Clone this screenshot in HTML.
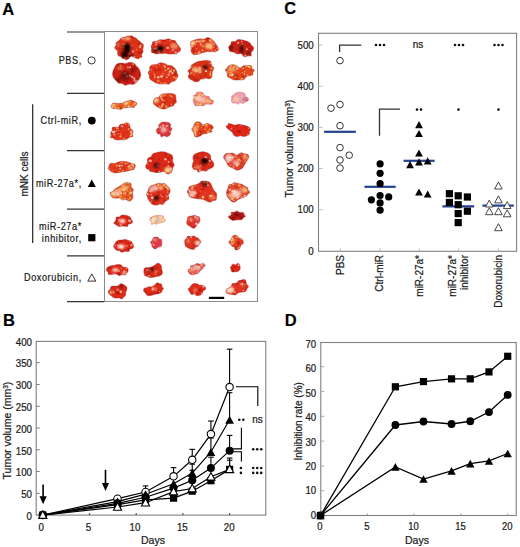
<!DOCTYPE html>
<html><head><meta charset="utf-8"><style>
html,body{margin:0;padding:0;background:#fff;}
body{width:520px;height:547px;overflow:hidden;}
svg{display:block;font-family:"Liberation Sans", sans-serif;}
text{stroke:#1a1a1a;stroke-width:0.22px;}
text.nb{stroke:none;}
</style></head><body>
<svg width="520" height="547" viewBox="0 0 520 547">
<text x="2.30" y="15.20" font-size="16.5" text-anchor="start" font-weight="bold" fill="#000">A</text>
<text x="284.20" y="14.30" font-size="16.5" text-anchor="start" font-weight="bold" fill="#000">C</text>
<text x="3.00" y="326.20" font-size="16.5" text-anchor="start" font-weight="bold" fill="#000">B</text>
<text x="284.80" y="326.20" font-size="16.5" text-anchor="start" font-weight="bold" fill="#000">D</text>
<line x1="67.00" y1="32.00" x2="104.50" y2="32.00" stroke="#333" stroke-width="1.2"/>
<line x1="67.00" y1="93.30" x2="104.50" y2="93.30" stroke="#333" stroke-width="1.2"/>
<line x1="67.00" y1="150.60" x2="104.50" y2="150.60" stroke="#333" stroke-width="1.2"/>
<line x1="67.00" y1="209.20" x2="104.50" y2="209.20" stroke="#333" stroke-width="1.2"/>
<line x1="67.00" y1="255.80" x2="104.50" y2="255.80" stroke="#333" stroke-width="1.2"/>
<line x1="67.00" y1="301.70" x2="104.50" y2="301.70" stroke="#333" stroke-width="1.2"/>
<line x1="32.70" y1="104.20" x2="32.70" y2="242.90" stroke="#222" stroke-width="1.2"/>
<text x="27.60" y="174.00" font-size="10" text-anchor="middle" font-weight="normal" fill="#1a1a1a" transform="rotate(-90 27.6 174)">mNK cells</text>
<text transform="translate(81.80 63.50) scale(0.86 1)" font-size="10.6" letter-spacing="0.7" text-anchor="end" fill="#1a1a1a">PBS,</text>
<circle cx="91.60" cy="60.40" r="3.6" fill="#fff" stroke="#333" stroke-width="1"/>
<text transform="translate(81.80 124.10) scale(0.86 1)" font-size="10.6" letter-spacing="0.7" text-anchor="end" fill="#1a1a1a">Ctrl-miR,</text>
<circle cx="91.80" cy="120.60" r="3.9" fill="#000" stroke="none" stroke-width="1"/>
<text transform="translate(81.80 186.80) scale(0.86 1)" font-size="10.6" letter-spacing="0.7" text-anchor="end" fill="#1a1a1a">miR-27a*,</text>
<path d="M91.80 179.50L95.80 186.90L87.80 186.90Z" fill="#000" stroke="none" stroke-width="1" stroke-linejoin="miter"/>
<text transform="translate(81.80 230.00) scale(0.86 1)" font-size="10.6" letter-spacing="0.7" text-anchor="end" fill="#1a1a1a">miR-27a*</text>
<text transform="translate(81.80 242.30) scale(0.86 1)" font-size="10.6" letter-spacing="0.7" text-anchor="end" fill="#1a1a1a">inhibitor,</text>
<rect x="88.20" y="234.10" width="7.2" height="7.2" fill="#000" stroke="none" stroke-width="1"/>
<text transform="translate(81.80 280.90) scale(0.86 1)" font-size="10.6" letter-spacing="0.7" text-anchor="end" fill="#1a1a1a">Doxorubicin,</text>
<path d="M91.80 273.90L95.80 281.10L87.80 281.10Z" fill="#fff" stroke="#333" stroke-width="1" stroke-linejoin="miter"/>
<g id="photo"><defs><filter id="bl2" x="-50%" y="-50%" width="200%" height="200%"><feGaussianBlur stdDeviation="0.9"/></filter><filter id="bl3" x="-50%" y="-50%" width="200%" height="200%"><feGaussianBlur stdDeviation="0.6"/></filter><filter id="tum" x="100" y="30" width="160" height="275" filterUnits="userSpaceOnUse"><feGaussianBlur stdDeviation="0.6"/></filter></defs><g filter="url(#tum)"><clipPath id="cA1"><path d="M114.7 48.0C114.5 47.1 115.7 46.4 116.0 45.6C116.2 44.7 115.8 43.6 116.1 42.8C116.5 42.1 117.5 41.7 118.1 41.2C118.7 40.6 119.2 40.0 119.9 39.4C120.5 38.8 121.0 37.8 121.9 37.4C122.8 37.0 124.2 37.4 125.1 37.2C125.9 37.0 126.3 36.5 126.9 36.3C127.6 36.1 128.2 36.1 129.0 36.0C129.8 35.9 130.8 35.5 131.6 35.8C132.4 36.0 133.2 37.2 134.0 37.6C134.7 38.0 135.6 37.8 136.3 38.2C137.0 38.6 137.3 39.6 137.9 40.1C138.5 40.7 139.2 41.0 139.8 41.5C140.3 42.0 140.8 42.5 141.4 43.1C142.0 43.6 143.0 44.0 143.3 44.6C143.6 45.3 143.4 46.2 143.3 47.0C143.2 47.8 142.8 48.6 142.7 49.5C142.7 50.3 143.2 51.3 143.0 52.0C142.8 52.8 141.8 53.4 141.6 54.2C141.4 55.1 142.1 56.6 141.8 57.2C141.5 57.8 140.2 57.4 139.7 57.6C139.2 57.9 139.0 58.7 138.5 58.8C138.1 59.0 137.7 58.9 137.2 58.8C136.6 58.6 135.8 58.1 135.1 57.8C134.5 57.5 134.0 57.2 133.5 56.9C132.9 56.7 132.4 56.3 131.9 56.3C131.4 56.2 131.0 56.2 130.5 56.5C130.0 56.9 129.7 57.7 129.0 58.3C128.4 58.8 127.3 59.7 126.6 59.9C126.0 60.0 125.6 59.4 124.9 59.1C124.3 58.9 123.3 58.8 122.6 58.4C122.0 58.1 121.9 57.3 121.2 56.8C120.5 56.4 119.0 56.3 118.4 55.8C117.8 55.2 117.8 54.3 117.6 53.5C117.4 52.6 117.9 51.5 117.4 50.6C116.9 49.7 115.0 48.8 114.7 48.0Z"/></clipPath><path d="M114.7 48.0C114.5 47.1 115.7 46.4 116.0 45.6C116.2 44.7 115.8 43.6 116.1 42.8C116.5 42.1 117.5 41.7 118.1 41.2C118.7 40.6 119.2 40.0 119.9 39.4C120.5 38.8 121.0 37.8 121.9 37.4C122.8 37.0 124.2 37.4 125.1 37.2C125.9 37.0 126.3 36.5 126.9 36.3C127.6 36.1 128.2 36.1 129.0 36.0C129.8 35.9 130.8 35.5 131.6 35.8C132.4 36.0 133.2 37.2 134.0 37.6C134.7 38.0 135.6 37.8 136.3 38.2C137.0 38.6 137.3 39.6 137.9 40.1C138.5 40.7 139.2 41.0 139.8 41.5C140.3 42.0 140.8 42.5 141.4 43.1C142.0 43.6 143.0 44.0 143.3 44.6C143.6 45.3 143.4 46.2 143.3 47.0C143.2 47.8 142.8 48.6 142.7 49.5C142.7 50.3 143.2 51.3 143.0 52.0C142.8 52.8 141.8 53.4 141.6 54.2C141.4 55.1 142.1 56.6 141.8 57.2C141.5 57.8 140.2 57.4 139.7 57.6C139.2 57.9 139.0 58.7 138.5 58.8C138.1 59.0 137.7 58.9 137.2 58.8C136.6 58.6 135.8 58.1 135.1 57.8C134.5 57.5 134.0 57.2 133.5 56.9C132.9 56.7 132.4 56.3 131.9 56.3C131.4 56.2 131.0 56.2 130.5 56.5C130.0 56.9 129.7 57.7 129.0 58.3C128.4 58.8 127.3 59.7 126.6 59.9C126.0 60.0 125.6 59.4 124.9 59.1C124.3 58.9 123.3 58.8 122.6 58.4C122.0 58.1 121.9 57.3 121.2 56.8C120.5 56.4 119.0 56.3 118.4 55.8C117.8 55.2 117.8 54.3 117.6 53.5C117.4 52.6 117.9 51.5 117.4 50.6C116.9 49.7 115.0 48.8 114.7 48.0Z" fill="#dc3018"/><g clip-path="url(#cA1)"><circle cx="138.7" cy="43.6" r="1.22" fill="#980a0a" opacity="0.40"/><circle cx="137.8" cy="37.0" r="1.45" fill="#980a0a" opacity="0.37"/><circle cx="118.6" cy="46.8" r="0.89" fill="#980a0a" opacity="0.38"/><circle cx="123.2" cy="56.8" r="1.22" fill="#980a0a" opacity="0.23"/><circle cx="140.0" cy="38.9" r="1.00" fill="#980a0a" opacity="0.17"/><circle cx="124.7" cy="36.8" r="1.44" fill="#980a0a" opacity="0.29"/><circle cx="120.6" cy="51.2" r="1.02" fill="#980a0a" opacity="0.27"/><circle cx="139.5" cy="52.7" r="1.51" fill="#980a0a" opacity="0.42"/><circle cx="132.2" cy="37.4" r="1.57" fill="#980a0a" opacity="0.38"/><circle cx="124.1" cy="44.5" r="1.07" fill="#980a0a" opacity="0.36"/><circle cx="130.6" cy="47.6" r="0.90" fill="#980a0a" opacity="0.28"/><circle cx="127.3" cy="44.2" r="1.45" fill="#980a0a" opacity="0.27"/><circle cx="127.4" cy="41.2" r="1.29" fill="#980a0a" opacity="0.19"/><circle cx="121.7" cy="54.4" r="1.04" fill="#980a0a" opacity="0.15"/><circle cx="131.1" cy="46.1" r="1.39" fill="#980a0a" opacity="0.39"/><circle cx="131.7" cy="48.0" r="1.05" fill="#980a0a" opacity="0.38"/><circle cx="139.6" cy="40.9" r="0.96" fill="#980a0a" opacity="0.21"/><circle cx="119.1" cy="44.6" r="0.87" fill="#980a0a" opacity="0.38"/><circle cx="119.8" cy="48.3" r="1.04" fill="#980a0a" opacity="0.32"/><circle cx="135.7" cy="36.8" r="1.23" fill="#980a0a" opacity="0.33"/><circle cx="141.9" cy="37.7" r="1.09" fill="#980a0a" opacity="0.22"/><circle cx="119.0" cy="40.2" r="0.72" fill="#980a0a" opacity="0.16"/><circle cx="120.3" cy="44.6" r="0.85" fill="#980a0a" opacity="0.33"/><circle cx="126.9" cy="56.1" r="1.43" fill="#980a0a" opacity="0.35"/><circle cx="122.4" cy="48.7" r="0.87" fill="#980a0a" opacity="0.42"/><circle cx="141.7" cy="52.0" r="1.24" fill="#980a0a" opacity="0.33"/><circle cx="141.9" cy="36.9" r="1.35" fill="#980a0a" opacity="0.34"/><circle cx="122.2" cy="51.6" r="0.78" fill="#980a0a" opacity="0.31"/><circle cx="131.8" cy="58.8" r="1.05" fill="#980a0a" opacity="0.38"/><circle cx="116.6" cy="45.7" r="1.30" fill="#980a0a" opacity="0.35"/><circle cx="115.2" cy="52.0" r="1.30" fill="#980a0a" opacity="0.41"/><circle cx="116.3" cy="39.0" r="0.56" fill="#ffe8b0" opacity="0.49"/><circle cx="136.3" cy="49.5" r="0.67" fill="#ffd8d0" opacity="0.59"/><circle cx="133.0" cy="51.6" r="1.24" fill="#ffc8c0" opacity="0.56"/><circle cx="138.3" cy="38.9" r="1.12" fill="#ffffff" opacity="0.53"/><circle cx="124.8" cy="57.7" r="1.24" fill="#ffc8c0" opacity="0.44"/><circle cx="122.7" cy="36.7" r="0.71" fill="#ffc8c0" opacity="0.70"/><circle cx="125.1" cy="44.4" r="0.72" fill="#ffe8b0" opacity="0.74"/><circle cx="131.3" cy="45.6" r="0.91" fill="#ffffff" opacity="0.43"/><circle cx="124.4" cy="47.5" r="1.30" fill="#ffc8c0" opacity="0.65"/><circle cx="128.2" cy="38.6" r="1.18" fill="#ffc8c0" opacity="0.42"/><circle cx="122.3" cy="38.3" r="1.30" fill="#ffffff" opacity="0.51"/><circle cx="127.0" cy="45.7" r="0.58" fill="#ffc8c0" opacity="0.55"/><circle cx="123.5" cy="44.1" r="0.82" fill="#ffc8c0" opacity="0.78"/><circle cx="139.9" cy="47.2" r="1.15" fill="#ffe8b0" opacity="0.61"/><circle cx="134.3" cy="56.9" r="0.99" fill="#ffe8e0" opacity="0.76"/><circle cx="130.0" cy="47.9" r="0.81" fill="#ffffff" opacity="0.73"/><circle cx="130.0" cy="49.5" r="0.97" fill="#ffc8c0" opacity="0.58"/><circle cx="129.6" cy="53.9" r="0.89" fill="#ffc8c0" opacity="0.54"/><circle cx="140.7" cy="45.6" r="0.97" fill="#ffc8c0" opacity="0.78"/><ellipse cx="127" cy="38.5" rx="4" ry="2" fill="#ffe49a" opacity="0.6" filter="url(#bl2)"/><ellipse cx="118" cy="45" rx="2" ry="2" fill="#ffe49a" opacity="0.4" filter="url(#bl2)"/><ellipse cx="127" cy="48.5" rx="3.8" ry="5" fill="#1e0404" opacity="0.9974999999999999" filter="url(#bl2)"/><ellipse cx="124.5" cy="54.5" rx="3.5" ry="3.5" fill="#1e0404" opacity="0.9450000000000001" filter="url(#bl2)"/><ellipse cx="131" cy="56" rx="2.5" ry="2.5" fill="#1e0404" opacity="0.63" filter="url(#bl2)"/></g><path d="M114.7 48.0C114.5 47.1 115.7 46.4 116.0 45.6C116.2 44.7 115.8 43.6 116.1 42.8C116.5 42.1 117.5 41.7 118.1 41.2C118.7 40.6 119.2 40.0 119.9 39.4C120.5 38.8 121.0 37.8 121.9 37.4C122.8 37.0 124.2 37.4 125.1 37.2C125.9 37.0 126.3 36.5 126.9 36.3C127.6 36.1 128.2 36.1 129.0 36.0C129.8 35.9 130.8 35.5 131.6 35.8C132.4 36.0 133.2 37.2 134.0 37.6C134.7 38.0 135.6 37.8 136.3 38.2C137.0 38.6 137.3 39.6 137.9 40.1C138.5 40.7 139.2 41.0 139.8 41.5C140.3 42.0 140.8 42.5 141.4 43.1C142.0 43.6 143.0 44.0 143.3 44.6C143.6 45.3 143.4 46.2 143.3 47.0C143.2 47.8 142.8 48.6 142.7 49.5C142.7 50.3 143.2 51.3 143.0 52.0C142.8 52.8 141.8 53.4 141.6 54.2C141.4 55.1 142.1 56.6 141.8 57.2C141.5 57.8 140.2 57.4 139.7 57.6C139.2 57.9 139.0 58.7 138.5 58.8C138.1 59.0 137.7 58.9 137.2 58.8C136.6 58.6 135.8 58.1 135.1 57.8C134.5 57.5 134.0 57.2 133.5 56.9C132.9 56.7 132.4 56.3 131.9 56.3C131.4 56.2 131.0 56.2 130.5 56.5C130.0 56.9 129.7 57.7 129.0 58.3C128.4 58.8 127.3 59.7 126.6 59.9C126.0 60.0 125.6 59.4 124.9 59.1C124.3 58.9 123.3 58.8 122.6 58.4C122.0 58.1 121.9 57.3 121.2 56.8C120.5 56.4 119.0 56.3 118.4 55.8C117.8 55.2 117.8 54.3 117.6 53.5C117.4 52.6 117.9 51.5 117.4 50.6C116.9 49.7 115.0 48.8 114.7 48.0Z" fill="none" stroke="#8e0c10" stroke-width="1.1" stroke-opacity="0.32"/><clipPath id="cA2"><path d="M151.1 46.4C151.2 45.6 152.1 45.0 152.4 44.2C152.7 43.4 152.2 42.2 153.0 41.7C153.8 41.2 155.8 41.5 156.9 41.2C158.0 40.8 158.4 40.0 159.6 39.8C160.8 39.6 162.6 40.0 164.1 39.9C165.6 39.7 167.4 38.7 168.6 38.7C169.8 38.8 170.4 39.7 171.5 40.1C172.6 40.4 174.2 40.2 175.1 40.8C176.0 41.4 176.2 42.8 176.9 43.8C177.6 44.7 178.5 45.6 179.1 46.4C179.7 47.3 180.4 48.0 180.5 48.8C180.7 49.5 180.4 50.3 180.0 50.9C179.5 51.5 178.4 51.8 177.8 52.3C177.2 52.8 177.2 53.7 176.3 54.0C175.3 54.2 173.6 53.9 172.3 53.9C171.0 53.9 169.7 54.0 168.5 53.9C167.4 53.7 166.5 53.3 165.5 53.2C164.5 53.1 163.4 53.4 162.4 53.5C161.4 53.5 160.5 53.5 159.5 53.6C158.5 53.7 157.4 54.0 156.4 53.9C155.4 53.8 154.5 53.4 153.7 53.1C152.9 52.7 151.8 52.5 151.5 51.9C151.1 51.2 151.7 50.0 151.6 49.1C151.6 48.2 151.0 47.2 151.1 46.4Z"/></clipPath><path d="M151.1 46.4C151.2 45.6 152.1 45.0 152.4 44.2C152.7 43.4 152.2 42.2 153.0 41.7C153.8 41.2 155.8 41.5 156.9 41.2C158.0 40.8 158.4 40.0 159.6 39.8C160.8 39.6 162.6 40.0 164.1 39.9C165.6 39.7 167.4 38.7 168.6 38.7C169.8 38.8 170.4 39.7 171.5 40.1C172.6 40.4 174.2 40.2 175.1 40.8C176.0 41.4 176.2 42.8 176.9 43.8C177.6 44.7 178.5 45.6 179.1 46.4C179.7 47.3 180.4 48.0 180.5 48.8C180.7 49.5 180.4 50.3 180.0 50.9C179.5 51.5 178.4 51.8 177.8 52.3C177.2 52.8 177.2 53.7 176.3 54.0C175.3 54.2 173.6 53.9 172.3 53.9C171.0 53.9 169.7 54.0 168.5 53.9C167.4 53.7 166.5 53.3 165.5 53.2C164.5 53.1 163.4 53.4 162.4 53.5C161.4 53.5 160.5 53.5 159.5 53.6C158.5 53.7 157.4 54.0 156.4 53.9C155.4 53.8 154.5 53.4 153.7 53.1C152.9 52.7 151.8 52.5 151.5 51.9C151.1 51.2 151.7 50.0 151.6 49.1C151.6 48.2 151.0 47.2 151.1 46.4Z" fill="#e0301c"/><g clip-path="url(#cA2)"><circle cx="167.8" cy="50.9" r="1.49" fill="#980a0a" opacity="0.19"/><circle cx="167.0" cy="53.9" r="1.53" fill="#980a0a" opacity="0.29"/><circle cx="179.7" cy="43.9" r="1.55" fill="#980a0a" opacity="0.27"/><circle cx="161.6" cy="40.3" r="1.04" fill="#980a0a" opacity="0.23"/><circle cx="165.2" cy="46.7" r="1.00" fill="#980a0a" opacity="0.33"/><circle cx="170.1" cy="47.7" r="1.14" fill="#980a0a" opacity="0.16"/><circle cx="154.4" cy="51.9" r="1.45" fill="#980a0a" opacity="0.27"/><circle cx="167.7" cy="49.9" r="1.54" fill="#980a0a" opacity="0.15"/><circle cx="161.3" cy="50.8" r="1.60" fill="#980a0a" opacity="0.35"/><circle cx="164.7" cy="40.2" r="1.29" fill="#980a0a" opacity="0.29"/><circle cx="177.1" cy="51.7" r="0.93" fill="#980a0a" opacity="0.21"/><circle cx="179.0" cy="43.5" r="1.17" fill="#980a0a" opacity="0.22"/><circle cx="174.0" cy="41.5" r="1.21" fill="#980a0a" opacity="0.34"/><circle cx="171.4" cy="49.4" r="1.30" fill="#980a0a" opacity="0.19"/><circle cx="163.1" cy="40.5" r="1.22" fill="#980a0a" opacity="0.20"/><circle cx="161.5" cy="51.6" r="1.12" fill="#980a0a" opacity="0.42"/><circle cx="171.7" cy="39.0" r="1.56" fill="#980a0a" opacity="0.18"/><circle cx="179.9" cy="40.7" r="0.74" fill="#980a0a" opacity="0.30"/><circle cx="152.7" cy="43.7" r="1.18" fill="#980a0a" opacity="0.42"/><circle cx="167.8" cy="45.5" r="1.42" fill="#980a0a" opacity="0.39"/><circle cx="155.1" cy="38.9" r="1.17" fill="#980a0a" opacity="0.42"/><circle cx="162.8" cy="50.7" r="1.14" fill="#980a0a" opacity="0.22"/><circle cx="159.5" cy="50.3" r="1.26" fill="#ffe8b0" opacity="0.77"/><circle cx="175.7" cy="52.7" r="1.26" fill="#ffffff" opacity="0.59"/><circle cx="174.6" cy="38.8" r="0.99" fill="#ffffff" opacity="0.43"/><circle cx="162.9" cy="51.4" r="0.51" fill="#ffd8d0" opacity="0.52"/><circle cx="167.6" cy="47.8" r="1.22" fill="#ffe8e0" opacity="0.56"/><circle cx="156.0" cy="44.4" r="1.03" fill="#ffffff" opacity="0.45"/><circle cx="176.7" cy="46.3" r="0.52" fill="#ffc8c0" opacity="0.49"/><circle cx="159.2" cy="53.5" r="0.98" fill="#ffffff" opacity="0.54"/><circle cx="162.8" cy="49.5" r="1.12" fill="#ffe8b0" opacity="0.40"/><circle cx="172.8" cy="50.0" r="1.01" fill="#ffe8e0" opacity="0.56"/><circle cx="154.2" cy="48.8" r="0.87" fill="#ffe8b0" opacity="0.56"/><circle cx="162.5" cy="46.4" r="0.64" fill="#ffe8b0" opacity="0.49"/><circle cx="168.1" cy="47.9" r="0.82" fill="#ffd8d0" opacity="0.49"/><circle cx="170.2" cy="40.6" r="0.80" fill="#ffe8b0" opacity="0.48"/><circle cx="156.2" cy="42.1" r="0.96" fill="#ffe8e0" opacity="0.58"/><circle cx="156.2" cy="48.4" r="0.91" fill="#ffffff" opacity="0.71"/><circle cx="154.5" cy="48.8" r="0.69" fill="#ffc8c0" opacity="0.64"/><ellipse cx="174" cy="46" rx="4" ry="3" fill="#ffe49a" opacity="0.5" filter="url(#bl2)"/><ellipse cx="158" cy="41" rx="3" ry="1.5" fill="#ffe49a" opacity="0.6" filter="url(#bl2)"/><ellipse cx="160.5" cy="48.5" rx="3.4" ry="3" fill="#1e0404" opacity="0.9974999999999999" filter="url(#bl2)"/><ellipse cx="155" cy="50.5" rx="2.5" ry="2.5" fill="#1e0404" opacity="0.525" filter="url(#bl2)"/></g><path d="M151.1 46.4C151.2 45.6 152.1 45.0 152.4 44.2C152.7 43.4 152.2 42.2 153.0 41.7C153.8 41.2 155.8 41.5 156.9 41.2C158.0 40.8 158.4 40.0 159.6 39.8C160.8 39.6 162.6 40.0 164.1 39.9C165.6 39.7 167.4 38.7 168.6 38.7C169.8 38.8 170.4 39.7 171.5 40.1C172.6 40.4 174.2 40.2 175.1 40.8C176.0 41.4 176.2 42.8 176.9 43.8C177.6 44.7 178.5 45.6 179.1 46.4C179.7 47.3 180.4 48.0 180.5 48.8C180.7 49.5 180.4 50.3 180.0 50.9C179.5 51.5 178.4 51.8 177.8 52.3C177.2 52.8 177.2 53.7 176.3 54.0C175.3 54.2 173.6 53.9 172.3 53.9C171.0 53.9 169.7 54.0 168.5 53.9C167.4 53.7 166.5 53.3 165.5 53.2C164.5 53.1 163.4 53.4 162.4 53.5C161.4 53.5 160.5 53.5 159.5 53.6C158.5 53.7 157.4 54.0 156.4 53.9C155.4 53.8 154.5 53.4 153.7 53.1C152.9 52.7 151.8 52.5 151.5 51.9C151.1 51.2 151.7 50.0 151.6 49.1C151.6 48.2 151.0 47.2 151.1 46.4Z" fill="none" stroke="#8e0c10" stroke-width="1.1" stroke-opacity="0.32"/><clipPath id="cA3"><path d="M190.9 41.8C191.6 40.9 193.5 40.5 195.0 39.9C196.5 39.4 198.6 38.9 200.0 38.7C201.5 38.6 202.5 39.5 203.8 39.3C205.1 39.1 206.6 37.6 207.8 37.6C209.1 37.6 210.4 38.5 211.4 39.2C212.4 39.9 213.2 40.7 214.1 41.7C214.9 42.6 215.6 43.8 216.3 44.8C217.0 45.9 218.0 47.0 218.3 47.9C218.6 48.8 218.6 49.5 218.1 50.1C217.6 50.7 216.5 51.5 215.2 51.7C214.0 52.0 212.0 51.6 210.5 51.6C209.0 51.6 207.5 51.5 206.1 51.7C204.8 51.8 203.7 52.3 202.4 52.7C201.1 53.1 199.5 53.8 198.4 54.1C197.4 54.4 196.9 54.3 196.2 54.4C195.4 54.5 194.7 55.0 193.9 54.7C193.2 54.4 192.1 53.5 191.6 52.6C191.2 51.8 191.2 50.8 191.0 49.6C190.9 48.4 190.9 46.9 190.9 45.6C190.9 44.3 190.2 42.8 190.9 41.8Z"/></clipPath><path d="M190.9 41.8C191.6 40.9 193.5 40.5 195.0 39.9C196.5 39.4 198.6 38.9 200.0 38.7C201.5 38.6 202.5 39.5 203.8 39.3C205.1 39.1 206.6 37.6 207.8 37.6C209.1 37.6 210.4 38.5 211.4 39.2C212.4 39.9 213.2 40.7 214.1 41.7C214.9 42.6 215.6 43.8 216.3 44.8C217.0 45.9 218.0 47.0 218.3 47.9C218.6 48.8 218.6 49.5 218.1 50.1C217.6 50.7 216.5 51.5 215.2 51.7C214.0 52.0 212.0 51.6 210.5 51.6C209.0 51.6 207.5 51.5 206.1 51.7C204.8 51.8 203.7 52.3 202.4 52.7C201.1 53.1 199.5 53.8 198.4 54.1C197.4 54.4 196.9 54.3 196.2 54.4C195.4 54.5 194.7 55.0 193.9 54.7C193.2 54.4 192.1 53.5 191.6 52.6C191.2 51.8 191.2 50.8 191.0 49.6C190.9 48.4 190.9 46.9 190.9 45.6C190.9 44.3 190.2 42.8 190.9 41.8Z" fill="#e2361a"/><g clip-path="url(#cA3)"><circle cx="194.5" cy="51.8" r="0.78" fill="#980a0a" opacity="0.41"/><circle cx="195.1" cy="45.4" r="1.22" fill="#980a0a" opacity="0.29"/><circle cx="208.1" cy="41.4" r="1.57" fill="#980a0a" opacity="0.20"/><circle cx="199.4" cy="39.7" r="1.21" fill="#980a0a" opacity="0.40"/><circle cx="218.1" cy="52.0" r="1.08" fill="#980a0a" opacity="0.33"/><circle cx="203.9" cy="41.1" r="1.50" fill="#980a0a" opacity="0.29"/><circle cx="214.3" cy="43.5" r="1.12" fill="#980a0a" opacity="0.24"/><circle cx="214.3" cy="44.9" r="1.47" fill="#980a0a" opacity="0.34"/><circle cx="192.7" cy="43.7" r="1.02" fill="#980a0a" opacity="0.37"/><circle cx="194.4" cy="38.5" r="1.23" fill="#980a0a" opacity="0.40"/><circle cx="204.2" cy="52.2" r="0.95" fill="#980a0a" opacity="0.26"/><circle cx="207.7" cy="38.9" r="1.53" fill="#980a0a" opacity="0.38"/><circle cx="198.5" cy="42.5" r="1.11" fill="#980a0a" opacity="0.32"/><circle cx="215.7" cy="47.6" r="1.17" fill="#980a0a" opacity="0.24"/><circle cx="192.4" cy="48.3" r="1.59" fill="#980a0a" opacity="0.42"/><circle cx="191.9" cy="42.0" r="1.19" fill="#980a0a" opacity="0.22"/><circle cx="196.4" cy="47.4" r="0.73" fill="#980a0a" opacity="0.38"/><circle cx="191.4" cy="53.1" r="1.42" fill="#980a0a" opacity="0.21"/><circle cx="204.5" cy="44.1" r="1.19" fill="#980a0a" opacity="0.28"/><circle cx="193.9" cy="51.6" r="1.33" fill="#980a0a" opacity="0.30"/><circle cx="215.8" cy="54.3" r="1.29" fill="#980a0a" opacity="0.35"/><circle cx="192.4" cy="51.0" r="0.87" fill="#980a0a" opacity="0.26"/><circle cx="201.1" cy="51.7" r="0.96" fill="#980a0a" opacity="0.35"/><circle cx="214.2" cy="44.1" r="1.21" fill="#ffe8a0" opacity="0.54"/><circle cx="202.9" cy="46.3" r="1.26" fill="#ffd870" opacity="0.46"/><circle cx="202.5" cy="50.3" r="1.14" fill="#ffffff" opacity="0.52"/><circle cx="200.8" cy="44.6" r="1.00" fill="#ffe0c0" opacity="0.73"/><circle cx="196.4" cy="41.3" r="0.84" fill="#ffffff" opacity="0.55"/><circle cx="212.1" cy="53.3" r="1.05" fill="#ffe8a0" opacity="0.49"/><circle cx="211.1" cy="40.5" r="1.20" fill="#ffc860" opacity="0.46"/><circle cx="212.4" cy="50.8" r="0.67" fill="#ffe0c0" opacity="0.71"/><circle cx="194.7" cy="42.8" r="0.54" fill="#ffd870" opacity="0.74"/><circle cx="199.3" cy="41.7" r="0.61" fill="#fff4d8" opacity="0.60"/><circle cx="191.8" cy="46.7" r="0.88" fill="#fff4d8" opacity="0.74"/><circle cx="191.4" cy="52.9" r="1.06" fill="#ffd870" opacity="0.73"/><circle cx="218.4" cy="39.9" r="0.98" fill="#ffc860" opacity="0.51"/><circle cx="211.6" cy="46.6" r="0.62" fill="#ffc860" opacity="0.66"/><circle cx="215.2" cy="50.4" r="0.81" fill="#fff4d8" opacity="0.44"/><circle cx="214.2" cy="47.1" r="0.59" fill="#ffe8a0" opacity="0.68"/><circle cx="212.4" cy="42.3" r="0.82" fill="#fff4d8" opacity="0.70"/><circle cx="196.4" cy="48.6" r="0.56" fill="#fff4d8" opacity="0.62"/><circle cx="217.5" cy="48.3" r="0.98" fill="#ffc860" opacity="0.64"/><circle cx="196.4" cy="41.2" r="0.60" fill="#ffe0c0" opacity="0.73"/><circle cx="210.9" cy="48.5" r="1.11" fill="#ffe8a0" opacity="0.59"/><circle cx="198.7" cy="41.0" r="0.64" fill="#ffe0c0" opacity="0.69"/><circle cx="191.1" cy="48.4" r="1.10" fill="#ffe8a0" opacity="0.61"/><circle cx="210.1" cy="40.5" r="1.38" fill="#ffd878" opacity="0.62"/><circle cx="198.8" cy="53.5" r="1.36" fill="#ffd878" opacity="0.65"/><circle cx="195.4" cy="53.6" r="1.07" fill="#ffd878" opacity="0.46"/><circle cx="203.8" cy="40.8" r="1.39" fill="#ffd878" opacity="0.59"/><circle cx="199.6" cy="52.5" r="1.46" fill="#ffd878" opacity="0.49"/><circle cx="197.2" cy="41.7" r="1.01" fill="#ffd878" opacity="0.51"/><ellipse cx="192" cy="43" rx="3.5" ry="3" fill="#ffe49a" opacity="0.9" filter="url(#bl2)"/><ellipse cx="209" cy="46" rx="4" ry="3" fill="#ffe49a" opacity="0.8" filter="url(#bl2)"/><ellipse cx="201" cy="41" rx="3" ry="2" fill="#ffe49a" opacity="0.5" filter="url(#bl2)"/></g><path d="M190.9 41.8C191.6 40.9 193.5 40.5 195.0 39.9C196.5 39.4 198.6 38.9 200.0 38.7C201.5 38.6 202.5 39.5 203.8 39.3C205.1 39.1 206.6 37.6 207.8 37.6C209.1 37.6 210.4 38.5 211.4 39.2C212.4 39.9 213.2 40.7 214.1 41.7C214.9 42.6 215.6 43.8 216.3 44.8C217.0 45.9 218.0 47.0 218.3 47.9C218.6 48.8 218.6 49.5 218.1 50.1C217.6 50.7 216.5 51.5 215.2 51.7C214.0 52.0 212.0 51.6 210.5 51.6C209.0 51.6 207.5 51.5 206.1 51.7C204.8 51.8 203.7 52.3 202.4 52.7C201.1 53.1 199.5 53.8 198.4 54.1C197.4 54.4 196.9 54.3 196.2 54.4C195.4 54.5 194.7 55.0 193.9 54.7C193.2 54.4 192.1 53.5 191.6 52.6C191.2 51.8 191.2 50.8 191.0 49.6C190.9 48.4 190.9 46.9 190.9 45.6C190.9 44.3 190.2 42.8 190.9 41.8Z" fill="none" stroke="#8e0c10" stroke-width="1.1" stroke-opacity="0.32"/><clipPath id="cA4"><path d="M228.9 46.4C229.2 45.7 230.5 45.2 230.9 44.4C231.3 43.6 230.6 42.2 231.4 41.7C232.1 41.2 234.2 41.7 235.4 41.4C236.6 41.0 237.3 39.8 238.4 39.6C239.6 39.4 241.1 39.9 242.4 40.1C243.7 40.3 245.1 40.6 246.2 41.0C247.4 41.4 248.5 41.9 249.3 42.6C250.1 43.3 250.4 44.1 251.1 44.9C251.8 45.7 253.2 46.5 253.5 47.4C253.9 48.3 253.5 49.3 253.1 50.2C252.7 51.0 251.5 51.6 251.1 52.5C250.8 53.4 251.6 55.2 251.1 55.8C250.5 56.3 248.7 55.7 247.6 55.9C246.6 56.1 245.5 56.8 244.7 56.7C243.9 56.6 243.5 55.9 242.8 55.3C242.2 54.8 241.8 53.7 240.8 53.5C239.8 53.2 237.7 54.0 236.6 53.8C235.5 53.6 234.9 52.7 234.1 52.3C233.3 52.0 232.3 52.0 231.6 51.8C230.9 51.5 230.1 51.5 229.7 51.0C229.2 50.5 229.2 49.5 229.0 48.7C228.9 47.9 228.6 47.1 228.9 46.4Z"/></clipPath><path d="M228.9 46.4C229.2 45.7 230.5 45.2 230.9 44.4C231.3 43.6 230.6 42.2 231.4 41.7C232.1 41.2 234.2 41.7 235.4 41.4C236.6 41.0 237.3 39.8 238.4 39.6C239.6 39.4 241.1 39.9 242.4 40.1C243.7 40.3 245.1 40.6 246.2 41.0C247.4 41.4 248.5 41.9 249.3 42.6C250.1 43.3 250.4 44.1 251.1 44.9C251.8 45.7 253.2 46.5 253.5 47.4C253.9 48.3 253.5 49.3 253.1 50.2C252.7 51.0 251.5 51.6 251.1 52.5C250.8 53.4 251.6 55.2 251.1 55.8C250.5 56.3 248.7 55.7 247.6 55.9C246.6 56.1 245.5 56.8 244.7 56.7C243.9 56.6 243.5 55.9 242.8 55.3C242.2 54.8 241.8 53.7 240.8 53.5C239.8 53.2 237.7 54.0 236.6 53.8C235.5 53.6 234.9 52.7 234.1 52.3C233.3 52.0 232.3 52.0 231.6 51.8C230.9 51.5 230.1 51.5 229.7 51.0C229.2 50.5 229.2 49.5 229.0 48.7C228.9 47.9 228.6 47.1 228.9 46.4Z" fill="#cc2416"/><g clip-path="url(#cA4)"><circle cx="251.8" cy="43.1" r="1.24" fill="#980a0a" opacity="0.34"/><circle cx="233.6" cy="44.2" r="1.15" fill="#980a0a" opacity="0.32"/><circle cx="248.9" cy="44.9" r="1.03" fill="#980a0a" opacity="0.20"/><circle cx="243.3" cy="43.2" r="0.74" fill="#980a0a" opacity="0.29"/><circle cx="240.4" cy="45.9" r="0.94" fill="#980a0a" opacity="0.39"/><circle cx="243.2" cy="56.2" r="0.77" fill="#980a0a" opacity="0.29"/><circle cx="246.6" cy="56.3" r="1.02" fill="#980a0a" opacity="0.25"/><circle cx="245.9" cy="43.3" r="0.71" fill="#980a0a" opacity="0.18"/><circle cx="237.9" cy="54.7" r="1.58" fill="#980a0a" opacity="0.41"/><circle cx="250.5" cy="49.2" r="1.50" fill="#980a0a" opacity="0.29"/><circle cx="251.1" cy="53.8" r="0.89" fill="#980a0a" opacity="0.21"/><circle cx="249.5" cy="48.6" r="1.18" fill="#980a0a" opacity="0.34"/><circle cx="232.1" cy="44.3" r="0.71" fill="#980a0a" opacity="0.39"/><circle cx="233.1" cy="55.7" r="1.49" fill="#980a0a" opacity="0.23"/><circle cx="236.9" cy="49.1" r="0.91" fill="#980a0a" opacity="0.35"/><circle cx="247.3" cy="45.1" r="1.47" fill="#980a0a" opacity="0.35"/><circle cx="246.6" cy="41.9" r="1.04" fill="#980a0a" opacity="0.35"/><circle cx="250.6" cy="44.1" r="1.25" fill="#980a0a" opacity="0.28"/><circle cx="232.1" cy="43.6" r="0.73" fill="#980a0a" opacity="0.32"/><circle cx="230.8" cy="53.0" r="0.82" fill="#980a0a" opacity="0.29"/><circle cx="245.5" cy="55.7" r="1.10" fill="#ffe8e0" opacity="0.65"/><circle cx="241.7" cy="41.4" r="0.73" fill="#ffffff" opacity="0.68"/><circle cx="235.9" cy="52.4" r="0.52" fill="#ffffff" opacity="0.54"/><circle cx="242.3" cy="43.9" r="0.79" fill="#ffe8e0" opacity="0.52"/><circle cx="229.7" cy="55.9" r="0.98" fill="#ffc8c0" opacity="0.49"/><circle cx="240.6" cy="54.0" r="0.64" fill="#ffe8e0" opacity="0.65"/><circle cx="233.9" cy="55.7" r="0.81" fill="#ffc8c0" opacity="0.49"/><circle cx="246.1" cy="56.2" r="0.53" fill="#ffe8b0" opacity="0.72"/><circle cx="246.9" cy="49.2" r="0.99" fill="#ffd8d0" opacity="0.66"/><circle cx="231.6" cy="41.8" r="0.82" fill="#ffffff" opacity="0.80"/><circle cx="240.3" cy="45.5" r="0.66" fill="#ffe8e0" opacity="0.58"/><circle cx="238.2" cy="42.8" r="0.95" fill="#ffe8e0" opacity="0.78"/><ellipse cx="241.5" cy="49" rx="1.8" ry="4.5" fill="#1e0404" opacity="0.8400000000000001" filter="url(#bl2)"/><ellipse cx="231" cy="48" rx="2" ry="3" fill="#1e0404" opacity="0.525" filter="url(#bl2)"/><ellipse cx="248" cy="53" rx="2.5" ry="2" fill="#1e0404" opacity="0.42000000000000004" filter="url(#bl2)"/></g><path d="M228.9 46.4C229.2 45.7 230.5 45.2 230.9 44.4C231.3 43.6 230.6 42.2 231.4 41.7C232.1 41.2 234.2 41.7 235.4 41.4C236.6 41.0 237.3 39.8 238.4 39.6C239.6 39.4 241.1 39.9 242.4 40.1C243.7 40.3 245.1 40.6 246.2 41.0C247.4 41.4 248.5 41.9 249.3 42.6C250.1 43.3 250.4 44.1 251.1 44.9C251.8 45.7 253.2 46.5 253.5 47.4C253.9 48.3 253.5 49.3 253.1 50.2C252.7 51.0 251.5 51.6 251.1 52.5C250.8 53.4 251.6 55.2 251.1 55.8C250.5 56.3 248.7 55.7 247.6 55.9C246.6 56.1 245.5 56.8 244.7 56.7C243.9 56.6 243.5 55.9 242.8 55.3C242.2 54.8 241.8 53.7 240.8 53.5C239.8 53.2 237.7 54.0 236.6 53.8C235.5 53.6 234.9 52.7 234.1 52.3C233.3 52.0 232.3 52.0 231.6 51.8C230.9 51.5 230.1 51.5 229.7 51.0C229.2 50.5 229.2 49.5 229.0 48.7C228.9 47.9 228.6 47.1 228.9 46.4Z" fill="none" stroke="#8e0c10" stroke-width="1.1" stroke-opacity="0.32"/><clipPath id="cB1"><path d="M113.1 71.0C113.4 69.9 113.9 69.2 114.3 68.3C114.7 67.4 115.1 66.5 115.6 65.7C116.2 64.9 116.8 64.3 117.6 63.8C118.5 63.4 119.6 63.1 120.9 63.1C122.1 63.0 123.7 63.8 125.0 63.7C126.2 63.6 127.4 62.8 128.6 62.6C129.8 62.4 131.0 62.3 132.0 62.5C133.1 62.8 134.0 63.4 134.8 64.0C135.5 64.7 135.8 65.6 136.4 66.3C136.9 66.9 137.7 67.4 138.3 68.1C138.9 68.9 139.5 69.9 139.9 70.9C140.3 71.9 140.5 72.9 140.6 74.0C140.6 75.1 140.6 76.4 140.2 77.4C139.9 78.4 139.0 79.2 138.3 80.0C137.7 80.9 137.0 81.7 136.2 82.4C135.4 83.1 134.5 84.0 133.4 84.3C132.2 84.6 130.6 83.9 129.3 84.1C128.0 84.2 126.6 85.3 125.5 85.2C124.3 85.1 123.5 83.7 122.3 83.4C121.2 83.1 119.6 83.6 118.7 83.2C117.7 82.8 117.2 81.6 116.5 80.9C115.8 80.1 114.9 79.6 114.3 78.6C113.6 77.6 112.8 76.2 112.6 74.9C112.4 73.7 112.8 72.1 113.1 71.0Z"/></clipPath><path d="M113.1 71.0C113.4 69.9 113.9 69.2 114.3 68.3C114.7 67.4 115.1 66.5 115.6 65.7C116.2 64.9 116.8 64.3 117.6 63.8C118.5 63.4 119.6 63.1 120.9 63.1C122.1 63.0 123.7 63.8 125.0 63.7C126.2 63.6 127.4 62.8 128.6 62.6C129.8 62.4 131.0 62.3 132.0 62.5C133.1 62.8 134.0 63.4 134.8 64.0C135.5 64.7 135.8 65.6 136.4 66.3C136.9 66.9 137.7 67.4 138.3 68.1C138.9 68.9 139.5 69.9 139.9 70.9C140.3 71.9 140.5 72.9 140.6 74.0C140.6 75.1 140.6 76.4 140.2 77.4C139.9 78.4 139.0 79.2 138.3 80.0C137.7 80.9 137.0 81.7 136.2 82.4C135.4 83.1 134.5 84.0 133.4 84.3C132.2 84.6 130.6 83.9 129.3 84.1C128.0 84.2 126.6 85.3 125.5 85.2C124.3 85.1 123.5 83.7 122.3 83.4C121.2 83.1 119.6 83.6 118.7 83.2C117.7 82.8 117.2 81.6 116.5 80.9C115.8 80.1 114.9 79.6 114.3 78.6C113.6 77.6 112.8 76.2 112.6 74.9C112.4 73.7 112.8 72.1 113.1 71.0Z" fill="#cc2214"/><g clip-path="url(#cB1)"><circle cx="130.6" cy="75.7" r="1.49" fill="#980a0a" opacity="0.28"/><circle cx="130.7" cy="79.2" r="1.58" fill="#980a0a" opacity="0.20"/><circle cx="116.0" cy="66.4" r="1.42" fill="#980a0a" opacity="0.23"/><circle cx="130.9" cy="80.1" r="0.92" fill="#980a0a" opacity="0.31"/><circle cx="130.9" cy="72.4" r="1.36" fill="#980a0a" opacity="0.36"/><circle cx="119.9" cy="77.8" r="1.58" fill="#980a0a" opacity="0.21"/><circle cx="134.2" cy="78.7" r="1.56" fill="#980a0a" opacity="0.21"/><circle cx="140.0" cy="75.2" r="1.33" fill="#980a0a" opacity="0.41"/><circle cx="134.5" cy="66.9" r="1.39" fill="#980a0a" opacity="0.20"/><circle cx="128.6" cy="66.8" r="0.88" fill="#980a0a" opacity="0.31"/><circle cx="123.9" cy="65.5" r="0.73" fill="#980a0a" opacity="0.26"/><circle cx="118.3" cy="64.7" r="1.43" fill="#980a0a" opacity="0.30"/><circle cx="130.2" cy="77.5" r="1.25" fill="#980a0a" opacity="0.18"/><circle cx="113.9" cy="68.0" r="0.81" fill="#980a0a" opacity="0.22"/><circle cx="131.9" cy="65.3" r="0.87" fill="#980a0a" opacity="0.23"/><circle cx="120.0" cy="66.7" r="1.55" fill="#980a0a" opacity="0.25"/><circle cx="120.8" cy="67.9" r="1.35" fill="#980a0a" opacity="0.19"/><circle cx="133.0" cy="75.0" r="1.42" fill="#980a0a" opacity="0.27"/><circle cx="130.4" cy="71.1" r="1.46" fill="#980a0a" opacity="0.37"/><circle cx="123.2" cy="76.1" r="1.27" fill="#980a0a" opacity="0.33"/><circle cx="119.7" cy="71.1" r="1.18" fill="#980a0a" opacity="0.40"/><circle cx="113.7" cy="72.1" r="1.27" fill="#980a0a" opacity="0.19"/><circle cx="127.6" cy="78.4" r="0.75" fill="#980a0a" opacity="0.37"/><circle cx="130.8" cy="77.7" r="0.76" fill="#980a0a" opacity="0.27"/><circle cx="127.4" cy="82.1" r="1.48" fill="#980a0a" opacity="0.34"/><circle cx="126.0" cy="62.6" r="1.33" fill="#980a0a" opacity="0.35"/><circle cx="117.2" cy="70.0" r="0.91" fill="#980a0a" opacity="0.17"/><circle cx="136.4" cy="78.9" r="1.47" fill="#980a0a" opacity="0.30"/><circle cx="136.7" cy="68.4" r="0.76" fill="#980a0a" opacity="0.39"/><circle cx="124.0" cy="74.7" r="1.02" fill="#980a0a" opacity="0.39"/><circle cx="140.2" cy="77.4" r="0.65" fill="#ffffff" opacity="0.77"/><circle cx="134.4" cy="78.7" r="1.19" fill="#ffe8b0" opacity="0.68"/><circle cx="124.7" cy="73.2" r="1.12" fill="#ffd8d0" opacity="0.49"/><circle cx="127.2" cy="76.4" r="1.20" fill="#ffd8d0" opacity="0.49"/><circle cx="120.6" cy="65.6" r="0.93" fill="#ffe8e0" opacity="0.40"/><circle cx="129.3" cy="68.6" r="0.67" fill="#ffc8c0" opacity="0.48"/><circle cx="130.3" cy="67.2" r="0.91" fill="#ffffff" opacity="0.67"/><circle cx="135.2" cy="63.2" r="0.76" fill="#ffe8b0" opacity="0.57"/><circle cx="127.9" cy="67.3" r="1.02" fill="#ffd8d0" opacity="0.57"/><circle cx="113.7" cy="83.1" r="1.24" fill="#ffd8d0" opacity="0.53"/><circle cx="117.8" cy="84.7" r="0.92" fill="#ffc8c0" opacity="0.51"/><circle cx="130.3" cy="70.8" r="0.67" fill="#ffd8d0" opacity="0.48"/><circle cx="133.1" cy="64.0" r="1.25" fill="#ffe8b0" opacity="0.42"/><circle cx="115.6" cy="83.9" r="1.19" fill="#ffe8e0" opacity="0.44"/><circle cx="127.0" cy="62.7" r="0.91" fill="#ffffff" opacity="0.78"/><circle cx="130.0" cy="75.8" r="0.99" fill="#ffffff" opacity="0.69"/><circle cx="137.4" cy="83.3" r="1.28" fill="#ffd8d0" opacity="0.47"/><circle cx="132.2" cy="76.9" r="1.26" fill="#ffffff" opacity="0.52"/><circle cx="135.6" cy="82.4" r="0.77" fill="#ffe8e0" opacity="0.57"/><circle cx="136.5" cy="80.9" r="1.27" fill="#ffe8e0" opacity="0.50"/><circle cx="134.5" cy="80.8" r="1.01" fill="#ffffff" opacity="0.51"/><ellipse cx="120" cy="68" rx="3" ry="2" fill="#ffe49a" opacity="0.4" filter="url(#bl2)"/><ellipse cx="125" cy="76" rx="5" ry="5" fill="#1e0404" opacity="0.47250000000000003" filter="url(#bl2)"/><ellipse cx="118" cy="80" rx="3" ry="2" fill="#1e0404" opacity="0.42000000000000004" filter="url(#bl2)"/><ellipse cx="133" cy="70" rx="3" ry="3" fill="#1e0404" opacity="0.315" filter="url(#bl2)"/></g><path d="M113.1 71.0C113.4 69.9 113.9 69.2 114.3 68.3C114.7 67.4 115.1 66.5 115.6 65.7C116.2 64.9 116.8 64.3 117.6 63.8C118.5 63.4 119.6 63.1 120.9 63.1C122.1 63.0 123.7 63.8 125.0 63.7C126.2 63.6 127.4 62.8 128.6 62.6C129.8 62.4 131.0 62.3 132.0 62.5C133.1 62.8 134.0 63.4 134.8 64.0C135.5 64.7 135.8 65.6 136.4 66.3C136.9 66.9 137.7 67.4 138.3 68.1C138.9 68.9 139.5 69.9 139.9 70.9C140.3 71.9 140.5 72.9 140.6 74.0C140.6 75.1 140.6 76.4 140.2 77.4C139.9 78.4 139.0 79.2 138.3 80.0C137.7 80.9 137.0 81.7 136.2 82.4C135.4 83.1 134.5 84.0 133.4 84.3C132.2 84.6 130.6 83.9 129.3 84.1C128.0 84.2 126.6 85.3 125.5 85.2C124.3 85.1 123.5 83.7 122.3 83.4C121.2 83.1 119.6 83.6 118.7 83.2C117.7 82.8 117.2 81.6 116.5 80.9C115.8 80.1 114.9 79.6 114.3 78.6C113.6 77.6 112.8 76.2 112.6 74.9C112.4 73.7 112.8 72.1 113.1 71.0Z" fill="none" stroke="#8e0c10" stroke-width="1.1" stroke-opacity="0.32"/><clipPath id="cB2"><path d="M148.2 72.5C148.3 71.7 149.6 71.0 149.8 70.1C150.1 69.2 149.4 67.9 149.8 67.0C150.2 66.1 151.3 65.3 152.4 64.8C153.5 64.4 155.3 64.7 156.6 64.4C157.8 64.1 158.7 63.1 160.0 62.9C161.2 62.7 162.7 63.0 164.0 63.4C165.3 63.7 166.3 64.6 167.5 65.0C168.8 65.4 170.3 65.4 171.4 65.8C172.5 66.3 173.4 67.1 174.2 67.8C175.0 68.5 175.6 69.4 176.1 70.3C176.6 71.1 176.7 72.0 177.0 72.9C177.3 73.8 178.0 74.7 178.0 75.7C177.9 76.6 177.3 77.6 176.7 78.5C176.2 79.4 175.6 80.4 174.7 81.0C173.8 81.5 172.2 81.5 171.2 82.1C170.2 82.6 169.8 83.9 168.7 84.2C167.6 84.5 166.0 83.7 164.7 83.6C163.4 83.6 162.3 84.1 161.0 84.1C159.7 84.0 158.1 83.7 156.9 83.3C155.6 82.8 154.5 82.1 153.5 81.5C152.6 81.0 151.8 80.6 151.1 80.0C150.5 79.4 149.8 78.8 149.5 78.0C149.1 77.2 149.4 76.1 149.2 75.2C149.0 74.3 148.1 73.4 148.2 72.5Z"/></clipPath><path d="M148.2 72.5C148.3 71.7 149.6 71.0 149.8 70.1C150.1 69.2 149.4 67.9 149.8 67.0C150.2 66.1 151.3 65.3 152.4 64.8C153.5 64.4 155.3 64.7 156.6 64.4C157.8 64.1 158.7 63.1 160.0 62.9C161.2 62.7 162.7 63.0 164.0 63.4C165.3 63.7 166.3 64.6 167.5 65.0C168.8 65.4 170.3 65.4 171.4 65.8C172.5 66.3 173.4 67.1 174.2 67.8C175.0 68.5 175.6 69.4 176.1 70.3C176.6 71.1 176.7 72.0 177.0 72.9C177.3 73.8 178.0 74.7 178.0 75.7C177.9 76.6 177.3 77.6 176.7 78.5C176.2 79.4 175.6 80.4 174.7 81.0C173.8 81.5 172.2 81.5 171.2 82.1C170.2 82.6 169.8 83.9 168.7 84.2C167.6 84.5 166.0 83.7 164.7 83.6C163.4 83.6 162.3 84.1 161.0 84.1C159.7 84.0 158.1 83.7 156.9 83.3C155.6 82.8 154.5 82.1 153.5 81.5C152.6 81.0 151.8 80.6 151.1 80.0C150.5 79.4 149.8 78.8 149.5 78.0C149.1 77.2 149.4 76.1 149.2 75.2C149.0 74.3 148.1 73.4 148.2 72.5Z" fill="#e0361a"/><g clip-path="url(#cB2)"><circle cx="174.9" cy="71.1" r="1.02" fill="#980a0a" opacity="0.34"/><circle cx="148.6" cy="71.3" r="1.01" fill="#980a0a" opacity="0.30"/><circle cx="175.8" cy="71.5" r="1.25" fill="#980a0a" opacity="0.30"/><circle cx="151.1" cy="79.5" r="0.74" fill="#980a0a" opacity="0.33"/><circle cx="155.6" cy="70.6" r="1.28" fill="#980a0a" opacity="0.41"/><circle cx="150.6" cy="73.0" r="0.82" fill="#980a0a" opacity="0.29"/><circle cx="148.2" cy="73.3" r="1.40" fill="#980a0a" opacity="0.39"/><circle cx="164.6" cy="77.3" r="0.89" fill="#980a0a" opacity="0.26"/><circle cx="159.5" cy="69.8" r="1.59" fill="#980a0a" opacity="0.37"/><circle cx="157.9" cy="80.1" r="1.09" fill="#980a0a" opacity="0.24"/><circle cx="170.8" cy="69.2" r="1.45" fill="#980a0a" opacity="0.17"/><circle cx="164.2" cy="82.1" r="1.10" fill="#980a0a" opacity="0.34"/><circle cx="160.6" cy="79.2" r="1.29" fill="#980a0a" opacity="0.18"/><circle cx="170.4" cy="66.5" r="1.12" fill="#980a0a" opacity="0.16"/><circle cx="173.1" cy="65.1" r="1.35" fill="#980a0a" opacity="0.30"/><circle cx="150.5" cy="77.5" r="0.91" fill="#980a0a" opacity="0.27"/><circle cx="153.8" cy="68.5" r="1.06" fill="#980a0a" opacity="0.22"/><circle cx="152.7" cy="76.6" r="1.19" fill="#980a0a" opacity="0.35"/><circle cx="155.6" cy="65.5" r="0.96" fill="#980a0a" opacity="0.27"/><circle cx="148.7" cy="72.4" r="1.06" fill="#980a0a" opacity="0.20"/><circle cx="148.6" cy="79.0" r="0.96" fill="#980a0a" opacity="0.22"/><circle cx="168.5" cy="78.6" r="0.99" fill="#980a0a" opacity="0.37"/><circle cx="177.4" cy="64.3" r="1.01" fill="#980a0a" opacity="0.41"/><circle cx="174.2" cy="68.9" r="1.48" fill="#980a0a" opacity="0.33"/><circle cx="174.9" cy="74.2" r="1.53" fill="#980a0a" opacity="0.39"/><circle cx="164.9" cy="83.7" r="1.24" fill="#980a0a" opacity="0.39"/><circle cx="177.2" cy="66.7" r="1.52" fill="#980a0a" opacity="0.16"/><circle cx="177.3" cy="78.0" r="0.71" fill="#980a0a" opacity="0.20"/><circle cx="154.3" cy="69.2" r="0.73" fill="#980a0a" opacity="0.25"/><circle cx="157.7" cy="70.0" r="0.72" fill="#980a0a" opacity="0.31"/><circle cx="172.5" cy="73.1" r="1.21" fill="#ffffff" opacity="0.60"/><circle cx="154.7" cy="77.1" r="1.05" fill="#ffe8a0" opacity="0.55"/><circle cx="168.6" cy="74.7" r="1.11" fill="#ffe0c0" opacity="0.68"/><circle cx="151.3" cy="81.9" r="0.58" fill="#ffffff" opacity="0.66"/><circle cx="153.3" cy="64.7" r="1.10" fill="#ffe8a0" opacity="0.75"/><circle cx="159.1" cy="64.5" r="0.70" fill="#ffe0c0" opacity="0.51"/><circle cx="167.9" cy="68.9" r="0.89" fill="#ffe8a0" opacity="0.70"/><circle cx="163.0" cy="75.5" r="0.50" fill="#fff4d8" opacity="0.60"/><circle cx="167.2" cy="77.4" r="0.65" fill="#ffc860" opacity="0.78"/><circle cx="168.8" cy="68.2" r="0.81" fill="#ffffff" opacity="0.73"/><circle cx="164.4" cy="66.0" r="1.20" fill="#ffd870" opacity="0.57"/><circle cx="151.5" cy="69.8" r="0.76" fill="#ffffff" opacity="0.47"/><circle cx="147.9" cy="80.5" r="1.21" fill="#fff4d8" opacity="0.46"/><circle cx="173.8" cy="69.9" r="0.83" fill="#ffe0c0" opacity="0.49"/><circle cx="173.7" cy="81.7" r="1.00" fill="#fff4d8" opacity="0.73"/><circle cx="170.5" cy="71.2" r="1.28" fill="#ffe8a0" opacity="0.73"/><circle cx="163.1" cy="73.5" r="0.82" fill="#ffe8a0" opacity="0.53"/><circle cx="154.4" cy="74.3" r="0.77" fill="#ffe8a0" opacity="0.64"/><circle cx="165.5" cy="70.4" r="1.14" fill="#ffd870" opacity="0.49"/><circle cx="165.1" cy="67.1" r="0.88" fill="#ffe0c0" opacity="0.71"/><circle cx="158.3" cy="77.3" r="1.18" fill="#fff4d8" opacity="0.73"/><circle cx="176.7" cy="65.1" r="0.50" fill="#ffe0c0" opacity="0.79"/><circle cx="176.6" cy="81.2" r="0.64" fill="#ffc860" opacity="0.68"/><circle cx="169.4" cy="72.0" r="0.79" fill="#ffe8a0" opacity="0.78"/><circle cx="154.3" cy="63.7" r="1.02" fill="#ffc860" opacity="0.75"/><circle cx="161.5" cy="76.6" r="1.27" fill="#fff4d8" opacity="0.78"/><circle cx="148.8" cy="76.7" r="1.12" fill="#ffd870" opacity="0.47"/><circle cx="168.3" cy="63.9" r="1.28" fill="#ffc860" opacity="0.69"/><circle cx="156.3" cy="66.5" r="0.79" fill="#ffc860" opacity="0.61"/><circle cx="173.9" cy="77.3" r="0.93" fill="#fff4d8" opacity="0.48"/><circle cx="167.6" cy="65.1" r="0.51" fill="#ffd870" opacity="0.69"/><circle cx="154.5" cy="75.4" r="0.51" fill="#ffc860" opacity="0.47"/><circle cx="166.4" cy="77.1" r="0.71" fill="#ffffff" opacity="0.56"/><circle cx="148.7" cy="72.6" r="1.43" fill="#ffd878" opacity="0.40"/><circle cx="158.2" cy="81.1" r="1.48" fill="#ffd878" opacity="0.44"/><circle cx="171.5" cy="69.2" r="0.94" fill="#ffd878" opacity="0.43"/><circle cx="161.1" cy="83.4" r="0.93" fill="#ffd878" opacity="0.70"/><circle cx="176.4" cy="78.4" r="1.29" fill="#ffd878" opacity="0.64"/><circle cx="174.2" cy="70.8" r="1.13" fill="#ffd878" opacity="0.63"/><circle cx="164.7" cy="83.5" r="1.43" fill="#ffd878" opacity="0.60"/></g><path d="M148.2 72.5C148.3 71.7 149.6 71.0 149.8 70.1C150.1 69.2 149.4 67.9 149.8 67.0C150.2 66.1 151.3 65.3 152.4 64.8C153.5 64.4 155.3 64.7 156.6 64.4C157.8 64.1 158.7 63.1 160.0 62.9C161.2 62.7 162.7 63.0 164.0 63.4C165.3 63.7 166.3 64.6 167.5 65.0C168.8 65.4 170.3 65.4 171.4 65.8C172.5 66.3 173.4 67.1 174.2 67.8C175.0 68.5 175.6 69.4 176.1 70.3C176.6 71.1 176.7 72.0 177.0 72.9C177.3 73.8 178.0 74.7 178.0 75.7C177.9 76.6 177.3 77.6 176.7 78.5C176.2 79.4 175.6 80.4 174.7 81.0C173.8 81.5 172.2 81.5 171.2 82.1C170.2 82.6 169.8 83.9 168.7 84.2C167.6 84.5 166.0 83.7 164.7 83.6C163.4 83.6 162.3 84.1 161.0 84.1C159.7 84.0 158.1 83.7 156.9 83.3C155.6 82.8 154.5 82.1 153.5 81.5C152.6 81.0 151.8 80.6 151.1 80.0C150.5 79.4 149.8 78.8 149.5 78.0C149.1 77.2 149.4 76.1 149.2 75.2C149.0 74.3 148.1 73.4 148.2 72.5Z" fill="none" stroke="#8e0c10" stroke-width="1.1" stroke-opacity="0.32"/><clipPath id="cB3"><path d="M188.0 71.0C188.2 70.2 190.2 69.5 190.7 68.6C191.2 67.7 190.5 66.5 191.0 65.7C191.5 64.9 192.8 64.3 193.8 63.7C194.8 63.0 195.8 62.4 196.9 61.9C198.1 61.5 199.5 61.2 200.7 61.0C202.0 60.7 203.3 60.6 204.5 60.5C205.7 60.4 206.9 60.4 208.0 60.6C209.0 60.8 210.3 60.9 210.9 61.7C211.5 62.5 211.0 64.3 211.4 65.3C211.9 66.4 213.7 66.8 213.9 67.9C214.0 68.9 212.6 70.5 212.3 71.7C212.0 73.0 212.3 74.6 212.1 75.5C212.0 76.5 211.8 76.9 211.3 77.5C210.8 78.0 210.3 78.7 209.4 78.8C208.4 78.9 206.6 77.9 205.5 77.9C204.5 78.0 203.9 79.0 203.1 79.1C202.3 79.3 201.5 78.6 200.8 79.0C200.0 79.4 199.4 80.9 198.4 81.4C197.4 81.8 195.8 81.8 194.8 81.6C193.8 81.4 193.2 80.7 192.3 80.2C191.4 79.7 190.3 79.4 189.6 78.8C188.9 78.2 188.3 77.4 188.3 76.5C188.3 75.6 189.5 74.5 189.5 73.5C189.4 72.6 187.8 71.8 188.0 71.0Z"/></clipPath><path d="M188.0 71.0C188.2 70.2 190.2 69.5 190.7 68.6C191.2 67.7 190.5 66.5 191.0 65.7C191.5 64.9 192.8 64.3 193.8 63.7C194.8 63.0 195.8 62.4 196.9 61.9C198.1 61.5 199.5 61.2 200.7 61.0C202.0 60.7 203.3 60.6 204.5 60.5C205.7 60.4 206.9 60.4 208.0 60.6C209.0 60.8 210.3 60.9 210.9 61.7C211.5 62.5 211.0 64.3 211.4 65.3C211.9 66.4 213.7 66.8 213.9 67.9C214.0 68.9 212.6 70.5 212.3 71.7C212.0 73.0 212.3 74.6 212.1 75.5C212.0 76.5 211.8 76.9 211.3 77.5C210.8 78.0 210.3 78.7 209.4 78.8C208.4 78.9 206.6 77.9 205.5 77.9C204.5 78.0 203.9 79.0 203.1 79.1C202.3 79.3 201.5 78.6 200.8 79.0C200.0 79.4 199.4 80.9 198.4 81.4C197.4 81.8 195.8 81.8 194.8 81.6C193.8 81.4 193.2 80.7 192.3 80.2C191.4 79.7 190.3 79.4 189.6 78.8C188.9 78.2 188.3 77.4 188.3 76.5C188.3 75.6 189.5 74.5 189.5 73.5C189.4 72.6 187.8 71.8 188.0 71.0Z" fill="#dc3418"/><g clip-path="url(#cB3)"><circle cx="205.4" cy="75.1" r="1.29" fill="#980a0a" opacity="0.28"/><circle cx="192.0" cy="76.7" r="1.43" fill="#980a0a" opacity="0.25"/><circle cx="210.4" cy="80.5" r="0.90" fill="#980a0a" opacity="0.20"/><circle cx="201.6" cy="76.7" r="1.11" fill="#980a0a" opacity="0.40"/><circle cx="195.6" cy="80.5" r="1.33" fill="#980a0a" opacity="0.38"/><circle cx="210.4" cy="77.6" r="1.30" fill="#980a0a" opacity="0.24"/><circle cx="194.6" cy="79.4" r="1.05" fill="#980a0a" opacity="0.20"/><circle cx="190.0" cy="76.2" r="0.99" fill="#980a0a" opacity="0.30"/><circle cx="203.5" cy="67.7" r="1.39" fill="#980a0a" opacity="0.39"/><circle cx="201.4" cy="70.8" r="0.79" fill="#980a0a" opacity="0.21"/><circle cx="193.8" cy="72.1" r="1.13" fill="#980a0a" opacity="0.16"/><circle cx="189.4" cy="69.5" r="1.38" fill="#980a0a" opacity="0.37"/><circle cx="212.2" cy="64.8" r="1.47" fill="#980a0a" opacity="0.33"/><circle cx="204.3" cy="71.2" r="1.54" fill="#980a0a" opacity="0.32"/><circle cx="209.4" cy="68.9" r="0.73" fill="#980a0a" opacity="0.24"/><circle cx="191.8" cy="80.0" r="1.31" fill="#980a0a" opacity="0.19"/><circle cx="201.9" cy="78.5" r="1.56" fill="#980a0a" opacity="0.27"/><circle cx="194.0" cy="78.1" r="1.37" fill="#980a0a" opacity="0.31"/><circle cx="210.8" cy="65.7" r="1.32" fill="#980a0a" opacity="0.39"/><circle cx="190.8" cy="73.5" r="1.21" fill="#980a0a" opacity="0.30"/><circle cx="189.1" cy="72.9" r="1.01" fill="#980a0a" opacity="0.23"/><circle cx="209.1" cy="71.6" r="0.94" fill="#980a0a" opacity="0.19"/><circle cx="207.3" cy="79.4" r="0.76" fill="#980a0a" opacity="0.41"/><circle cx="202.2" cy="68.9" r="1.07" fill="#980a0a" opacity="0.27"/><circle cx="197.3" cy="79.3" r="1.56" fill="#980a0a" opacity="0.26"/><circle cx="205.9" cy="72.5" r="1.01" fill="#980a0a" opacity="0.27"/><circle cx="193.3" cy="80.4" r="0.52" fill="#ffc860" opacity="0.64"/><circle cx="212.6" cy="66.1" r="0.92" fill="#ffe8a0" opacity="0.52"/><circle cx="211.2" cy="66.0" r="0.65" fill="#ffd870" opacity="0.55"/><circle cx="205.9" cy="71.1" r="1.26" fill="#fff4d8" opacity="0.74"/><circle cx="194.3" cy="67.2" r="0.58" fill="#ffe0c0" opacity="0.65"/><circle cx="210.4" cy="73.3" r="0.96" fill="#ffc860" opacity="0.57"/><circle cx="190.1" cy="65.1" r="1.27" fill="#ffd870" opacity="0.60"/><circle cx="210.6" cy="63.2" r="1.08" fill="#ffe8a0" opacity="0.63"/><circle cx="204.2" cy="68.8" r="0.90" fill="#ffe0c0" opacity="0.46"/><circle cx="207.3" cy="78.7" r="0.57" fill="#fff4d8" opacity="0.62"/><circle cx="200.2" cy="72.2" r="1.01" fill="#ffe0c0" opacity="0.73"/><circle cx="213.2" cy="71.3" r="1.15" fill="#fff4d8" opacity="0.55"/><circle cx="210.5" cy="68.5" r="0.80" fill="#ffd870" opacity="0.41"/><circle cx="208.4" cy="60.6" r="0.85" fill="#ffe0c0" opacity="0.61"/><circle cx="196.3" cy="71.2" r="1.06" fill="#ffe8a0" opacity="0.44"/><circle cx="212.2" cy="61.4" r="1.23" fill="#ffd870" opacity="0.80"/><circle cx="194.2" cy="74.7" r="0.75" fill="#ffc860" opacity="0.49"/><circle cx="191.7" cy="66.7" r="0.83" fill="#fff4d8" opacity="0.63"/><circle cx="195.5" cy="68.0" r="0.64" fill="#ffe0c0" opacity="0.48"/><circle cx="201.0" cy="68.0" r="0.65" fill="#ffc860" opacity="0.76"/><circle cx="203.4" cy="68.5" r="0.53" fill="#ffe8a0" opacity="0.43"/><circle cx="190.9" cy="65.3" r="1.08" fill="#ffc860" opacity="0.42"/><circle cx="199.6" cy="67.7" r="1.29" fill="#ffe0c0" opacity="0.42"/><circle cx="210.5" cy="75.0" r="1.42" fill="#ffd878" opacity="0.47"/><circle cx="203.0" cy="78.7" r="1.32" fill="#ffd878" opacity="0.45"/><circle cx="212.0" cy="68.4" r="0.91" fill="#ffd878" opacity="0.65"/><circle cx="193.2" cy="69.4" r="1.16" fill="#ffd878" opacity="0.41"/><circle cx="210.4" cy="71.7" r="1.07" fill="#ffd878" opacity="0.45"/><circle cx="191.3" cy="73.2" r="1.23" fill="#ffd878" opacity="0.51"/><ellipse cx="197" cy="70" rx="5" ry="2.5" fill="#ffe49a" opacity="0.7" filter="url(#bl2)"/><ellipse cx="205.4" cy="67.2" rx="2.5" ry="2.5" fill="#1e0404" opacity="0.735" filter="url(#bl2)"/></g><path d="M188.0 71.0C188.2 70.2 190.2 69.5 190.7 68.6C191.2 67.7 190.5 66.5 191.0 65.7C191.5 64.9 192.8 64.3 193.8 63.7C194.8 63.0 195.8 62.4 196.9 61.9C198.1 61.5 199.5 61.2 200.7 61.0C202.0 60.7 203.3 60.6 204.5 60.5C205.7 60.4 206.9 60.4 208.0 60.6C209.0 60.8 210.3 60.9 210.9 61.7C211.5 62.5 211.0 64.3 211.4 65.3C211.9 66.4 213.7 66.8 213.9 67.9C214.0 68.9 212.6 70.5 212.3 71.7C212.0 73.0 212.3 74.6 212.1 75.5C212.0 76.5 211.8 76.9 211.3 77.5C210.8 78.0 210.3 78.7 209.4 78.8C208.4 78.9 206.6 77.9 205.5 77.9C204.5 78.0 203.9 79.0 203.1 79.1C202.3 79.3 201.5 78.6 200.8 79.0C200.0 79.4 199.4 80.9 198.4 81.4C197.4 81.8 195.8 81.8 194.8 81.6C193.8 81.4 193.2 80.7 192.3 80.2C191.4 79.7 190.3 79.4 189.6 78.8C188.9 78.2 188.3 77.4 188.3 76.5C188.3 75.6 189.5 74.5 189.5 73.5C189.4 72.6 187.8 71.8 188.0 71.0Z" fill="none" stroke="#8e0c10" stroke-width="1.1" stroke-opacity="0.32"/><clipPath id="cB4"><path d="M225.3 70.2C225.3 69.3 226.5 68.9 227.0 68.3C227.5 67.6 227.7 66.8 228.3 66.3C228.8 65.8 229.4 65.3 230.3 65.0C231.2 64.8 232.7 64.6 233.7 64.7C234.7 64.8 235.4 65.0 236.4 65.6C237.5 66.1 238.8 68.0 240.0 68.0C241.2 68.1 242.6 66.2 243.7 65.8C244.7 65.5 245.1 65.8 246.1 65.7C247.1 65.6 248.8 65.3 249.8 65.4C250.7 65.5 251.4 65.7 251.8 66.3C252.1 66.8 251.3 67.9 251.8 68.6C252.2 69.2 254.2 69.5 254.4 70.2C254.6 70.8 253.1 71.7 252.8 72.5C252.5 73.3 253.4 74.4 252.7 74.9C252.0 75.4 249.6 75.3 248.5 75.7C247.4 76.0 246.7 76.4 246.0 77.0C245.3 77.6 244.9 78.8 244.1 79.3C243.4 79.8 242.5 79.9 241.5 80.0C240.4 80.1 239.0 79.9 237.7 79.9C236.5 79.9 235.2 80.1 234.1 79.9C232.9 79.6 231.9 78.8 230.8 78.3C229.7 77.7 228.0 77.3 227.5 76.5C226.9 75.7 227.7 74.3 227.3 73.2C227.0 72.2 225.4 71.0 225.3 70.2Z"/></clipPath><path d="M225.3 70.2C225.3 69.3 226.5 68.9 227.0 68.3C227.5 67.6 227.7 66.8 228.3 66.3C228.8 65.8 229.4 65.3 230.3 65.0C231.2 64.8 232.7 64.6 233.7 64.7C234.7 64.8 235.4 65.0 236.4 65.6C237.5 66.1 238.8 68.0 240.0 68.0C241.2 68.1 242.6 66.2 243.7 65.8C244.7 65.5 245.1 65.8 246.1 65.7C247.1 65.6 248.8 65.3 249.8 65.4C250.7 65.5 251.4 65.7 251.8 66.3C252.1 66.8 251.3 67.9 251.8 68.6C252.2 69.2 254.2 69.5 254.4 70.2C254.6 70.8 253.1 71.7 252.8 72.5C252.5 73.3 253.4 74.4 252.7 74.9C252.0 75.4 249.6 75.3 248.5 75.7C247.4 76.0 246.7 76.4 246.0 77.0C245.3 77.6 244.9 78.8 244.1 79.3C243.4 79.8 242.5 79.9 241.5 80.0C240.4 80.1 239.0 79.9 237.7 79.9C236.5 79.9 235.2 80.1 234.1 79.9C232.9 79.6 231.9 78.8 230.8 78.3C229.7 77.7 228.0 77.3 227.5 76.5C226.9 75.7 227.7 74.3 227.3 73.2C227.0 72.2 225.4 71.0 225.3 70.2Z" fill="#e44a1c"/><g clip-path="url(#cB4)"><circle cx="240.8" cy="65.9" r="1.02" fill="#980a0a" opacity="0.18"/><circle cx="234.9" cy="75.6" r="1.43" fill="#980a0a" opacity="0.36"/><circle cx="242.2" cy="74.4" r="0.87" fill="#980a0a" opacity="0.28"/><circle cx="242.6" cy="66.4" r="0.98" fill="#980a0a" opacity="0.39"/><circle cx="253.0" cy="78.2" r="1.41" fill="#980a0a" opacity="0.35"/><circle cx="251.1" cy="70.8" r="0.88" fill="#980a0a" opacity="0.22"/><circle cx="232.5" cy="68.0" r="0.86" fill="#980a0a" opacity="0.23"/><circle cx="227.2" cy="70.3" r="1.09" fill="#980a0a" opacity="0.20"/><circle cx="237.7" cy="76.3" r="1.33" fill="#980a0a" opacity="0.29"/><circle cx="236.7" cy="78.4" r="1.20" fill="#980a0a" opacity="0.42"/><circle cx="241.5" cy="71.1" r="1.17" fill="#980a0a" opacity="0.28"/><circle cx="237.0" cy="75.3" r="1.34" fill="#980a0a" opacity="0.32"/><circle cx="241.5" cy="65.8" r="1.11" fill="#980a0a" opacity="0.27"/><circle cx="244.2" cy="66.0" r="0.88" fill="#980a0a" opacity="0.27"/><circle cx="233.7" cy="68.7" r="1.23" fill="#980a0a" opacity="0.33"/><circle cx="244.1" cy="68.9" r="1.03" fill="#980a0a" opacity="0.24"/><circle cx="243.2" cy="69.2" r="0.99" fill="#980a0a" opacity="0.27"/><circle cx="228.3" cy="66.8" r="0.79" fill="#980a0a" opacity="0.42"/><circle cx="250.4" cy="65.2" r="0.83" fill="#980a0a" opacity="0.37"/><circle cx="242.8" cy="76.6" r="1.44" fill="#980a0a" opacity="0.39"/><circle cx="236.5" cy="79.4" r="0.80" fill="#980a0a" opacity="0.17"/><circle cx="229.7" cy="66.9" r="0.54" fill="#ffe0c0" opacity="0.71"/><circle cx="248.4" cy="65.0" r="1.01" fill="#ffffff" opacity="0.47"/><circle cx="252.3" cy="66.3" r="0.52" fill="#ffd870" opacity="0.57"/><circle cx="226.7" cy="73.7" r="0.70" fill="#ffd870" opacity="0.46"/><circle cx="244.6" cy="71.6" r="0.59" fill="#ffd870" opacity="0.71"/><circle cx="233.6" cy="67.5" r="0.78" fill="#fff4d8" opacity="0.66"/><circle cx="242.1" cy="78.5" r="0.54" fill="#ffe0c0" opacity="0.69"/><circle cx="249.8" cy="78.8" r="1.17" fill="#ffe8a0" opacity="0.79"/><circle cx="226.1" cy="77.0" r="0.51" fill="#ffe0c0" opacity="0.49"/><circle cx="242.1" cy="78.6" r="0.63" fill="#ffe8a0" opacity="0.58"/><circle cx="235.9" cy="76.9" r="0.68" fill="#ffe0c0" opacity="0.64"/><circle cx="228.9" cy="72.4" r="0.57" fill="#ffe0c0" opacity="0.66"/><circle cx="229.9" cy="73.3" r="0.52" fill="#fff4d8" opacity="0.46"/><circle cx="242.5" cy="72.7" r="0.69" fill="#ffffff" opacity="0.43"/><circle cx="249.6" cy="67.0" r="1.27" fill="#ffd870" opacity="0.65"/><circle cx="246.9" cy="65.6" r="1.26" fill="#ffd870" opacity="0.77"/><circle cx="232.3" cy="74.7" r="1.27" fill="#ffffff" opacity="0.79"/><circle cx="244.5" cy="73.9" r="0.75" fill="#ffffff" opacity="0.62"/><circle cx="243.3" cy="68.3" r="1.10" fill="#ffe0c0" opacity="0.57"/><circle cx="247.1" cy="78.9" r="1.06" fill="#ffe0c0" opacity="0.71"/><circle cx="237.5" cy="68.4" r="1.10" fill="#ffffff" opacity="0.69"/><circle cx="250.0" cy="76.2" r="0.55" fill="#ffc860" opacity="0.61"/><circle cx="252.5" cy="75.9" r="0.78" fill="#ffc860" opacity="0.52"/><circle cx="226.4" cy="72.0" r="1.20" fill="#fff4d8" opacity="0.77"/><circle cx="250.1" cy="77.4" r="0.72" fill="#ffffff" opacity="0.77"/><circle cx="229.1" cy="70.1" r="0.82" fill="#ffe8a0" opacity="0.59"/><circle cx="232.8" cy="69.3" r="0.52" fill="#ffe8a0" opacity="0.48"/><circle cx="252.6" cy="65.7" r="0.88" fill="#ffc860" opacity="0.74"/><circle cx="231.0" cy="66.0" r="0.62" fill="#ffe8a0" opacity="0.48"/><circle cx="230.9" cy="72.5" r="0.88" fill="#ffc860" opacity="0.74"/><circle cx="248.7" cy="66.1" r="1.46" fill="#ffd878" opacity="0.65"/><circle cx="241.4" cy="79.6" r="1.07" fill="#ffd878" opacity="0.66"/><circle cx="234.7" cy="65.7" r="1.07" fill="#ffd878" opacity="0.60"/><circle cx="236.5" cy="65.7" r="1.16" fill="#ffd878" opacity="0.63"/><circle cx="249.5" cy="67.3" r="0.84" fill="#ffd878" opacity="0.46"/><circle cx="236.9" cy="66.4" r="0.97" fill="#ffd878" opacity="0.62"/><circle cx="245.7" cy="66.1" r="0.88" fill="#ffd878" opacity="0.50"/><circle cx="247.6" cy="75.2" r="1.02" fill="#ffd878" opacity="0.54"/><circle cx="230.5" cy="65.2" r="1.26" fill="#ffd878" opacity="0.64"/><circle cx="230.4" cy="75.3" r="1.42" fill="#ffd878" opacity="0.54"/><ellipse cx="232" cy="69" rx="4" ry="3" fill="#ffe49a" opacity="0.5" filter="url(#bl2)"/></g><path d="M225.3 70.2C225.3 69.3 226.5 68.9 227.0 68.3C227.5 67.6 227.7 66.8 228.3 66.3C228.8 65.8 229.4 65.3 230.3 65.0C231.2 64.8 232.7 64.6 233.7 64.7C234.7 64.8 235.4 65.0 236.4 65.6C237.5 66.1 238.8 68.0 240.0 68.0C241.2 68.1 242.6 66.2 243.7 65.8C244.7 65.5 245.1 65.8 246.1 65.7C247.1 65.6 248.8 65.3 249.8 65.4C250.7 65.5 251.4 65.7 251.8 66.3C252.1 66.8 251.3 67.9 251.8 68.6C252.2 69.2 254.2 69.5 254.4 70.2C254.6 70.8 253.1 71.7 252.8 72.5C252.5 73.3 253.4 74.4 252.7 74.9C252.0 75.4 249.6 75.3 248.5 75.7C247.4 76.0 246.7 76.4 246.0 77.0C245.3 77.6 244.9 78.8 244.1 79.3C243.4 79.8 242.5 79.9 241.5 80.0C240.4 80.1 239.0 79.9 237.7 79.9C236.5 79.9 235.2 80.1 234.1 79.9C232.9 79.6 231.9 78.8 230.8 78.3C229.7 77.7 228.0 77.3 227.5 76.5C226.9 75.7 227.7 74.3 227.3 73.2C227.0 72.2 225.4 71.0 225.3 70.2Z" fill="none" stroke="#8e0c10" stroke-width="1.1" stroke-opacity="0.32"/><clipPath id="cC1"><path d="M111.0 105.6C111.1 105.2 112.0 104.8 112.3 104.3C112.7 103.9 112.2 103.1 113.0 103.0C113.8 102.8 116.0 103.3 117.1 103.4C118.2 103.4 118.8 103.5 119.7 103.4C120.6 103.4 121.7 103.4 122.7 103.1C123.7 102.8 124.6 101.9 125.5 101.5C126.4 101.2 127.0 101.3 128.0 101.0C128.9 100.8 130.4 100.0 131.2 100.0C132.0 100.0 132.3 100.8 133.0 101.1C133.7 101.4 134.6 101.5 135.2 101.9C135.8 102.2 136.6 102.7 136.8 103.2C136.9 103.7 136.7 104.3 136.4 104.8C136.0 105.3 135.2 105.6 134.8 106.0C134.4 106.4 134.7 107.0 134.0 107.2C133.2 107.4 131.5 107.3 130.3 107.3C129.1 107.4 127.9 107.4 126.9 107.5C125.8 107.6 124.9 107.6 123.9 107.9C122.9 108.3 121.8 109.2 120.8 109.4C119.8 109.5 118.9 109.0 117.9 108.9C116.9 108.8 115.8 108.8 114.9 108.7C114.1 108.5 113.5 108.4 112.9 108.3C112.3 108.1 111.7 107.9 111.5 107.6C111.3 107.4 111.6 106.9 111.6 106.6C111.5 106.2 110.9 106.0 111.0 105.6Z"/></clipPath><path d="M111.0 105.6C111.1 105.2 112.0 104.8 112.3 104.3C112.7 103.9 112.2 103.1 113.0 103.0C113.8 102.8 116.0 103.3 117.1 103.4C118.2 103.4 118.8 103.5 119.7 103.4C120.6 103.4 121.7 103.4 122.7 103.1C123.7 102.8 124.6 101.9 125.5 101.5C126.4 101.2 127.0 101.3 128.0 101.0C128.9 100.8 130.4 100.0 131.2 100.0C132.0 100.0 132.3 100.8 133.0 101.1C133.7 101.4 134.6 101.5 135.2 101.9C135.8 102.2 136.6 102.7 136.8 103.2C136.9 103.7 136.7 104.3 136.4 104.8C136.0 105.3 135.2 105.6 134.8 106.0C134.4 106.4 134.7 107.0 134.0 107.2C133.2 107.4 131.5 107.3 130.3 107.3C129.1 107.4 127.9 107.4 126.9 107.5C125.8 107.6 124.9 107.6 123.9 107.9C122.9 108.3 121.8 109.2 120.8 109.4C119.8 109.5 118.9 109.0 117.9 108.9C116.9 108.8 115.8 108.8 114.9 108.7C114.1 108.5 113.5 108.4 112.9 108.3C112.3 108.1 111.7 107.9 111.5 107.6C111.3 107.4 111.6 106.9 111.6 106.6C111.5 106.2 110.9 106.0 111.0 105.6Z" fill="#e85a20"/><g clip-path="url(#cC1)"><circle cx="125.6" cy="107.4" r="1.49" fill="#980a0a" opacity="0.19"/><circle cx="125.0" cy="109.1" r="1.53" fill="#980a0a" opacity="0.29"/><circle cx="136.2" cy="103.3" r="1.55" fill="#980a0a" opacity="0.27"/><circle cx="120.2" cy="101.2" r="1.04" fill="#980a0a" opacity="0.23"/><circle cx="123.4" cy="104.9" r="1.00" fill="#980a0a" opacity="0.33"/><circle cx="127.7" cy="105.5" r="1.14" fill="#980a0a" opacity="0.16"/><circle cx="113.9" cy="107.9" r="1.45" fill="#980a0a" opacity="0.27"/><circle cx="125.6" cy="106.8" r="1.54" fill="#980a0a" opacity="0.15"/><circle cx="120.0" cy="107.3" r="1.60" fill="#980a0a" opacity="0.35"/><circle cx="122.9" cy="101.1" r="1.29" fill="#980a0a" opacity="0.29"/><circle cx="133.9" cy="107.8" r="0.93" fill="#980a0a" opacity="0.21"/><circle cx="135.5" cy="103.0" r="0.92" fill="#ffd870" opacity="0.59"/><circle cx="113.5" cy="104.2" r="0.52" fill="#ffffff" opacity="0.68"/><circle cx="128.9" cy="106.2" r="0.63" fill="#ffe0c0" opacity="0.43"/><circle cx="135.8" cy="106.7" r="0.60" fill="#ffe8a0" opacity="0.74"/><circle cx="122.9" cy="109.1" r="1.07" fill="#ffe8a0" opacity="0.69"/><circle cx="123.8" cy="108.1" r="0.70" fill="#ffe8a0" opacity="0.51"/><circle cx="128.6" cy="106.9" r="1.21" fill="#ffe0c0" opacity="0.79"/><circle cx="125.7" cy="104.2" r="1.14" fill="#ffd870" opacity="0.46"/><circle cx="111.3" cy="104.9" r="1.29" fill="#ffe0c0" opacity="0.70"/><circle cx="125.1" cy="106.3" r="1.13" fill="#ffc860" opacity="0.70"/><circle cx="135.3" cy="105.2" r="0.56" fill="#ffd870" opacity="0.77"/><circle cx="135.5" cy="102.6" r="0.53" fill="#ffe8a0" opacity="0.40"/><circle cx="126.6" cy="103.0" r="0.94" fill="#ffe0c0" opacity="0.73"/><circle cx="111.2" cy="108.8" r="1.09" fill="#fff4d8" opacity="0.50"/><circle cx="129.7" cy="106.9" r="1.04" fill="#ffe0c0" opacity="0.71"/><circle cx="111.3" cy="108.3" r="0.57" fill="#ffe8a0" opacity="0.54"/><circle cx="128.9" cy="106.4" r="1.15" fill="#ffd870" opacity="0.46"/><circle cx="123.5" cy="108.7" r="1.10" fill="#fff4d8" opacity="0.73"/><circle cx="132.4" cy="105.4" r="0.73" fill="#ffe8a0" opacity="0.66"/><circle cx="113.2" cy="100.3" r="0.57" fill="#ffd870" opacity="0.56"/><circle cx="118.1" cy="103.6" r="1.12" fill="#ffd878" opacity="0.45"/><circle cx="118.5" cy="108.5" r="1.08" fill="#ffd878" opacity="0.55"/><circle cx="122.9" cy="103.6" r="0.96" fill="#ffd878" opacity="0.58"/><circle cx="118.6" cy="108.4" r="1.33" fill="#ffd878" opacity="0.47"/><circle cx="114.6" cy="107.7" r="0.96" fill="#ffd878" opacity="0.49"/><circle cx="125.1" cy="102.1" r="0.81" fill="#ffd878" opacity="0.61"/><circle cx="112.1" cy="107.5" r="0.90" fill="#ffd878" opacity="0.70"/><circle cx="116.0" cy="108.2" r="1.04" fill="#ffd878" opacity="0.69"/><circle cx="134.6" cy="103.5" r="0.97" fill="#ffd878" opacity="0.70"/><circle cx="134.4" cy="104.8" r="1.01" fill="#ffd878" opacity="0.51"/><circle cx="129.4" cy="101.1" r="1.23" fill="#ffd878" opacity="0.54"/><circle cx="112.6" cy="107.4" r="1.11" fill="#ffd878" opacity="0.50"/><ellipse cx="113" cy="105" rx="3" ry="2" fill="#ffe49a" opacity="0.7" filter="url(#bl2)"/><ellipse cx="126" cy="103" rx="3" ry="2" fill="#ffe49a" opacity="0.7" filter="url(#bl2)"/></g><path d="M111.0 105.6C111.1 105.2 112.0 104.8 112.3 104.3C112.7 103.9 112.2 103.1 113.0 103.0C113.8 102.8 116.0 103.3 117.1 103.4C118.2 103.4 118.8 103.5 119.7 103.4C120.6 103.4 121.7 103.4 122.7 103.1C123.7 102.8 124.6 101.9 125.5 101.5C126.4 101.2 127.0 101.3 128.0 101.0C128.9 100.8 130.4 100.0 131.2 100.0C132.0 100.0 132.3 100.8 133.0 101.1C133.7 101.4 134.6 101.5 135.2 101.9C135.8 102.2 136.6 102.7 136.8 103.2C136.9 103.7 136.7 104.3 136.4 104.8C136.0 105.3 135.2 105.6 134.8 106.0C134.4 106.4 134.7 107.0 134.0 107.2C133.2 107.4 131.5 107.3 130.3 107.3C129.1 107.4 127.9 107.4 126.9 107.5C125.8 107.6 124.9 107.6 123.9 107.9C122.9 108.3 121.8 109.2 120.8 109.4C119.8 109.5 118.9 109.0 117.9 108.9C116.9 108.8 115.8 108.8 114.9 108.7C114.1 108.5 113.5 108.4 112.9 108.3C112.3 108.1 111.7 107.9 111.5 107.6C111.3 107.4 111.6 106.9 111.6 106.6C111.5 106.2 110.9 106.0 111.0 105.6Z" fill="none" stroke="#8e0c10" stroke-width="1.1" stroke-opacity="0.32"/><clipPath id="cC2"><path d="M153.3 101.8C153.3 101.0 153.5 100.5 153.9 99.8C154.2 99.2 154.7 98.3 155.5 97.9C156.4 97.5 158.0 97.7 158.7 97.2C159.5 96.8 159.4 95.9 160.0 95.4C160.6 94.8 161.6 94.2 162.5 93.9C163.4 93.7 164.5 93.8 165.5 93.7C166.5 93.6 167.7 93.5 168.7 93.5C169.7 93.4 170.5 93.3 171.6 93.5C172.6 93.7 174.1 94.0 174.9 94.6C175.6 95.2 175.7 96.4 175.8 97.3C176.0 98.1 175.8 98.8 175.9 99.5C176.0 100.3 176.6 101.1 176.4 101.8C176.2 102.5 175.3 103.0 174.7 103.7C174.2 104.3 174.1 105.1 173.3 105.7C172.5 106.2 171.1 106.4 170.1 106.8C169.0 107.1 168.0 107.5 167.0 107.9C165.9 108.2 164.9 109.0 163.8 109.1C162.8 109.2 161.7 108.7 160.8 108.4C159.9 108.1 159.2 107.7 158.5 107.4C157.8 107.0 157.3 106.7 156.6 106.2C155.9 105.7 154.6 105.1 154.0 104.3C153.5 103.6 153.3 102.5 153.3 101.8Z"/></clipPath><path d="M153.3 101.8C153.3 101.0 153.5 100.5 153.9 99.8C154.2 99.2 154.7 98.3 155.5 97.9C156.4 97.5 158.0 97.7 158.7 97.2C159.5 96.8 159.4 95.9 160.0 95.4C160.6 94.8 161.6 94.2 162.5 93.9C163.4 93.7 164.5 93.8 165.5 93.7C166.5 93.6 167.7 93.5 168.7 93.5C169.7 93.4 170.5 93.3 171.6 93.5C172.6 93.7 174.1 94.0 174.9 94.6C175.6 95.2 175.7 96.4 175.8 97.3C176.0 98.1 175.8 98.8 175.9 99.5C176.0 100.3 176.6 101.1 176.4 101.8C176.2 102.5 175.3 103.0 174.7 103.7C174.2 104.3 174.1 105.1 173.3 105.7C172.5 106.2 171.1 106.4 170.1 106.8C169.0 107.1 168.0 107.5 167.0 107.9C165.9 108.2 164.9 109.0 163.8 109.1C162.8 109.2 161.7 108.7 160.8 108.4C159.9 108.1 159.2 107.7 158.5 107.4C157.8 107.0 157.3 106.7 156.6 106.2C155.9 105.7 154.6 105.1 154.0 104.3C153.5 103.6 153.3 102.5 153.3 101.8Z" fill="#e0361a"/><g clip-path="url(#cC2)"><circle cx="155.3" cy="107.4" r="0.84" fill="#980a0a" opacity="0.27"/><circle cx="166.6" cy="101.0" r="1.26" fill="#980a0a" opacity="0.21"/><circle cx="175.8" cy="95.9" r="0.98" fill="#980a0a" opacity="0.18"/><circle cx="166.3" cy="106.9" r="1.59" fill="#980a0a" opacity="0.38"/><circle cx="163.2" cy="102.9" r="1.12" fill="#980a0a" opacity="0.20"/><circle cx="174.1" cy="101.0" r="1.46" fill="#980a0a" opacity="0.24"/><circle cx="164.1" cy="98.4" r="1.46" fill="#980a0a" opacity="0.26"/><circle cx="173.2" cy="103.6" r="0.76" fill="#980a0a" opacity="0.24"/><circle cx="161.5" cy="105.2" r="0.82" fill="#980a0a" opacity="0.16"/><circle cx="166.9" cy="107.1" r="1.13" fill="#980a0a" opacity="0.38"/><circle cx="159.8" cy="99.5" r="1.25" fill="#980a0a" opacity="0.17"/><circle cx="174.7" cy="105.8" r="0.95" fill="#980a0a" opacity="0.22"/><circle cx="163.9" cy="102.5" r="1.51" fill="#980a0a" opacity="0.30"/><circle cx="165.4" cy="98.2" r="0.75" fill="#980a0a" opacity="0.32"/><circle cx="176.4" cy="107.9" r="0.74" fill="#980a0a" opacity="0.22"/><circle cx="166.0" cy="97.2" r="0.88" fill="#980a0a" opacity="0.30"/><circle cx="153.9" cy="105.9" r="0.72" fill="#980a0a" opacity="0.39"/><circle cx="172.0" cy="96.5" r="0.89" fill="#fff4d8" opacity="0.44"/><circle cx="162.1" cy="105.9" r="1.09" fill="#ffe0c0" opacity="0.68"/><circle cx="166.2" cy="106.6" r="1.28" fill="#ffc860" opacity="0.57"/><circle cx="157.0" cy="95.1" r="1.04" fill="#ffe0c0" opacity="0.56"/><circle cx="161.9" cy="105.3" r="0.73" fill="#ffc860" opacity="0.57"/><circle cx="160.4" cy="95.7" r="0.79" fill="#ffe8a0" opacity="0.54"/><circle cx="163.4" cy="100.6" r="1.26" fill="#ffd870" opacity="0.46"/><circle cx="163.1" cy="104.1" r="1.14" fill="#ffffff" opacity="0.52"/><circle cx="161.6" cy="99.1" r="1.00" fill="#ffe0c0" opacity="0.73"/><circle cx="157.9" cy="96.3" r="0.84" fill="#ffffff" opacity="0.55"/><circle cx="171.2" cy="106.7" r="1.05" fill="#ffe8a0" opacity="0.49"/><circle cx="170.3" cy="95.5" r="1.20" fill="#ffc860" opacity="0.46"/><circle cx="171.4" cy="104.5" r="0.67" fill="#ffe0c0" opacity="0.71"/><circle cx="156.5" cy="97.5" r="0.54" fill="#ffd870" opacity="0.74"/><circle cx="160.4" cy="96.6" r="0.61" fill="#fff4d8" opacity="0.60"/><circle cx="155.2" cy="99.9" r="1.38" fill="#ffd878" opacity="0.42"/><circle cx="160.8" cy="108.4" r="1.42" fill="#ffd878" opacity="0.61"/><circle cx="161.0" cy="96.5" r="1.50" fill="#ffd878" opacity="0.44"/><circle cx="159.5" cy="106.4" r="0.99" fill="#ffd878" opacity="0.63"/><circle cx="166.9" cy="107.6" r="1.21" fill="#ffd878" opacity="0.60"/><ellipse cx="156" cy="100" rx="3" ry="3" fill="#ffe49a" opacity="0.8" filter="url(#bl2)"/><ellipse cx="163" cy="94.5" rx="3" ry="1.5" fill="#ffe49a" opacity="0.6" filter="url(#bl2)"/></g><path d="M153.3 101.8C153.3 101.0 153.5 100.5 153.9 99.8C154.2 99.2 154.7 98.3 155.5 97.9C156.4 97.5 158.0 97.7 158.7 97.2C159.5 96.8 159.4 95.9 160.0 95.4C160.6 94.8 161.6 94.2 162.5 93.9C163.4 93.7 164.5 93.8 165.5 93.7C166.5 93.6 167.7 93.5 168.7 93.5C169.7 93.4 170.5 93.3 171.6 93.5C172.6 93.7 174.1 94.0 174.9 94.6C175.6 95.2 175.7 96.4 175.8 97.3C176.0 98.1 175.8 98.8 175.9 99.5C176.0 100.3 176.6 101.1 176.4 101.8C176.2 102.5 175.3 103.0 174.7 103.7C174.2 104.3 174.1 105.1 173.3 105.7C172.5 106.2 171.1 106.4 170.1 106.8C169.0 107.1 168.0 107.5 167.0 107.9C165.9 108.2 164.9 109.0 163.8 109.1C162.8 109.2 161.7 108.7 160.8 108.4C159.9 108.1 159.2 107.7 158.5 107.4C157.8 107.0 157.3 106.7 156.6 106.2C155.9 105.7 154.6 105.1 154.0 104.3C153.5 103.6 153.3 102.5 153.3 101.8Z" fill="none" stroke="#8e0c10" stroke-width="1.1" stroke-opacity="0.32"/><clipPath id="cC3"><path d="M193.0 100.2C193.0 99.3 194.0 98.8 194.1 98.0C194.2 97.2 193.4 96.1 193.7 95.5C194.0 94.9 195.4 95.0 195.9 94.5C196.4 93.9 196.2 92.7 196.7 92.3C197.2 91.9 198.3 92.1 199.1 92.0C199.9 92.0 200.7 91.9 201.5 92.2C202.2 92.4 202.9 92.7 203.5 93.4C204.1 94.0 204.3 95.4 205.2 95.9C206.0 96.4 207.9 95.9 208.6 96.3C209.4 96.6 209.3 97.4 209.6 98.0C210.0 98.5 209.9 98.9 210.6 99.5C211.3 100.0 213.5 100.5 213.8 101.0C214.2 101.5 213.0 101.9 212.8 102.5C212.6 103.0 213.1 103.8 212.6 104.1C212.1 104.4 210.7 104.3 209.7 104.3C208.6 104.3 207.4 103.9 206.3 104.1C205.2 104.4 204.2 105.8 203.2 105.9C202.2 106.1 201.1 105.3 200.1 105.3C199.2 105.2 198.4 105.7 197.7 105.8C196.9 105.9 196.1 106.3 195.5 105.9C194.9 105.4 194.5 104.1 194.1 103.2C193.6 102.2 193.0 101.1 193.0 100.2Z"/></clipPath><path d="M193.0 100.2C193.0 99.3 194.0 98.8 194.1 98.0C194.2 97.2 193.4 96.1 193.7 95.5C194.0 94.9 195.4 95.0 195.9 94.5C196.4 93.9 196.2 92.7 196.7 92.3C197.2 91.9 198.3 92.1 199.1 92.0C199.9 92.0 200.7 91.9 201.5 92.2C202.2 92.4 202.9 92.7 203.5 93.4C204.1 94.0 204.3 95.4 205.2 95.9C206.0 96.4 207.9 95.9 208.6 96.3C209.4 96.6 209.3 97.4 209.6 98.0C210.0 98.5 209.9 98.9 210.6 99.5C211.3 100.0 213.5 100.5 213.8 101.0C214.2 101.5 213.0 101.9 212.8 102.5C212.6 103.0 213.1 103.8 212.6 104.1C212.1 104.4 210.7 104.3 209.7 104.3C208.6 104.3 207.4 103.9 206.3 104.1C205.2 104.4 204.2 105.8 203.2 105.9C202.2 106.1 201.1 105.3 200.1 105.3C199.2 105.2 198.4 105.7 197.7 105.8C196.9 105.9 196.1 106.3 195.5 105.9C194.9 105.4 194.5 104.1 194.1 103.2C193.6 102.2 193.0 101.1 193.0 100.2Z" fill="#ec7a6a"/><g clip-path="url(#cC3)"><circle cx="212.1" cy="94.9" r="1.24" fill="#980a0a" opacity="0.34"/><circle cx="196.9" cy="95.8" r="1.15" fill="#980a0a" opacity="0.32"/><circle cx="209.7" cy="96.4" r="1.03" fill="#980a0a" opacity="0.20"/><circle cx="205.0" cy="95.0" r="0.74" fill="#980a0a" opacity="0.29"/><circle cx="202.6" cy="97.2" r="0.94" fill="#980a0a" opacity="0.39"/><circle cx="204.9" cy="105.8" r="0.77" fill="#980a0a" opacity="0.29"/><circle cx="207.8" cy="105.9" r="1.02" fill="#980a0a" opacity="0.25"/><circle cx="207.2" cy="95.1" r="0.71" fill="#980a0a" opacity="0.18"/><circle cx="200.5" cy="104.6" r="1.58" fill="#980a0a" opacity="0.41"/><circle cx="211.0" cy="100.0" r="1.50" fill="#980a0a" opacity="0.29"/><circle cx="211.5" cy="103.9" r="0.89" fill="#980a0a" opacity="0.21"/><circle cx="210.1" cy="99.4" r="1.18" fill="#980a0a" opacity="0.34"/><circle cx="195.6" cy="95.9" r="0.71" fill="#980a0a" opacity="0.39"/><circle cx="196.5" cy="105.4" r="1.49" fill="#980a0a" opacity="0.23"/><circle cx="199.7" cy="99.9" r="0.69" fill="#ffc860" opacity="0.76"/><circle cx="193.3" cy="96.3" r="1.16" fill="#ffd870" opacity="0.69"/><circle cx="195.5" cy="97.4" r="1.11" fill="#fff4d8" opacity="0.50"/><circle cx="205.6" cy="98.7" r="0.61" fill="#ffd870" opacity="0.41"/><circle cx="210.3" cy="100.7" r="1.06" fill="#ffd870" opacity="0.45"/><circle cx="203.8" cy="101.5" r="1.27" fill="#ffc860" opacity="0.60"/><circle cx="211.7" cy="94.9" r="0.90" fill="#ffe8a0" opacity="0.44"/><circle cx="198.8" cy="95.9" r="0.88" fill="#ffe0c0" opacity="0.70"/><circle cx="193.5" cy="96.7" r="1.24" fill="#ffe0c0" opacity="0.50"/><circle cx="200.4" cy="105.1" r="0.74" fill="#ffe8a0" opacity="0.52"/><circle cx="193.2" cy="100.8" r="0.68" fill="#ffe0c0" opacity="0.76"/><circle cx="213.3" cy="93.9" r="1.21" fill="#ffffff" opacity="0.64"/><circle cx="202.7" cy="95.1" r="1.01" fill="#ffe0c0" opacity="0.49"/><circle cx="207.4" cy="105.9" r="0.53" fill="#ffc860" opacity="0.64"/><circle cx="202.6" cy="102.9" r="0.61" fill="#ffc860" opacity="0.67"/><circle cx="210.1" cy="101.1" r="0.59" fill="#ffe8a0" opacity="0.45"/><circle cx="203.4" cy="94.6" r="0.99" fill="#ffd878" opacity="0.61"/><circle cx="200.3" cy="104.8" r="0.94" fill="#ffd878" opacity="0.69"/><circle cx="197.4" cy="93.1" r="1.06" fill="#ffd878" opacity="0.45"/><circle cx="200.5" cy="104.4" r="1.47" fill="#ffd878" opacity="0.59"/><circle cx="199.8" cy="93.7" r="1.29" fill="#ffd878" opacity="0.66"/><circle cx="200.4" cy="104.8" r="1.22" fill="#ffd878" opacity="0.57"/><circle cx="197.1" cy="104.5" r="1.30" fill="#ffd878" opacity="0.67"/><ellipse cx="197" cy="98" rx="2" ry="2.5" fill="#ffe49a" opacity="0.9" filter="url(#bl2)"/><ellipse cx="208" cy="101" rx="3" ry="2" fill="#ffe49a" opacity="0.6" filter="url(#bl2)"/><ellipse cx="201" cy="99" rx="4" ry="3" fill="#fff2ee" opacity="0.6" filter="url(#bl2)"/></g><path d="M193.0 100.2C193.0 99.3 194.0 98.8 194.1 98.0C194.2 97.2 193.4 96.1 193.7 95.5C194.0 94.9 195.4 95.0 195.9 94.5C196.4 93.9 196.2 92.7 196.7 92.3C197.2 91.9 198.3 92.1 199.1 92.0C199.9 92.0 200.7 91.9 201.5 92.2C202.2 92.4 202.9 92.7 203.5 93.4C204.1 94.0 204.3 95.4 205.2 95.9C206.0 96.4 207.9 95.9 208.6 96.3C209.4 96.6 209.3 97.4 209.6 98.0C210.0 98.5 209.9 98.9 210.6 99.5C211.3 100.0 213.5 100.5 213.8 101.0C214.2 101.5 213.0 101.9 212.8 102.5C212.6 103.0 213.1 103.8 212.6 104.1C212.1 104.4 210.7 104.3 209.7 104.3C208.6 104.3 207.4 103.9 206.3 104.1C205.2 104.4 204.2 105.8 203.2 105.9C202.2 106.1 201.1 105.3 200.1 105.3C199.2 105.2 198.4 105.7 197.7 105.8C196.9 105.9 196.1 106.3 195.5 105.9C194.9 105.4 194.5 104.1 194.1 103.2C193.6 102.2 193.0 101.1 193.0 100.2Z" fill="none" stroke="#d83a3a" stroke-width="1.0" stroke-opacity="0.35"/><clipPath id="cC4"><path d="M231.8 98.7C231.8 97.9 231.4 97.1 231.7 96.5C232.0 95.8 233.0 95.3 233.7 94.7C234.4 94.2 235.2 93.4 236.1 93.0C237.0 92.6 238.2 92.4 239.2 92.3C240.2 92.2 241.3 92.2 242.2 92.4C243.2 92.6 244.4 93.0 244.9 93.7C245.5 94.3 244.9 95.6 245.5 96.3C246.0 97.0 247.6 97.2 248.1 97.8C248.6 98.5 248.7 99.4 248.5 100.0C248.2 100.6 247.2 101.3 246.5 101.7C245.9 102.0 245.1 101.9 244.5 102.2C243.9 102.5 243.8 103.3 243.1 103.4C242.4 103.5 241.2 102.7 240.2 102.8C239.3 103.0 238.3 104.3 237.6 104.3C236.9 104.2 236.9 103.0 236.2 102.8C235.4 102.6 234.0 103.5 233.2 103.2C232.4 103.0 231.6 102.0 231.4 101.3C231.2 100.5 231.7 99.5 231.8 98.7Z"/></clipPath><path d="M231.8 98.7C231.8 97.9 231.4 97.1 231.7 96.5C232.0 95.8 233.0 95.3 233.7 94.7C234.4 94.2 235.2 93.4 236.1 93.0C237.0 92.6 238.2 92.4 239.2 92.3C240.2 92.2 241.3 92.2 242.2 92.4C243.2 92.6 244.4 93.0 244.9 93.7C245.5 94.3 244.9 95.6 245.5 96.3C246.0 97.0 247.6 97.2 248.1 97.8C248.6 98.5 248.7 99.4 248.5 100.0C248.2 100.6 247.2 101.3 246.5 101.7C245.9 102.0 245.1 101.9 244.5 102.2C243.9 102.5 243.8 103.3 243.1 103.4C242.4 103.5 241.2 102.7 240.2 102.8C239.3 103.0 238.3 104.3 237.6 104.3C236.9 104.2 236.9 103.0 236.2 102.8C235.4 102.6 234.0 103.5 233.2 103.2C232.4 103.0 231.6 102.0 231.4 101.3C231.2 100.5 231.7 99.5 231.8 98.7Z" fill="#f0a0b4"/><g clip-path="url(#cC4)"><circle cx="235.7" cy="92.8" r="1.07" fill="#980a0a" opacity="0.33"/><circle cx="246.7" cy="101.9" r="0.94" fill="#980a0a" opacity="0.16"/><circle cx="232.5" cy="97.9" r="0.77" fill="#980a0a" opacity="0.21"/><circle cx="244.3" cy="102.9" r="0.99" fill="#980a0a" opacity="0.32"/><circle cx="232.5" cy="96.1" r="1.13" fill="#980a0a" opacity="0.17"/><circle cx="247.0" cy="92.7" r="1.22" fill="#980a0a" opacity="0.34"/><circle cx="243.2" cy="103.2" r="1.43" fill="#980a0a" opacity="0.24"/><circle cx="233.4" cy="92.8" r="0.91" fill="#980a0a" opacity="0.22"/><circle cx="247.6" cy="100.5" r="1.21" fill="#980a0a" opacity="0.39"/><circle cx="241.1" cy="103.6" r="1.12" fill="#ffc8c0" opacity="0.58"/><circle cx="243.3" cy="103.0" r="1.29" fill="#ffc8c0" opacity="0.66"/><circle cx="242.4" cy="96.7" r="0.97" fill="#ffe8b0" opacity="0.42"/><circle cx="247.3" cy="95.7" r="1.29" fill="#ffd8d0" opacity="0.44"/><circle cx="245.3" cy="96.1" r="0.73" fill="#ffffff" opacity="0.51"/><ellipse cx="236" cy="99" rx="3" ry="2.5" fill="#ffe49a" opacity="0.6" filter="url(#bl2)"/><ellipse cx="245" cy="99" rx="2" ry="2" fill="#1e0404" opacity="0.315" filter="url(#bl2)"/></g><path d="M231.8 98.7C231.8 97.9 231.4 97.1 231.7 96.5C232.0 95.8 233.0 95.3 233.7 94.7C234.4 94.2 235.2 93.4 236.1 93.0C237.0 92.6 238.2 92.4 239.2 92.3C240.2 92.2 241.3 92.2 242.2 92.4C243.2 92.6 244.4 93.0 244.9 93.7C245.5 94.3 244.9 95.6 245.5 96.3C246.0 97.0 247.6 97.2 248.1 97.8C248.6 98.5 248.7 99.4 248.5 100.0C248.2 100.6 247.2 101.3 246.5 101.7C245.9 102.0 245.1 101.9 244.5 102.2C243.9 102.5 243.8 103.3 243.1 103.4C242.4 103.5 241.2 102.7 240.2 102.8C239.3 103.0 238.3 104.3 237.6 104.3C236.9 104.2 236.9 103.0 236.2 102.8C235.4 102.6 234.0 103.5 233.2 103.2C232.4 103.0 231.6 102.0 231.4 101.3C231.2 100.5 231.7 99.5 231.8 98.7Z" fill="none" stroke="#d83a3a" stroke-width="1.0" stroke-opacity="0.35"/><clipPath id="cD1"><path d="M110.9 132.5C111.2 131.7 112.2 131.1 112.4 130.3C112.5 129.5 111.8 128.3 112.1 127.7C112.4 127.2 113.1 127.0 114.1 127.0C115.2 126.9 117.2 127.9 118.1 127.5C119.1 127.2 119.2 125.4 119.9 124.8C120.6 124.3 121.8 124.2 122.5 124.1C123.2 123.9 123.4 124.1 123.9 123.9C124.3 123.7 124.8 123.0 125.4 122.8C126.0 122.7 126.9 122.8 127.6 123.0C128.2 123.3 128.9 123.6 129.2 124.2C129.6 124.7 129.7 125.5 129.9 126.3C130.1 127.0 130.2 127.9 130.6 128.5C131.0 129.2 131.9 129.6 132.3 130.2C132.7 130.7 133.1 131.2 133.1 131.8C133.1 132.4 132.3 133.2 132.2 134.0C132.1 134.7 133.2 135.9 132.7 136.5C132.2 137.1 130.4 136.9 129.5 137.3C128.5 137.7 127.9 138.3 127.0 138.8C126.1 139.2 125.1 139.7 124.1 139.9C123.1 140.0 122.1 139.7 121.1 139.8C120.0 139.8 118.8 140.1 117.8 140.0C116.8 140.0 115.6 139.8 114.8 139.5C114.1 139.1 114.0 138.4 113.3 138.0C112.6 137.7 110.9 137.9 110.5 137.4C110.2 136.8 110.9 135.6 111.0 134.8C111.1 133.9 110.7 133.2 110.9 132.5Z"/></clipPath><path d="M110.9 132.5C111.2 131.7 112.2 131.1 112.4 130.3C112.5 129.5 111.8 128.3 112.1 127.7C112.4 127.2 113.1 127.0 114.1 127.0C115.2 126.9 117.2 127.9 118.1 127.5C119.1 127.2 119.2 125.4 119.9 124.8C120.6 124.3 121.8 124.2 122.5 124.1C123.2 123.9 123.4 124.1 123.9 123.9C124.3 123.7 124.8 123.0 125.4 122.8C126.0 122.7 126.9 122.8 127.6 123.0C128.2 123.3 128.9 123.6 129.2 124.2C129.6 124.7 129.7 125.5 129.9 126.3C130.1 127.0 130.2 127.9 130.6 128.5C131.0 129.2 131.9 129.6 132.3 130.2C132.7 130.7 133.1 131.2 133.1 131.8C133.1 132.4 132.3 133.2 132.2 134.0C132.1 134.7 133.2 135.9 132.7 136.5C132.2 137.1 130.4 136.9 129.5 137.3C128.5 137.7 127.9 138.3 127.0 138.8C126.1 139.2 125.1 139.7 124.1 139.9C123.1 140.0 122.1 139.7 121.1 139.8C120.0 139.8 118.8 140.1 117.8 140.0C116.8 140.0 115.6 139.8 114.8 139.5C114.1 139.1 114.0 138.4 113.3 138.0C112.6 137.7 110.9 137.9 110.5 137.4C110.2 136.8 110.9 135.6 111.0 134.8C111.1 133.9 110.7 133.2 110.9 132.5Z" fill="#e0321a"/><g clip-path="url(#cD1)"><circle cx="118.6" cy="135.2" r="0.72" fill="#980a0a" opacity="0.25"/><circle cx="118.2" cy="132.6" r="1.55" fill="#980a0a" opacity="0.26"/><circle cx="124.2" cy="132.3" r="0.80" fill="#980a0a" opacity="0.36"/><circle cx="111.5" cy="134.4" r="0.94" fill="#980a0a" opacity="0.24"/><circle cx="125.0" cy="139.8" r="0.78" fill="#980a0a" opacity="0.28"/><circle cx="113.6" cy="131.4" r="0.71" fill="#980a0a" opacity="0.28"/><circle cx="128.1" cy="138.0" r="1.21" fill="#980a0a" opacity="0.33"/><circle cx="115.2" cy="129.8" r="1.05" fill="#980a0a" opacity="0.24"/><circle cx="132.9" cy="136.7" r="1.01" fill="#980a0a" opacity="0.37"/><circle cx="120.3" cy="128.3" r="1.40" fill="#980a0a" opacity="0.23"/><circle cx="129.4" cy="124.1" r="1.20" fill="#980a0a" opacity="0.39"/><circle cx="120.5" cy="134.9" r="1.09" fill="#980a0a" opacity="0.36"/><circle cx="125.4" cy="124.3" r="1.38" fill="#980a0a" opacity="0.19"/><circle cx="121.2" cy="123.2" r="1.47" fill="#980a0a" opacity="0.17"/><circle cx="127.0" cy="132.5" r="0.78" fill="#980a0a" opacity="0.34"/><circle cx="115.8" cy="130.2" r="0.88" fill="#980a0a" opacity="0.22"/><circle cx="119.6" cy="127.3" r="0.85" fill="#980a0a" opacity="0.32"/><circle cx="122.8" cy="135.7" r="0.94" fill="#980a0a" opacity="0.18"/><circle cx="117.0" cy="130.4" r="0.73" fill="#980a0a" opacity="0.27"/><circle cx="119.5" cy="125.8" r="0.72" fill="#980a0a" opacity="0.36"/><circle cx="117.0" cy="126.9" r="1.06" fill="#ffc860" opacity="0.45"/><circle cx="115.8" cy="127.2" r="0.63" fill="#ffffff" opacity="0.54"/><circle cx="132.1" cy="138.2" r="0.72" fill="#ffe0c0" opacity="0.67"/><circle cx="131.2" cy="131.8" r="1.24" fill="#ffffff" opacity="0.65"/><circle cx="116.9" cy="128.3" r="1.04" fill="#ffd870" opacity="0.68"/><circle cx="118.5" cy="133.6" r="0.96" fill="#ffe8a0" opacity="0.43"/><circle cx="114.4" cy="134.4" r="1.13" fill="#ffe0c0" opacity="0.55"/><circle cx="118.1" cy="128.2" r="0.51" fill="#ffffff" opacity="0.77"/><circle cx="116.5" cy="130.5" r="0.67" fill="#ffffff" opacity="0.62"/><circle cx="114.4" cy="131.7" r="1.08" fill="#fff4d8" opacity="0.72"/><circle cx="110.8" cy="135.8" r="0.94" fill="#ffc860" opacity="0.73"/><circle cx="113.2" cy="125.4" r="0.97" fill="#ffc860" opacity="0.45"/><circle cx="120.8" cy="134.0" r="0.69" fill="#ffe0c0" opacity="0.54"/><circle cx="118.8" cy="130.4" r="0.71" fill="#ffc860" opacity="0.52"/><circle cx="112.9" cy="132.1" r="1.10" fill="#ffffff" opacity="0.75"/><circle cx="125.6" cy="123.5" r="0.90" fill="#ffc860" opacity="0.49"/><circle cx="120.6" cy="136.2" r="1.26" fill="#ffc860" opacity="0.60"/><circle cx="122.0" cy="126.2" r="1.17" fill="#ffffff" opacity="0.43"/><circle cx="110.9" cy="125.2" r="0.83" fill="#ffd870" opacity="0.77"/><circle cx="112.2" cy="125.8" r="0.65" fill="#ffe8a0" opacity="0.80"/><circle cx="128.7" cy="129.2" r="0.99" fill="#ffd878" opacity="0.57"/><circle cx="125.1" cy="123.5" r="1.09" fill="#ffd878" opacity="0.63"/><circle cx="131.6" cy="133.8" r="1.41" fill="#ffd878" opacity="0.67"/><circle cx="124.0" cy="139.3" r="1.39" fill="#ffd878" opacity="0.63"/><circle cx="130.5" cy="128.6" r="0.86" fill="#ffd878" opacity="0.65"/><circle cx="130.8" cy="135.6" r="1.19" fill="#ffd878" opacity="0.69"/><circle cx="128.6" cy="124.9" r="0.84" fill="#ffd878" opacity="0.58"/></g><path d="M110.9 132.5C111.2 131.7 112.2 131.1 112.4 130.3C112.5 129.5 111.8 128.3 112.1 127.7C112.4 127.2 113.1 127.0 114.1 127.0C115.2 126.9 117.2 127.9 118.1 127.5C119.1 127.2 119.2 125.4 119.9 124.8C120.6 124.3 121.8 124.2 122.5 124.1C123.2 123.9 123.4 124.1 123.9 123.9C124.3 123.7 124.8 123.0 125.4 122.8C126.0 122.7 126.9 122.8 127.6 123.0C128.2 123.3 128.9 123.6 129.2 124.2C129.6 124.7 129.7 125.5 129.9 126.3C130.1 127.0 130.2 127.9 130.6 128.5C131.0 129.2 131.9 129.6 132.3 130.2C132.7 130.7 133.1 131.2 133.1 131.8C133.1 132.4 132.3 133.2 132.2 134.0C132.1 134.7 133.2 135.9 132.7 136.5C132.2 137.1 130.4 136.9 129.5 137.3C128.5 137.7 127.9 138.3 127.0 138.8C126.1 139.2 125.1 139.7 124.1 139.9C123.1 140.0 122.1 139.7 121.1 139.8C120.0 139.8 118.8 140.1 117.8 140.0C116.8 140.0 115.6 139.8 114.8 139.5C114.1 139.1 114.0 138.4 113.3 138.0C112.6 137.7 110.9 137.9 110.5 137.4C110.2 136.8 110.9 135.6 111.0 134.8C111.1 133.9 110.7 133.2 110.9 132.5Z" fill="none" stroke="#8e0c10" stroke-width="1.1" stroke-opacity="0.32"/><clipPath id="cD2"><path d="M156.7 129.3C157.1 128.6 158.6 128.2 158.9 127.5C159.2 126.8 158.5 125.8 158.7 125.1C158.9 124.5 159.7 124.0 160.2 123.6C160.8 123.1 161.4 122.6 162.0 122.3C162.7 122.1 163.5 122.1 164.2 122.1C165.0 122.1 165.7 122.2 166.4 122.3C167.2 122.4 168.1 122.5 168.8 122.8C169.5 123.2 170.4 123.7 170.6 124.4C170.9 125.1 170.1 126.3 170.3 127.1C170.6 127.9 172.0 128.3 172.1 129.0C172.1 129.7 170.8 130.5 170.5 131.3C170.3 132.1 170.7 133.1 170.4 133.9C170.1 134.7 169.5 135.3 168.9 135.8C168.2 136.3 167.4 136.8 166.6 136.8C165.8 136.8 164.9 135.6 164.0 135.6C163.2 135.6 161.9 137.1 161.3 136.9C160.7 136.7 161.0 134.9 160.4 134.3C159.8 133.8 158.5 134.1 157.9 133.7C157.3 133.3 156.8 132.5 156.6 131.8C156.4 131.0 156.4 130.0 156.7 129.3Z"/></clipPath><path d="M156.7 129.3C157.1 128.6 158.6 128.2 158.9 127.5C159.2 126.8 158.5 125.8 158.7 125.1C158.9 124.5 159.7 124.0 160.2 123.6C160.8 123.1 161.4 122.6 162.0 122.3C162.7 122.1 163.5 122.1 164.2 122.1C165.0 122.1 165.7 122.2 166.4 122.3C167.2 122.4 168.1 122.5 168.8 122.8C169.5 123.2 170.4 123.7 170.6 124.4C170.9 125.1 170.1 126.3 170.3 127.1C170.6 127.9 172.0 128.3 172.1 129.0C172.1 129.7 170.8 130.5 170.5 131.3C170.3 132.1 170.7 133.1 170.4 133.9C170.1 134.7 169.5 135.3 168.9 135.8C168.2 136.3 167.4 136.8 166.6 136.8C165.8 136.8 164.9 135.6 164.0 135.6C163.2 135.6 161.9 137.1 161.3 136.9C160.7 136.7 161.0 134.9 160.4 134.3C159.8 133.8 158.5 134.1 157.9 133.7C157.3 133.3 156.8 132.5 156.6 131.8C156.4 131.0 156.4 130.0 156.7 129.3Z" fill="#de3640"/><g clip-path="url(#cD2)"><circle cx="164.6" cy="135.2" r="1.35" fill="#980a0a" opacity="0.18"/><circle cx="167.1" cy="132.5" r="1.29" fill="#980a0a" opacity="0.28"/><circle cx="159.3" cy="133.6" r="1.43" fill="#980a0a" opacity="0.25"/><circle cx="170.0" cy="136.2" r="0.90" fill="#980a0a" opacity="0.20"/><circle cx="164.9" cy="133.6" r="1.11" fill="#980a0a" opacity="0.40"/><circle cx="161.3" cy="136.3" r="1.33" fill="#980a0a" opacity="0.38"/><circle cx="170.0" cy="134.2" r="1.30" fill="#980a0a" opacity="0.24"/><circle cx="160.8" cy="135.5" r="1.05" fill="#980a0a" opacity="0.20"/><circle cx="158.1" cy="133.2" r="0.99" fill="#980a0a" opacity="0.30"/><circle cx="166.0" cy="127.3" r="1.39" fill="#980a0a" opacity="0.39"/><circle cx="164.7" cy="129.4" r="0.58" fill="#ffe8e0" opacity="0.65"/><circle cx="157.2" cy="124.7" r="1.23" fill="#ffd8d0" opacity="0.68"/><circle cx="160.2" cy="127.2" r="0.83" fill="#ffffff" opacity="0.49"/><circle cx="169.9" cy="131.8" r="1.00" fill="#ffe8b0" opacity="0.46"/><circle cx="166.9" cy="126.1" r="1.03" fill="#ffd8d0" opacity="0.74"/><circle cx="163.2" cy="125.5" r="1.04" fill="#ffe8e0" opacity="0.64"/><circle cx="161.9" cy="131.2" r="0.53" fill="#ffd8d0" opacity="0.49"/><ellipse cx="163" cy="128" rx="3" ry="3" fill="#ffe49a" opacity="0.3" filter="url(#bl2)"/><ellipse cx="164" cy="130" rx="3" ry="3" fill="#fff2ee" opacity="0.5" filter="url(#bl2)"/></g><path d="M156.7 129.3C157.1 128.6 158.6 128.2 158.9 127.5C159.2 126.8 158.5 125.8 158.7 125.1C158.9 124.5 159.7 124.0 160.2 123.6C160.8 123.1 161.4 122.6 162.0 122.3C162.7 122.1 163.5 122.1 164.2 122.1C165.0 122.1 165.7 122.2 166.4 122.3C167.2 122.4 168.1 122.5 168.8 122.8C169.5 123.2 170.4 123.7 170.6 124.4C170.9 125.1 170.1 126.3 170.3 127.1C170.6 127.9 172.0 128.3 172.1 129.0C172.1 129.7 170.8 130.5 170.5 131.3C170.3 132.1 170.7 133.1 170.4 133.9C170.1 134.7 169.5 135.3 168.9 135.8C168.2 136.3 167.4 136.8 166.6 136.8C165.8 136.8 164.9 135.6 164.0 135.6C163.2 135.6 161.9 137.1 161.3 136.9C160.7 136.7 161.0 134.9 160.4 134.3C159.8 133.8 158.5 134.1 157.9 133.7C157.3 133.3 156.8 132.5 156.6 131.8C156.4 131.0 156.4 130.0 156.7 129.3Z" fill="none" stroke="#8e0c10" stroke-width="1.1" stroke-opacity="0.32"/><clipPath id="cD3"><path d="M191.8 129.5C191.8 128.5 192.9 127.7 193.3 126.7C193.7 125.8 193.9 124.6 194.4 123.9C194.8 123.1 195.2 122.5 195.9 122.2C196.5 121.8 197.7 121.6 198.4 121.7C199.2 121.7 199.8 121.9 200.5 122.4C201.3 123.0 201.9 124.7 203.0 124.9C204.0 125.1 205.8 123.7 206.8 123.6C207.8 123.4 208.2 123.8 209.1 124.1C210.0 124.4 211.4 125.0 212.1 125.6C212.8 126.2 213.4 127.2 213.3 127.9C213.1 128.6 211.5 129.1 211.2 129.8C211.0 130.4 212.3 131.5 211.9 131.9C211.4 132.4 209.4 132.1 208.5 132.4C207.6 132.7 207.4 133.3 206.5 133.6C205.5 133.9 204.1 133.6 203.0 134.1C201.9 134.5 201.1 135.7 200.1 136.1C199.1 136.6 197.8 136.9 197.0 136.9C196.1 136.9 195.3 137.0 194.7 136.3C194.2 135.6 194.2 133.9 193.7 132.8C193.2 131.7 191.9 130.5 191.8 129.5Z"/></clipPath><path d="M191.8 129.5C191.8 128.5 192.9 127.7 193.3 126.7C193.7 125.8 193.9 124.6 194.4 123.9C194.8 123.1 195.2 122.5 195.9 122.2C196.5 121.8 197.7 121.6 198.4 121.7C199.2 121.7 199.8 121.9 200.5 122.4C201.3 123.0 201.9 124.7 203.0 124.9C204.0 125.1 205.8 123.7 206.8 123.6C207.8 123.4 208.2 123.8 209.1 124.1C210.0 124.4 211.4 125.0 212.1 125.6C212.8 126.2 213.4 127.2 213.3 127.9C213.1 128.6 211.5 129.1 211.2 129.8C211.0 130.4 212.3 131.5 211.9 131.9C211.4 132.4 209.4 132.1 208.5 132.4C207.6 132.7 207.4 133.3 206.5 133.6C205.5 133.9 204.1 133.6 203.0 134.1C201.9 134.5 201.1 135.7 200.1 136.1C199.1 136.6 197.8 136.9 197.0 136.9C196.1 136.9 195.3 137.0 194.7 136.3C194.2 135.6 194.2 133.9 193.7 132.8C193.2 131.7 191.9 130.5 191.8 129.5Z" fill="#e4401a"/><g clip-path="url(#cD3)"><circle cx="193.4" cy="128.8" r="1.39" fill="#980a0a" opacity="0.22"/><circle cx="203.3" cy="122.9" r="1.02" fill="#980a0a" opacity="0.18"/><circle cx="199.0" cy="132.1" r="1.43" fill="#980a0a" opacity="0.36"/><circle cx="204.3" cy="130.9" r="0.87" fill="#980a0a" opacity="0.28"/><circle cx="204.6" cy="123.3" r="0.98" fill="#980a0a" opacity="0.39"/><circle cx="212.2" cy="134.5" r="1.41" fill="#980a0a" opacity="0.35"/><circle cx="210.8" cy="127.5" r="0.88" fill="#980a0a" opacity="0.22"/><circle cx="197.2" cy="124.8" r="0.86" fill="#980a0a" opacity="0.23"/><circle cx="193.3" cy="127.0" r="1.09" fill="#980a0a" opacity="0.20"/><circle cx="201.0" cy="132.7" r="1.33" fill="#980a0a" opacity="0.29"/><circle cx="200.3" cy="134.7" r="1.20" fill="#980a0a" opacity="0.42"/><circle cx="203.8" cy="127.8" r="1.17" fill="#980a0a" opacity="0.28"/><circle cx="200.5" cy="131.7" r="1.34" fill="#980a0a" opacity="0.32"/><circle cx="203.8" cy="122.8" r="1.11" fill="#980a0a" opacity="0.27"/><circle cx="205.8" cy="123.0" r="0.88" fill="#980a0a" opacity="0.27"/><circle cx="198.1" cy="125.5" r="0.97" fill="#ffc860" opacity="0.57"/><circle cx="207.3" cy="126.2" r="0.74" fill="#ffe0c0" opacity="0.65"/><circle cx="198.2" cy="126.6" r="0.84" fill="#ffe8a0" opacity="0.51"/><circle cx="205.4" cy="127.2" r="0.82" fill="#ffe0c0" opacity="0.41"/><circle cx="195.3" cy="133.9" r="0.98" fill="#fff4d8" opacity="0.55"/><circle cx="211.9" cy="123.5" r="0.56" fill="#ffd870" opacity="0.40"/><circle cx="208.8" cy="132.0" r="1.11" fill="#ffc860" opacity="0.40"/><circle cx="205.4" cy="129.1" r="0.95" fill="#ffd870" opacity="0.44"/><circle cx="192.8" cy="125.2" r="1.18" fill="#fff4d8" opacity="0.63"/><circle cx="197.6" cy="123.6" r="1.30" fill="#ffd870" opacity="0.58"/><circle cx="194.7" cy="123.6" r="0.71" fill="#ffd870" opacity="0.79"/><circle cx="201.6" cy="127.3" r="0.51" fill="#ffd870" opacity="0.76"/><circle cx="193.3" cy="127.8" r="0.63" fill="#fff4d8" opacity="0.41"/><circle cx="194.6" cy="132.5" r="0.91" fill="#ffc860" opacity="0.56"/><circle cx="199.9" cy="123.3" r="0.56" fill="#ffe8a0" opacity="0.58"/><circle cx="199.7" cy="133.3" r="0.68" fill="#ffe0c0" opacity="0.64"/><circle cx="194.6" cy="129.0" r="0.57" fill="#ffe0c0" opacity="0.66"/><circle cx="195.3" cy="129.9" r="0.52" fill="#fff4d8" opacity="0.46"/><circle cx="204.5" cy="129.3" r="0.69" fill="#ffffff" opacity="0.43"/><circle cx="209.8" cy="123.8" r="1.27" fill="#ffd870" opacity="0.65"/><circle cx="207.8" cy="122.6" r="1.26" fill="#ffd870" opacity="0.77"/><circle cx="206.7" cy="123.7" r="1.11" fill="#ffd878" opacity="0.54"/><circle cx="195.8" cy="135.2" r="1.02" fill="#ffd878" opacity="0.55"/><circle cx="206.1" cy="124.4" r="0.96" fill="#ffd878" opacity="0.63"/><circle cx="207.9" cy="132.0" r="1.33" fill="#ffd878" opacity="0.67"/><circle cx="194.7" cy="132.4" r="1.13" fill="#ffd878" opacity="0.67"/><circle cx="205.9" cy="124.6" r="1.41" fill="#ffd878" opacity="0.62"/><circle cx="203.0" cy="125.0" r="1.36" fill="#ffd878" opacity="0.56"/><circle cx="209.6" cy="129.6" r="1.05" fill="#ffd878" opacity="0.60"/><ellipse cx="195" cy="129" rx="3" ry="4" fill="#ffe49a" opacity="0.6" filter="url(#bl2)"/></g><path d="M191.8 129.5C191.8 128.5 192.9 127.7 193.3 126.7C193.7 125.8 193.9 124.6 194.4 123.9C194.8 123.1 195.2 122.5 195.9 122.2C196.5 121.8 197.7 121.6 198.4 121.7C199.2 121.7 199.8 121.9 200.5 122.4C201.3 123.0 201.9 124.7 203.0 124.9C204.0 125.1 205.8 123.7 206.8 123.6C207.8 123.4 208.2 123.8 209.1 124.1C210.0 124.4 211.4 125.0 212.1 125.6C212.8 126.2 213.4 127.2 213.3 127.9C213.1 128.6 211.5 129.1 211.2 129.8C211.0 130.4 212.3 131.5 211.9 131.9C211.4 132.4 209.4 132.1 208.5 132.4C207.6 132.7 207.4 133.3 206.5 133.6C205.5 133.9 204.1 133.6 203.0 134.1C201.9 134.5 201.1 135.7 200.1 136.1C199.1 136.6 197.8 136.9 197.0 136.9C196.1 136.9 195.3 137.0 194.7 136.3C194.2 135.6 194.2 133.9 193.7 132.8C193.2 131.7 191.9 130.5 191.8 129.5Z" fill="none" stroke="#8e0c10" stroke-width="1.1" stroke-opacity="0.32"/><clipPath id="cD4"><path d="M226.1 126.5C226.3 126.0 227.5 125.8 227.9 125.3C228.3 124.8 228.0 123.8 228.4 123.6C228.8 123.3 229.5 123.6 230.3 123.8C231.1 124.0 232.2 124.6 233.1 124.8C234.1 125.0 235.1 125.1 236.0 125.0C236.9 124.9 237.4 124.2 238.5 124.2C239.5 124.1 241.0 124.6 242.3 124.9C243.5 125.2 244.6 125.4 245.8 125.8C247.0 126.2 248.5 126.8 249.2 127.4C250.0 128.0 250.5 128.8 250.5 129.5C250.5 130.2 249.5 130.9 249.3 131.6C249.2 132.4 249.8 133.4 249.4 134.1C249.0 134.7 248.0 135.1 247.1 135.6C246.3 136.0 245.5 136.5 244.4 136.6C243.3 136.6 241.7 135.8 240.4 135.8C239.2 135.8 237.9 136.7 236.9 136.6C235.8 136.5 234.8 136.0 234.1 135.3C233.3 134.6 233.0 133.1 232.4 132.4C231.8 131.7 231.2 131.4 230.6 131.0C230.0 130.5 229.5 130.0 228.9 129.5C228.3 129.0 227.4 128.4 226.9 127.9C226.5 127.4 226.0 126.9 226.1 126.5Z"/></clipPath><path d="M226.1 126.5C226.3 126.0 227.5 125.8 227.9 125.3C228.3 124.8 228.0 123.8 228.4 123.6C228.8 123.3 229.5 123.6 230.3 123.8C231.1 124.0 232.2 124.6 233.1 124.8C234.1 125.0 235.1 125.1 236.0 125.0C236.9 124.9 237.4 124.2 238.5 124.2C239.5 124.1 241.0 124.6 242.3 124.9C243.5 125.2 244.6 125.4 245.8 125.8C247.0 126.2 248.5 126.8 249.2 127.4C250.0 128.0 250.5 128.8 250.5 129.5C250.5 130.2 249.5 130.9 249.3 131.6C249.2 132.4 249.8 133.4 249.4 134.1C249.0 134.7 248.0 135.1 247.1 135.6C246.3 136.0 245.5 136.5 244.4 136.6C243.3 136.6 241.7 135.8 240.4 135.8C239.2 135.8 237.9 136.7 236.9 136.6C235.8 136.5 234.8 136.0 234.1 135.3C233.3 134.6 233.0 133.1 232.4 132.4C231.8 131.7 231.2 131.4 230.6 131.0C230.0 130.5 229.5 130.0 228.9 129.5C228.3 129.0 227.4 128.4 226.9 127.9C226.5 127.4 226.0 126.9 226.1 126.5Z" fill="#e02618"/><g clip-path="url(#cD4)"><circle cx="229.6" cy="127.7" r="0.86" fill="#980a0a" opacity="0.32"/><circle cx="243.9" cy="124.3" r="1.29" fill="#980a0a" opacity="0.22"/><circle cx="233.6" cy="131.0" r="1.18" fill="#980a0a" opacity="0.17"/><circle cx="240.3" cy="130.3" r="0.87" fill="#980a0a" opacity="0.20"/><circle cx="231.6" cy="124.1" r="0.96" fill="#980a0a" opacity="0.33"/><circle cx="244.1" cy="125.0" r="1.55" fill="#980a0a" opacity="0.32"/><circle cx="238.2" cy="131.1" r="1.36" fill="#980a0a" opacity="0.41"/><circle cx="234.1" cy="128.6" r="0.72" fill="#980a0a" opacity="0.25"/><circle cx="238.7" cy="131.7" r="1.32" fill="#980a0a" opacity="0.37"/><circle cx="231.0" cy="130.3" r="0.73" fill="#980a0a" opacity="0.29"/><circle cx="244.6" cy="127.4" r="1.00" fill="#980a0a" opacity="0.16"/><circle cx="233.0" cy="136.3" r="1.08" fill="#980a0a" opacity="0.31"/><circle cx="236.6" cy="126.2" r="0.98" fill="#980a0a" opacity="0.33"/><circle cx="240.0" cy="132.2" r="1.05" fill="#980a0a" opacity="0.35"/><circle cx="232.6" cy="135.6" r="1.35" fill="#980a0a" opacity="0.17"/><circle cx="235.5" cy="133.3" r="1.39" fill="#980a0a" opacity="0.16"/><circle cx="241.2" cy="124.7" r="0.87" fill="#ffd8d0" opacity="0.79"/><circle cx="247.9" cy="134.5" r="0.58" fill="#ffe8e0" opacity="0.68"/><circle cx="231.3" cy="128.7" r="0.98" fill="#ffe8e0" opacity="0.49"/><circle cx="228.9" cy="136.1" r="1.23" fill="#ffffff" opacity="0.40"/><circle cx="248.2" cy="126.2" r="0.66" fill="#ffd8d0" opacity="0.61"/><circle cx="249.8" cy="134.1" r="1.23" fill="#ffc8c0" opacity="0.43"/><circle cx="231.6" cy="136.4" r="0.62" fill="#ffffff" opacity="0.55"/><circle cx="249.0" cy="128.4" r="0.90" fill="#ffe8b0" opacity="0.40"/></g><path d="M226.1 126.5C226.3 126.0 227.5 125.8 227.9 125.3C228.3 124.8 228.0 123.8 228.4 123.6C228.8 123.3 229.5 123.6 230.3 123.8C231.1 124.0 232.2 124.6 233.1 124.8C234.1 125.0 235.1 125.1 236.0 125.0C236.9 124.9 237.4 124.2 238.5 124.2C239.5 124.1 241.0 124.6 242.3 124.9C243.5 125.2 244.6 125.4 245.8 125.8C247.0 126.2 248.5 126.8 249.2 127.4C250.0 128.0 250.5 128.8 250.5 129.5C250.5 130.2 249.5 130.9 249.3 131.6C249.2 132.4 249.8 133.4 249.4 134.1C249.0 134.7 248.0 135.1 247.1 135.6C246.3 136.0 245.5 136.5 244.4 136.6C243.3 136.6 241.7 135.8 240.4 135.8C239.2 135.8 237.9 136.7 236.9 136.6C235.8 136.5 234.8 136.0 234.1 135.3C233.3 134.6 233.0 133.1 232.4 132.4C231.8 131.7 231.2 131.4 230.6 131.0C230.0 130.5 229.5 130.0 228.9 129.5C228.3 129.0 227.4 128.4 226.9 127.9C226.5 127.4 226.0 126.9 226.1 126.5Z" fill="none" stroke="#8e0c10" stroke-width="1.1" stroke-opacity="0.32"/><clipPath id="cE1"><path d="M108.7 167.2C108.9 166.6 108.9 165.8 109.3 165.2C109.6 164.5 110.0 163.6 110.9 163.3C111.9 163.0 114.1 163.6 115.2 163.4C116.3 163.3 116.5 162.6 117.6 162.3C118.7 161.9 120.4 161.3 121.7 161.2C123.1 161.1 124.5 161.4 125.7 161.6C126.9 161.8 127.8 162.2 128.8 162.5C129.7 162.8 130.5 163.0 131.5 163.4C132.5 163.7 134.1 164.1 134.8 164.6C135.4 165.1 135.4 165.9 135.3 166.4C135.3 167.0 134.6 167.4 134.4 167.9C134.1 168.4 134.5 169.1 133.8 169.5C133.2 169.8 131.5 169.9 130.3 170.2C129.2 170.5 128.3 170.8 127.1 171.1C125.9 171.3 124.5 171.5 123.2 171.7C121.9 171.9 120.8 172.2 119.4 172.4C118.1 172.6 116.4 173.0 115.1 172.9C113.9 172.9 112.8 172.3 112.1 172.0C111.4 171.7 111.1 171.4 110.7 171.1C110.3 170.8 110.2 170.5 109.7 170.1C109.3 169.7 108.4 169.3 108.2 168.8C108.1 168.3 108.5 167.8 108.7 167.2Z"/></clipPath><path d="M108.7 167.2C108.9 166.6 108.9 165.8 109.3 165.2C109.6 164.5 110.0 163.6 110.9 163.3C111.9 163.0 114.1 163.6 115.2 163.4C116.3 163.3 116.5 162.6 117.6 162.3C118.7 161.9 120.4 161.3 121.7 161.2C123.1 161.1 124.5 161.4 125.7 161.6C126.9 161.8 127.8 162.2 128.8 162.5C129.7 162.8 130.5 163.0 131.5 163.4C132.5 163.7 134.1 164.1 134.8 164.6C135.4 165.1 135.4 165.9 135.3 166.4C135.3 167.0 134.6 167.4 134.4 167.9C134.1 168.4 134.5 169.1 133.8 169.5C133.2 169.8 131.5 169.9 130.3 170.2C129.2 170.5 128.3 170.8 127.1 171.1C125.9 171.3 124.5 171.5 123.2 171.7C121.9 171.9 120.8 172.2 119.4 172.4C118.1 172.6 116.4 173.0 115.1 172.9C113.9 172.9 112.8 172.3 112.1 172.0C111.4 171.7 111.1 171.4 110.7 171.1C110.3 170.8 110.2 170.5 109.7 170.1C109.3 169.7 108.4 169.3 108.2 168.8C108.1 168.3 108.5 167.8 108.7 167.2Z" fill="#e03a1a"/><g clip-path="url(#cE1)"><circle cx="111.1" cy="172.1" r="0.84" fill="#980a0a" opacity="0.27"/><circle cx="124.0" cy="167.4" r="1.26" fill="#980a0a" opacity="0.21"/><circle cx="134.6" cy="163.7" r="0.98" fill="#980a0a" opacity="0.18"/><circle cx="123.7" cy="171.7" r="1.59" fill="#980a0a" opacity="0.38"/><circle cx="120.1" cy="168.8" r="1.12" fill="#980a0a" opacity="0.20"/><circle cx="132.6" cy="167.4" r="1.46" fill="#980a0a" opacity="0.24"/><circle cx="121.2" cy="165.5" r="1.46" fill="#980a0a" opacity="0.26"/><circle cx="131.6" cy="169.3" r="0.76" fill="#980a0a" opacity="0.24"/><circle cx="118.2" cy="170.5" r="0.82" fill="#980a0a" opacity="0.16"/><circle cx="124.3" cy="171.8" r="1.13" fill="#980a0a" opacity="0.38"/><circle cx="116.2" cy="166.3" r="1.25" fill="#980a0a" opacity="0.17"/><circle cx="133.3" cy="170.9" r="0.95" fill="#980a0a" opacity="0.22"/><circle cx="120.9" cy="168.5" r="1.51" fill="#980a0a" opacity="0.30"/><circle cx="122.6" cy="165.4" r="0.75" fill="#980a0a" opacity="0.32"/><circle cx="135.3" cy="172.4" r="0.53" fill="#ffd870" opacity="0.72"/><circle cx="121.8" cy="162.2" r="1.23" fill="#fff4d8" opacity="0.41"/><circle cx="131.7" cy="162.0" r="1.22" fill="#ffc860" opacity="0.49"/><circle cx="121.9" cy="165.7" r="0.94" fill="#ffe0c0" opacity="0.74"/><circle cx="128.4" cy="166.7" r="0.83" fill="#ffe0c0" opacity="0.79"/><circle cx="126.4" cy="169.6" r="0.55" fill="#ffc860" opacity="0.47"/><circle cx="119.4" cy="165.8" r="1.15" fill="#fff4d8" opacity="0.65"/><circle cx="120.1" cy="165.1" r="0.63" fill="#fff4d8" opacity="0.71"/><circle cx="129.6" cy="165.5" r="0.85" fill="#ffe0c0" opacity="0.74"/><circle cx="112.9" cy="163.5" r="0.84" fill="#ffc860" opacity="0.68"/><circle cx="132.9" cy="165.1" r="0.79" fill="#ffe0c0" opacity="0.58"/><circle cx="112.2" cy="170.6" r="0.66" fill="#ffd870" opacity="0.51"/><circle cx="116.6" cy="165.7" r="1.12" fill="#ffc860" opacity="0.68"/><circle cx="131.9" cy="164.2" r="1.09" fill="#ffd870" opacity="0.64"/><circle cx="125.4" cy="163.5" r="1.12" fill="#fff4d8" opacity="0.48"/><circle cx="120.2" cy="168.8" r="1.21" fill="#ffffff" opacity="0.42"/><circle cx="114.3" cy="162.0" r="0.63" fill="#ffd870" opacity="0.59"/><circle cx="133.6" cy="166.5" r="0.83" fill="#ffd878" opacity="0.56"/><circle cx="123.2" cy="171.7" r="1.39" fill="#ffd878" opacity="0.41"/><circle cx="108.7" cy="168.7" r="1.20" fill="#ffd878" opacity="0.41"/><circle cx="132.7" cy="165.0" r="1.26" fill="#ffd878" opacity="0.51"/><circle cx="119.5" cy="172.1" r="1.21" fill="#ffd878" opacity="0.60"/><circle cx="122.8" cy="170.9" r="1.07" fill="#ffd878" opacity="0.51"/><circle cx="127.7" cy="163.1" r="0.88" fill="#ffd878" opacity="0.43"/><ellipse cx="131" cy="168" rx="3" ry="2" fill="#ffe49a" opacity="0.6" filter="url(#bl2)"/></g><path d="M108.7 167.2C108.9 166.6 108.9 165.8 109.3 165.2C109.6 164.5 110.0 163.6 110.9 163.3C111.9 163.0 114.1 163.6 115.2 163.4C116.3 163.3 116.5 162.6 117.6 162.3C118.7 161.9 120.4 161.3 121.7 161.2C123.1 161.1 124.5 161.4 125.7 161.6C126.9 161.8 127.8 162.2 128.8 162.5C129.7 162.8 130.5 163.0 131.5 163.4C132.5 163.7 134.1 164.1 134.8 164.6C135.4 165.1 135.4 165.9 135.3 166.4C135.3 167.0 134.6 167.4 134.4 167.9C134.1 168.4 134.5 169.1 133.8 169.5C133.2 169.8 131.5 169.9 130.3 170.2C129.2 170.5 128.3 170.8 127.1 171.1C125.9 171.3 124.5 171.5 123.2 171.7C121.9 171.9 120.8 172.2 119.4 172.4C118.1 172.6 116.4 173.0 115.1 172.9C113.9 172.9 112.8 172.3 112.1 172.0C111.4 171.7 111.1 171.4 110.7 171.1C110.3 170.8 110.2 170.5 109.7 170.1C109.3 169.7 108.4 169.3 108.2 168.8C108.1 168.3 108.5 167.8 108.7 167.2Z" fill="none" stroke="#8e0c10" stroke-width="1.1" stroke-opacity="0.32"/><clipPath id="cE2"><path d="M145.8 165.6C146.1 164.8 147.2 163.4 147.5 162.3C147.8 161.1 147.1 159.6 147.7 158.6C148.2 157.7 150.1 157.6 151.0 156.8C151.9 156.0 152.0 154.4 153.0 153.7C154.0 153.0 155.7 152.9 157.0 152.6C158.3 152.2 159.7 151.9 161.0 151.8C162.3 151.7 163.8 151.7 165.0 152.1C166.2 152.4 167.2 153.1 168.4 153.6C169.5 154.1 171.0 154.2 171.7 155.0C172.5 155.7 172.7 157.0 172.9 158.1C173.0 159.2 172.3 160.5 172.5 161.6C172.8 162.7 174.3 163.8 174.3 164.8C174.3 165.9 173.1 166.8 172.7 167.9C172.3 168.9 172.3 170.4 172.0 171.2C171.6 172.0 171.1 172.2 170.5 172.7C170.0 173.2 169.3 173.8 168.7 173.9C168.1 174.1 167.8 174.1 167.0 173.7C166.2 173.3 165.0 171.7 163.8 171.5C162.7 171.2 161.4 172.1 160.2 172.2C158.9 172.3 157.5 172.4 156.4 172.4C155.2 172.3 154.2 172.0 153.1 171.9C152.1 171.7 150.5 171.6 149.9 171.2C149.2 170.8 149.7 169.9 149.2 169.5C148.6 169.1 147.3 169.1 146.7 168.7C146.2 168.3 146.0 167.8 145.8 167.2C145.7 166.7 145.5 166.4 145.8 165.6Z"/></clipPath><path d="M145.8 165.6C146.1 164.8 147.2 163.4 147.5 162.3C147.8 161.1 147.1 159.6 147.7 158.6C148.2 157.7 150.1 157.6 151.0 156.8C151.9 156.0 152.0 154.4 153.0 153.7C154.0 153.0 155.7 152.9 157.0 152.6C158.3 152.2 159.7 151.9 161.0 151.8C162.3 151.7 163.8 151.7 165.0 152.1C166.2 152.4 167.2 153.1 168.4 153.6C169.5 154.1 171.0 154.2 171.7 155.0C172.5 155.7 172.7 157.0 172.9 158.1C173.0 159.2 172.3 160.5 172.5 161.6C172.8 162.7 174.3 163.8 174.3 164.8C174.3 165.9 173.1 166.8 172.7 167.9C172.3 168.9 172.3 170.4 172.0 171.2C171.6 172.0 171.1 172.2 170.5 172.7C170.0 173.2 169.3 173.8 168.7 173.9C168.1 174.1 167.8 174.1 167.0 173.7C166.2 173.3 165.0 171.7 163.8 171.5C162.7 171.2 161.4 172.1 160.2 172.2C158.9 172.3 157.5 172.4 156.4 172.4C155.2 172.3 154.2 172.0 153.1 171.9C152.1 171.7 150.5 171.6 149.9 171.2C149.2 170.8 149.7 169.9 149.2 169.5C148.6 169.1 147.3 169.1 146.7 168.7C146.2 168.3 146.0 167.8 145.8 167.2C145.7 166.7 145.5 166.4 145.8 165.6Z" fill="#dc2a18"/><g clip-path="url(#cE2)"><circle cx="151.2" cy="157.6" r="1.15" fill="#980a0a" opacity="0.32"/><circle cx="168.8" cy="158.4" r="1.03" fill="#980a0a" opacity="0.20"/><circle cx="162.3" cy="156.2" r="0.74" fill="#980a0a" opacity="0.29"/><circle cx="159.0" cy="159.8" r="0.94" fill="#980a0a" opacity="0.39"/><circle cx="162.1" cy="173.5" r="0.77" fill="#980a0a" opacity="0.29"/><circle cx="166.1" cy="173.6" r="1.02" fill="#980a0a" opacity="0.25"/><circle cx="165.3" cy="156.4" r="0.71" fill="#980a0a" opacity="0.18"/><circle cx="156.2" cy="171.5" r="1.58" fill="#980a0a" opacity="0.41"/><circle cx="170.6" cy="164.2" r="1.50" fill="#980a0a" opacity="0.29"/><circle cx="171.3" cy="170.4" r="0.89" fill="#980a0a" opacity="0.21"/><circle cx="169.4" cy="163.3" r="1.18" fill="#980a0a" opacity="0.34"/><circle cx="149.4" cy="157.6" r="0.71" fill="#980a0a" opacity="0.39"/><circle cx="150.6" cy="172.8" r="1.49" fill="#980a0a" opacity="0.23"/><circle cx="155.0" cy="164.0" r="0.91" fill="#980a0a" opacity="0.35"/><circle cx="166.9" cy="158.7" r="1.47" fill="#980a0a" opacity="0.35"/><circle cx="166.1" cy="154.5" r="1.04" fill="#980a0a" opacity="0.35"/><circle cx="170.6" cy="157.4" r="1.25" fill="#980a0a" opacity="0.28"/><circle cx="149.5" cy="156.7" r="0.73" fill="#980a0a" opacity="0.32"/><circle cx="148.0" cy="169.3" r="0.82" fill="#980a0a" opacity="0.29"/><circle cx="164.9" cy="172.9" r="1.37" fill="#980a0a" opacity="0.33"/><circle cx="164.2" cy="165.3" r="1.17" fill="#980a0a" opacity="0.17"/><circle cx="153.8" cy="157.6" r="1.12" fill="#980a0a" opacity="0.28"/><circle cx="157.6" cy="170.9" r="1.01" fill="#980a0a" opacity="0.30"/><circle cx="152.6" cy="159.8" r="1.54" fill="#980a0a" opacity="0.23"/><circle cx="146.7" cy="173.1" r="1.24" fill="#980a0a" opacity="0.26"/><circle cx="159.1" cy="171.7" r="1.59" fill="#980a0a" opacity="0.18"/><circle cx="170.8" cy="165.4" r="0.88" fill="#980a0a" opacity="0.41"/><circle cx="156.7" cy="173.0" r="0.90" fill="#980a0a" opacity="0.34"/><circle cx="173.7" cy="152.5" r="1.54" fill="#980a0a" opacity="0.31"/><circle cx="158.9" cy="168.8" r="0.83" fill="#980a0a" opacity="0.33"/><circle cx="165.1" cy="154.3" r="1.24" fill="#980a0a" opacity="0.20"/><circle cx="149.1" cy="157.0" r="1.08" fill="#ffc8c0" opacity="0.63"/><circle cx="150.6" cy="173.8" r="1.02" fill="#ffc8c0" opacity="0.74"/><circle cx="148.3" cy="156.1" r="1.01" fill="#ffd8d0" opacity="0.66"/><circle cx="165.8" cy="171.4" r="1.06" fill="#ffe8b0" opacity="0.63"/><circle cx="147.6" cy="163.9" r="0.64" fill="#ffffff" opacity="0.68"/><circle cx="170.9" cy="168.8" r="1.21" fill="#ffffff" opacity="0.58"/><circle cx="168.7" cy="162.1" r="1.03" fill="#ffc8c0" opacity="0.67"/><circle cx="168.4" cy="166.0" r="1.04" fill="#ffe8e0" opacity="0.43"/><circle cx="157.7" cy="165.6" r="1.22" fill="#ffe8e0" opacity="0.56"/><circle cx="149.6" cy="160.9" r="1.08" fill="#ffc8c0" opacity="0.65"/><circle cx="147.3" cy="157.8" r="0.80" fill="#ffe8b0" opacity="0.53"/><circle cx="165.5" cy="159.3" r="1.23" fill="#ffe8b0" opacity="0.69"/><circle cx="172.2" cy="170.7" r="0.98" fill="#ffc8c0" opacity="0.73"/><circle cx="146.1" cy="162.4" r="1.29" fill="#ffd8d0" opacity="0.60"/><circle cx="150.8" cy="152.8" r="1.23" fill="#ffc8c0" opacity="0.41"/><circle cx="145.9" cy="152.8" r="1.22" fill="#ffffff" opacity="0.80"/><circle cx="150.8" cy="160.7" r="1.24" fill="#ffe8e0" opacity="0.60"/><circle cx="159.2" cy="171.6" r="0.82" fill="#ffe8e0" opacity="0.78"/><ellipse cx="168" cy="170" rx="3.5" ry="3" fill="#ffe49a" opacity="0.9" filter="url(#bl2)"/><ellipse cx="156.3" cy="165.5" rx="3" ry="3" fill="#1e0404" opacity="0.63" filter="url(#bl2)"/></g><path d="M145.8 165.6C146.1 164.8 147.2 163.4 147.5 162.3C147.8 161.1 147.1 159.6 147.7 158.6C148.2 157.7 150.1 157.6 151.0 156.8C151.9 156.0 152.0 154.4 153.0 153.7C154.0 153.0 155.7 152.9 157.0 152.6C158.3 152.2 159.7 151.9 161.0 151.8C162.3 151.7 163.8 151.7 165.0 152.1C166.2 152.4 167.2 153.1 168.4 153.6C169.5 154.1 171.0 154.2 171.7 155.0C172.5 155.7 172.7 157.0 172.9 158.1C173.0 159.2 172.3 160.5 172.5 161.6C172.8 162.7 174.3 163.8 174.3 164.8C174.3 165.9 173.1 166.8 172.7 167.9C172.3 168.9 172.3 170.4 172.0 171.2C171.6 172.0 171.1 172.2 170.5 172.7C170.0 173.2 169.3 173.8 168.7 173.9C168.1 174.1 167.8 174.1 167.0 173.7C166.2 173.3 165.0 171.7 163.8 171.5C162.7 171.2 161.4 172.1 160.2 172.2C158.9 172.3 157.5 172.4 156.4 172.4C155.2 172.3 154.2 172.0 153.1 171.9C152.1 171.7 150.5 171.6 149.9 171.2C149.2 170.8 149.7 169.9 149.2 169.5C148.6 169.1 147.3 169.1 146.7 168.7C146.2 168.3 146.0 167.8 145.8 167.2C145.7 166.7 145.5 166.4 145.8 165.6Z" fill="none" stroke="#8e0c10" stroke-width="1.1" stroke-opacity="0.32"/><clipPath id="cE3"><path d="M192.8 158.0C192.9 157.0 193.4 155.7 194.0 154.9C194.7 154.1 195.7 153.7 196.8 153.2C197.9 152.7 199.3 152.2 200.7 152.0C202.0 151.8 203.5 151.8 204.6 152.0C205.8 152.2 206.8 152.6 207.8 153.1C208.7 153.7 209.8 154.3 210.3 155.3C210.8 156.3 210.3 158.1 210.8 159.3C211.3 160.5 212.9 161.5 213.4 162.5C213.9 163.5 214.0 164.6 213.8 165.5C213.5 166.4 212.8 167.1 212.0 167.7C211.1 168.3 209.8 168.5 208.8 169.1C207.9 169.6 207.3 170.9 206.3 171.1C205.2 171.4 203.6 170.4 202.3 170.6C201.0 170.7 199.3 172.2 198.4 172.1C197.5 171.9 197.6 170.2 196.8 169.7C196.1 169.3 194.7 169.9 193.9 169.4C193.2 168.9 192.5 167.8 192.3 166.8C192.2 165.8 192.6 164.3 192.8 163.3C193.1 162.3 193.7 161.7 193.7 160.8C193.7 159.9 192.8 159.0 192.8 158.0Z"/></clipPath><path d="M192.8 158.0C192.9 157.0 193.4 155.7 194.0 154.9C194.7 154.1 195.7 153.7 196.8 153.2C197.9 152.7 199.3 152.2 200.7 152.0C202.0 151.8 203.5 151.8 204.6 152.0C205.8 152.2 206.8 152.6 207.8 153.1C208.7 153.7 209.8 154.3 210.3 155.3C210.8 156.3 210.3 158.1 210.8 159.3C211.3 160.5 212.9 161.5 213.4 162.5C213.9 163.5 214.0 164.6 213.8 165.5C213.5 166.4 212.8 167.1 212.0 167.7C211.1 168.3 209.8 168.5 208.8 169.1C207.9 169.6 207.3 170.9 206.3 171.1C205.2 171.4 203.6 170.4 202.3 170.6C201.0 170.7 199.3 172.2 198.4 172.1C197.5 171.9 197.6 170.2 196.8 169.7C196.1 169.3 194.7 169.9 193.9 169.4C193.2 168.9 192.5 167.8 192.3 166.8C192.2 165.8 192.6 164.3 192.8 163.3C193.1 162.3 193.7 161.7 193.7 160.8C193.7 159.9 192.8 159.0 192.8 158.0Z" fill="#da2a18"/><g clip-path="url(#cE3)"><circle cx="201.1" cy="165.2" r="1.55" fill="#980a0a" opacity="0.37"/><circle cx="198.0" cy="153.1" r="0.76" fill="#980a0a" opacity="0.28"/><circle cx="194.3" cy="156.7" r="1.41" fill="#980a0a" opacity="0.39"/><circle cx="199.1" cy="164.8" r="0.76" fill="#980a0a" opacity="0.23"/><circle cx="202.4" cy="153.5" r="1.56" fill="#980a0a" opacity="0.15"/><circle cx="204.4" cy="165.9" r="1.35" fill="#980a0a" opacity="0.40"/><circle cx="209.1" cy="158.6" r="0.81" fill="#980a0a" opacity="0.16"/><circle cx="197.3" cy="157.6" r="1.60" fill="#980a0a" opacity="0.34"/><circle cx="204.1" cy="169.7" r="1.23" fill="#980a0a" opacity="0.41"/><circle cx="208.4" cy="161.6" r="0.77" fill="#980a0a" opacity="0.40"/><circle cx="211.8" cy="158.0" r="1.29" fill="#980a0a" opacity="0.33"/><circle cx="200.1" cy="163.8" r="1.20" fill="#980a0a" opacity="0.36"/><circle cx="201.3" cy="160.4" r="0.72" fill="#980a0a" opacity="0.18"/><circle cx="210.0" cy="158.4" r="0.96" fill="#980a0a" opacity="0.37"/><circle cx="198.3" cy="166.5" r="1.07" fill="#980a0a" opacity="0.24"/><circle cx="210.6" cy="169.8" r="1.03" fill="#980a0a" opacity="0.36"/><circle cx="202.8" cy="170.6" r="0.90" fill="#980a0a" opacity="0.21"/><circle cx="211.4" cy="168.0" r="0.71" fill="#980a0a" opacity="0.42"/><circle cx="206.7" cy="157.0" r="0.73" fill="#980a0a" opacity="0.34"/><circle cx="208.7" cy="164.1" r="0.53" fill="#ffc8c0" opacity="0.51"/><circle cx="205.8" cy="157.4" r="1.28" fill="#ffe8e0" opacity="0.72"/><circle cx="204.1" cy="170.7" r="0.80" fill="#ffe8e0" opacity="0.68"/><circle cx="194.5" cy="167.7" r="0.64" fill="#ffd8d0" opacity="0.66"/><circle cx="195.3" cy="170.1" r="0.68" fill="#ffc8c0" opacity="0.73"/><circle cx="209.6" cy="160.9" r="1.03" fill="#ffe8b0" opacity="0.75"/><circle cx="192.7" cy="157.1" r="0.94" fill="#ffc8c0" opacity="0.73"/><circle cx="200.1" cy="171.2" r="0.96" fill="#ffe8b0" opacity="0.52"/><circle cx="200.6" cy="165.4" r="0.53" fill="#ffd8d0" opacity="0.73"/><circle cx="207.1" cy="170.1" r="0.58" fill="#ffe8e0" opacity="0.73"/><circle cx="200.0" cy="170.7" r="1.16" fill="#ffd8d0" opacity="0.65"/><ellipse cx="198" cy="167" rx="3" ry="2" fill="#ffe49a" opacity="0.5" filter="url(#bl2)"/><ellipse cx="204.6" cy="161" rx="3.5" ry="3" fill="#1e0404" opacity="0.9974999999999999" filter="url(#bl2)"/></g><path d="M192.8 158.0C192.9 157.0 193.4 155.7 194.0 154.9C194.7 154.1 195.7 153.7 196.8 153.2C197.9 152.7 199.3 152.2 200.7 152.0C202.0 151.8 203.5 151.8 204.6 152.0C205.8 152.2 206.8 152.6 207.8 153.1C208.7 153.7 209.8 154.3 210.3 155.3C210.8 156.3 210.3 158.1 210.8 159.3C211.3 160.5 212.9 161.5 213.4 162.5C213.9 163.5 214.0 164.6 213.8 165.5C213.5 166.4 212.8 167.1 212.0 167.7C211.1 168.3 209.8 168.5 208.8 169.1C207.9 169.6 207.3 170.9 206.3 171.1C205.2 171.4 203.6 170.4 202.3 170.6C201.0 170.7 199.3 172.2 198.4 172.1C197.5 171.9 197.6 170.2 196.8 169.7C196.1 169.3 194.7 169.9 193.9 169.4C193.2 168.9 192.5 167.8 192.3 166.8C192.2 165.8 192.6 164.3 192.8 163.3C193.1 162.3 193.7 161.7 193.7 160.8C193.7 159.9 192.8 159.0 192.8 158.0Z" fill="none" stroke="#8e0c10" stroke-width="1.1" stroke-opacity="0.32"/><clipPath id="cE4"><path d="M223.7 157.9C223.4 157.0 223.8 156.2 224.2 155.4C224.7 154.7 225.4 153.7 226.3 153.4C227.2 153.0 228.6 153.4 229.6 153.4C230.6 153.3 231.6 152.8 232.4 153.0C233.2 153.1 233.9 153.9 234.6 154.3C235.4 154.7 236.1 155.5 236.9 155.3C237.7 155.2 238.8 153.9 239.5 153.4C240.3 153.0 240.7 152.6 241.4 152.7C242.1 152.7 242.8 153.4 243.7 153.7C244.6 153.9 245.9 153.7 246.7 154.1C247.6 154.5 248.5 155.3 248.8 156.1C249.0 156.8 248.5 157.8 248.1 158.7C247.7 159.7 246.8 160.7 246.2 161.7C245.6 162.7 245.1 163.7 244.5 164.8C244.0 165.8 243.5 166.9 242.7 167.7C242.0 168.5 241.0 169.1 240.0 169.5C239.0 169.9 238.0 170.3 236.9 170.2C235.9 170.0 234.9 169.2 233.8 168.6C232.8 168.1 231.6 167.6 230.6 167.0C229.5 166.4 228.4 165.7 227.7 164.8C227.0 163.8 226.9 162.4 226.2 161.2C225.5 160.1 224.0 158.9 223.7 157.9Z"/></clipPath><path d="M223.7 157.9C223.4 157.0 223.8 156.2 224.2 155.4C224.7 154.7 225.4 153.7 226.3 153.4C227.2 153.0 228.6 153.4 229.6 153.4C230.6 153.3 231.6 152.8 232.4 153.0C233.2 153.1 233.9 153.9 234.6 154.3C235.4 154.7 236.1 155.5 236.9 155.3C237.7 155.2 238.8 153.9 239.5 153.4C240.3 153.0 240.7 152.6 241.4 152.7C242.1 152.7 242.8 153.4 243.7 153.7C244.6 153.9 245.9 153.7 246.7 154.1C247.6 154.5 248.5 155.3 248.8 156.1C249.0 156.8 248.5 157.8 248.1 158.7C247.7 159.7 246.8 160.7 246.2 161.7C245.6 162.7 245.1 163.7 244.5 164.8C244.0 165.8 243.5 166.9 242.7 167.7C242.0 168.5 241.0 169.1 240.0 169.5C239.0 169.9 238.0 170.3 236.9 170.2C235.9 170.0 234.9 169.2 233.8 168.6C232.8 168.1 231.6 167.6 230.6 167.0C229.5 166.4 228.4 165.7 227.7 164.8C227.0 163.8 226.9 162.4 226.2 161.2C225.5 160.1 224.0 158.9 223.7 157.9Z" fill="#e03c2a"/><g clip-path="url(#cE4)"><circle cx="247.8" cy="163.7" r="1.41" fill="#980a0a" opacity="0.24"/><circle cx="223.6" cy="157.0" r="0.95" fill="#980a0a" opacity="0.34"/><circle cx="240.0" cy="162.1" r="1.22" fill="#980a0a" opacity="0.21"/><circle cx="230.6" cy="153.1" r="1.37" fill="#980a0a" opacity="0.41"/><circle cx="246.2" cy="163.4" r="1.31" fill="#980a0a" opacity="0.25"/><circle cx="247.9" cy="153.2" r="1.38" fill="#980a0a" opacity="0.33"/><circle cx="247.5" cy="165.5" r="0.84" fill="#980a0a" opacity="0.23"/><circle cx="241.5" cy="158.5" r="1.56" fill="#980a0a" opacity="0.30"/><circle cx="240.0" cy="154.6" r="1.30" fill="#980a0a" opacity="0.24"/><circle cx="228.1" cy="158.6" r="0.91" fill="#980a0a" opacity="0.36"/><circle cx="246.3" cy="158.6" r="1.09" fill="#980a0a" opacity="0.29"/><circle cx="237.2" cy="154.7" r="0.87" fill="#980a0a" opacity="0.29"/><circle cx="233.3" cy="155.5" r="0.88" fill="#980a0a" opacity="0.28"/><circle cx="244.2" cy="154.4" r="0.99" fill="#980a0a" opacity="0.22"/><circle cx="242.1" cy="168.1" r="0.93" fill="#980a0a" opacity="0.25"/><circle cx="235.7" cy="166.1" r="1.42" fill="#980a0a" opacity="0.17"/><circle cx="230.4" cy="167.7" r="1.34" fill="#980a0a" opacity="0.27"/><circle cx="225.4" cy="159.9" r="1.50" fill="#980a0a" opacity="0.36"/><circle cx="237.3" cy="163.5" r="1.42" fill="#980a0a" opacity="0.18"/><circle cx="236.1" cy="164.7" r="0.83" fill="#980a0a" opacity="0.41"/><circle cx="226.4" cy="158.1" r="1.34" fill="#980a0a" opacity="0.23"/><circle cx="226.5" cy="160.3" r="0.80" fill="#ffd870" opacity="0.73"/><circle cx="236.2" cy="157.1" r="1.03" fill="#ffe0c0" opacity="0.44"/><circle cx="227.1" cy="168.9" r="0.63" fill="#ffc860" opacity="0.46"/><circle cx="233.0" cy="157.3" r="1.25" fill="#ffc860" opacity="0.79"/><circle cx="240.0" cy="160.4" r="1.23" fill="#ffc860" opacity="0.54"/><circle cx="238.4" cy="161.3" r="0.51" fill="#ffd870" opacity="0.63"/><circle cx="247.6" cy="165.6" r="0.96" fill="#fff4d8" opacity="0.59"/><circle cx="228.2" cy="161.8" r="0.79" fill="#ffe0c0" opacity="0.60"/><circle cx="233.3" cy="167.2" r="0.97" fill="#ffd870" opacity="0.62"/><circle cx="229.1" cy="160.4" r="0.98" fill="#ffd870" opacity="0.46"/><circle cx="238.7" cy="163.7" r="1.13" fill="#ffe0c0" opacity="0.53"/><circle cx="244.9" cy="155.0" r="1.10" fill="#ffe0c0" opacity="0.60"/><circle cx="229.0" cy="166.8" r="0.77" fill="#ffc860" opacity="0.60"/><circle cx="230.7" cy="165.1" r="0.94" fill="#ffe8a0" opacity="0.45"/><circle cx="245.1" cy="166.2" r="0.74" fill="#fff4d8" opacity="0.59"/><circle cx="237.0" cy="165.0" r="1.20" fill="#ffd870" opacity="0.79"/><circle cx="238.6" cy="159.5" r="1.14" fill="#ffd870" opacity="0.73"/><circle cx="237.4" cy="162.3" r="0.53" fill="#ffd870" opacity="0.42"/><circle cx="228.1" cy="161.9" r="1.24" fill="#ffe0c0" opacity="0.47"/><circle cx="237.1" cy="166.1" r="0.82" fill="#ffe0c0" opacity="0.67"/><circle cx="225.7" cy="159.9" r="0.61" fill="#ffffff" opacity="0.61"/><circle cx="247.8" cy="158.7" r="1.29" fill="#ffd878" opacity="0.58"/><circle cx="228.2" cy="154.5" r="1.07" fill="#ffd878" opacity="0.40"/><circle cx="245.4" cy="161.5" r="1.05" fill="#ffd878" opacity="0.61"/><circle cx="235.1" cy="155.4" r="0.92" fill="#ffd878" opacity="0.48"/><circle cx="240.2" cy="154.3" r="0.81" fill="#ffd878" opacity="0.63"/><circle cx="229.9" cy="153.6" r="1.19" fill="#ffd878" opacity="0.54"/><ellipse cx="245" cy="157" rx="2.5" ry="2.5" fill="#ffe49a" opacity="0.6" filter="url(#bl2)"/><ellipse cx="229" cy="158" rx="4" ry="3.5" fill="#fff2ee" opacity="0.8" filter="url(#bl2)"/><ellipse cx="236" cy="163" rx="3" ry="3" fill="#fff2ee" opacity="0.6" filter="url(#bl2)"/></g><path d="M223.7 157.9C223.4 157.0 223.8 156.2 224.2 155.4C224.7 154.7 225.4 153.7 226.3 153.4C227.2 153.0 228.6 153.4 229.6 153.4C230.6 153.3 231.6 152.8 232.4 153.0C233.2 153.1 233.9 153.9 234.6 154.3C235.4 154.7 236.1 155.5 236.9 155.3C237.7 155.2 238.8 153.9 239.5 153.4C240.3 153.0 240.7 152.6 241.4 152.7C242.1 152.7 242.8 153.4 243.7 153.7C244.6 153.9 245.9 153.7 246.7 154.1C247.6 154.5 248.5 155.3 248.8 156.1C249.0 156.8 248.5 157.8 248.1 158.7C247.7 159.7 246.8 160.7 246.2 161.7C245.6 162.7 245.1 163.7 244.5 164.8C244.0 165.8 243.5 166.9 242.7 167.7C242.0 168.5 241.0 169.1 240.0 169.5C239.0 169.9 238.0 170.3 236.9 170.2C235.9 170.0 234.9 169.2 233.8 168.6C232.8 168.1 231.6 167.6 230.6 167.0C229.5 166.4 228.4 165.7 227.7 164.8C227.0 163.8 226.9 162.4 226.2 161.2C225.5 160.1 224.0 158.9 223.7 157.9Z" fill="none" stroke="#8e0c10" stroke-width="1.1" stroke-opacity="0.32"/><clipPath id="cF1"><path d="M110.4 192.5C111.0 191.9 112.9 191.6 113.5 191.2C114.2 190.7 113.7 190.1 114.2 189.6C114.7 189.0 115.8 188.4 116.7 187.9C117.5 187.4 118.5 187.1 119.4 186.5C120.4 185.9 121.5 185.0 122.4 184.4C123.4 183.8 124.4 183.1 125.4 182.8C126.4 182.5 127.6 182.6 128.5 182.8C129.5 183.0 130.7 183.1 131.1 183.9C131.6 184.6 130.9 186.3 131.2 187.3C131.6 188.2 133.1 188.5 133.3 189.5C133.5 190.5 132.5 192.0 132.5 193.3C132.4 194.6 133.2 196.1 133.1 197.1C132.9 198.2 132.4 198.8 131.8 199.5C131.2 200.2 130.6 201.2 129.5 201.2C128.5 201.1 126.7 199.6 125.6 199.4C124.4 199.2 123.5 200.2 122.5 199.9C121.5 199.7 120.9 198.3 119.8 198.0C118.7 197.7 117.2 198.3 116.0 198.2C114.9 198.2 113.7 198.1 113.0 197.8C112.3 197.5 112.1 196.9 111.7 196.4C111.3 195.9 110.6 195.3 110.3 194.6C110.1 194.0 109.9 193.1 110.4 192.5Z"/></clipPath><path d="M110.4 192.5C111.0 191.9 112.9 191.6 113.5 191.2C114.2 190.7 113.7 190.1 114.2 189.6C114.7 189.0 115.8 188.4 116.7 187.9C117.5 187.4 118.5 187.1 119.4 186.5C120.4 185.9 121.5 185.0 122.4 184.4C123.4 183.8 124.4 183.1 125.4 182.8C126.4 182.5 127.6 182.6 128.5 182.8C129.5 183.0 130.7 183.1 131.1 183.9C131.6 184.6 130.9 186.3 131.2 187.3C131.6 188.2 133.1 188.5 133.3 189.5C133.5 190.5 132.5 192.0 132.5 193.3C132.4 194.6 133.2 196.1 133.1 197.1C132.9 198.2 132.4 198.8 131.8 199.5C131.2 200.2 130.6 201.2 129.5 201.2C128.5 201.1 126.7 199.6 125.6 199.4C124.4 199.2 123.5 200.2 122.5 199.9C121.5 199.7 120.9 198.3 119.8 198.0C118.7 197.7 117.2 198.3 116.0 198.2C114.9 198.2 113.7 198.1 113.0 197.8C112.3 197.5 112.1 196.9 111.7 196.4C111.3 195.9 110.6 195.3 110.3 194.6C110.1 194.0 109.9 193.1 110.4 192.5Z" fill="#e85a22"/><g clip-path="url(#cF1)"><circle cx="127.1" cy="184.3" r="1.30" fill="#980a0a" opacity="0.34"/><circle cx="125.6" cy="191.1" r="0.83" fill="#980a0a" opacity="0.36"/><circle cx="129.0" cy="189.2" r="1.48" fill="#980a0a" opacity="0.41"/><circle cx="115.9" cy="186.2" r="1.17" fill="#980a0a" opacity="0.36"/><circle cx="121.1" cy="199.4" r="0.95" fill="#980a0a" opacity="0.41"/><circle cx="126.5" cy="198.4" r="1.48" fill="#980a0a" opacity="0.38"/><circle cx="125.7" cy="188.8" r="0.92" fill="#980a0a" opacity="0.40"/><circle cx="119.6" cy="185.9" r="0.75" fill="#980a0a" opacity="0.36"/><circle cx="118.1" cy="192.6" r="1.23" fill="#980a0a" opacity="0.25"/><circle cx="128.0" cy="199.2" r="1.16" fill="#980a0a" opacity="0.29"/><circle cx="113.1" cy="186.8" r="0.89" fill="#980a0a" opacity="0.30"/><circle cx="121.5" cy="183.0" r="0.73" fill="#980a0a" opacity="0.27"/><circle cx="127.8" cy="197.7" r="1.54" fill="#980a0a" opacity="0.21"/><circle cx="130.0" cy="194.9" r="1.26" fill="#980a0a" opacity="0.29"/><circle cx="131.8" cy="193.9" r="1.45" fill="#980a0a" opacity="0.26"/><circle cx="111.8" cy="188.7" r="0.82" fill="#980a0a" opacity="0.41"/><circle cx="126.0" cy="185.2" r="1.18" fill="#980a0a" opacity="0.39"/><circle cx="132.1" cy="190.6" r="0.90" fill="#980a0a" opacity="0.38"/><circle cx="127.6" cy="193.7" r="1.49" fill="#980a0a" opacity="0.22"/><circle cx="126.2" cy="199.3" r="0.78" fill="#980a0a" opacity="0.32"/><circle cx="123.4" cy="193.1" r="0.52" fill="#ffffff" opacity="0.52"/><circle cx="118.1" cy="194.3" r="1.04" fill="#fff4d8" opacity="0.74"/><circle cx="118.2" cy="183.6" r="1.14" fill="#ffe0c0" opacity="0.79"/><circle cx="123.0" cy="190.3" r="0.83" fill="#ffe0c0" opacity="0.65"/><circle cx="119.3" cy="183.8" r="0.99" fill="#fff4d8" opacity="0.68"/><circle cx="124.1" cy="188.9" r="0.85" fill="#ffd870" opacity="0.76"/><circle cx="119.3" cy="189.6" r="0.98" fill="#ffe8a0" opacity="0.51"/><circle cx="122.5" cy="184.6" r="1.09" fill="#ffe8a0" opacity="0.51"/><circle cx="115.0" cy="199.6" r="0.80" fill="#ffc860" opacity="0.69"/><circle cx="126.2" cy="183.2" r="1.18" fill="#ffd870" opacity="0.55"/><circle cx="114.4" cy="188.5" r="0.86" fill="#fff4d8" opacity="0.75"/><circle cx="124.9" cy="193.1" r="1.10" fill="#ffe8a0" opacity="0.43"/><circle cx="116.2" cy="200.2" r="1.12" fill="#ffe0c0" opacity="0.44"/><circle cx="116.4" cy="190.3" r="0.83" fill="#ffe8a0" opacity="0.63"/><circle cx="124.7" cy="190.2" r="0.90" fill="#ffe0c0" opacity="0.46"/><circle cx="127.4" cy="198.9" r="0.57" fill="#fff4d8" opacity="0.62"/><circle cx="121.2" cy="193.2" r="1.01" fill="#ffe0c0" opacity="0.73"/><circle cx="132.7" cy="192.4" r="1.15" fill="#fff4d8" opacity="0.55"/><circle cx="130.3" cy="189.9" r="0.80" fill="#ffd870" opacity="0.41"/><circle cx="128.4" cy="182.9" r="0.85" fill="#ffe0c0" opacity="0.61"/><circle cx="117.8" cy="192.3" r="1.06" fill="#ffe8a0" opacity="0.44"/><circle cx="131.8" cy="183.6" r="1.23" fill="#ffd870" opacity="0.80"/><circle cx="115.9" cy="195.4" r="0.75" fill="#ffc860" opacity="0.49"/><circle cx="113.7" cy="188.3" r="0.83" fill="#fff4d8" opacity="0.63"/><circle cx="117.1" cy="189.4" r="0.64" fill="#ffe0c0" opacity="0.48"/><circle cx="121.9" cy="189.4" r="0.65" fill="#ffc860" opacity="0.76"/><circle cx="124.1" cy="189.9" r="0.53" fill="#ffe8a0" opacity="0.43"/><circle cx="113.0" cy="187.1" r="1.08" fill="#ffc860" opacity="0.42"/><circle cx="120.6" cy="189.2" r="1.29" fill="#ffe0c0" opacity="0.42"/><circle cx="119.6" cy="191.3" r="1.17" fill="#ffd870" opacity="0.60"/><circle cx="132.3" cy="185.1" r="0.63" fill="#ffffff" opacity="0.75"/><circle cx="112.8" cy="193.2" r="1.30" fill="#ffffff" opacity="0.44"/><circle cx="129.2" cy="194.6" r="0.80" fill="#ffd870" opacity="0.56"/><circle cx="125.4" cy="193.8" r="0.80" fill="#ffffff" opacity="0.52"/><circle cx="118.8" cy="193.9" r="0.64" fill="#ffc860" opacity="0.53"/><circle cx="111.1" cy="193.3" r="0.71" fill="#ffffff" opacity="0.42"/><circle cx="121.2" cy="198.2" r="0.80" fill="#ffd870" opacity="0.74"/><circle cx="122.5" cy="199.6" r="0.90" fill="#ffd878" opacity="0.64"/><circle cx="130.7" cy="193.1" r="1.48" fill="#ffd878" opacity="0.62"/><circle cx="122.4" cy="185.1" r="1.00" fill="#ffd878" opacity="0.49"/><circle cx="122.5" cy="199.8" r="1.09" fill="#ffd878" opacity="0.60"/><circle cx="125.3" cy="198.8" r="1.16" fill="#ffd878" opacity="0.58"/><circle cx="128.5" cy="199.9" r="0.93" fill="#ffd878" opacity="0.66"/><circle cx="120.4" cy="196.7" r="1.36" fill="#ffd878" opacity="0.42"/><circle cx="125.4" cy="199.1" r="0.97" fill="#ffd878" opacity="0.66"/><circle cx="128.4" cy="183.0" r="0.87" fill="#ffd878" opacity="0.46"/><circle cx="130.5" cy="193.1" r="1.11" fill="#ffd878" opacity="0.62"/><circle cx="129.7" cy="197.9" r="1.06" fill="#ffd878" opacity="0.42"/><ellipse cx="125" cy="188" rx="4" ry="3" fill="#ffe49a" opacity="0.6" filter="url(#bl2)"/><ellipse cx="113" cy="194" rx="3" ry="2.5" fill="#ffe49a" opacity="0.6" filter="url(#bl2)"/><ellipse cx="117" cy="193" rx="4" ry="3" fill="#fff2ee" opacity="0.5" filter="url(#bl2)"/></g><path d="M110.4 192.5C111.0 191.9 112.9 191.6 113.5 191.2C114.2 190.7 113.7 190.1 114.2 189.6C114.7 189.0 115.8 188.4 116.7 187.9C117.5 187.4 118.5 187.1 119.4 186.5C120.4 185.9 121.5 185.0 122.4 184.4C123.4 183.8 124.4 183.1 125.4 182.8C126.4 182.5 127.6 182.6 128.5 182.8C129.5 183.0 130.7 183.1 131.1 183.9C131.6 184.6 130.9 186.3 131.2 187.3C131.6 188.2 133.1 188.5 133.3 189.5C133.5 190.5 132.5 192.0 132.5 193.3C132.4 194.6 133.2 196.1 133.1 197.1C132.9 198.2 132.4 198.8 131.8 199.5C131.2 200.2 130.6 201.2 129.5 201.2C128.5 201.1 126.7 199.6 125.6 199.4C124.4 199.2 123.5 200.2 122.5 199.9C121.5 199.7 120.9 198.3 119.8 198.0C118.7 197.7 117.2 198.3 116.0 198.2C114.9 198.2 113.7 198.1 113.0 197.8C112.3 197.5 112.1 196.9 111.7 196.4C111.3 195.9 110.6 195.3 110.3 194.6C110.1 194.0 109.9 193.1 110.4 192.5Z" fill="none" stroke="#8e0c10" stroke-width="1.1" stroke-opacity="0.32"/><clipPath id="cF2"><path d="M146.5 194.0C146.7 193.1 147.6 191.9 148.0 190.9C148.5 189.9 148.6 188.6 149.2 187.7C149.8 186.8 150.6 186.1 151.5 185.5C152.5 185.0 153.6 185.0 154.8 184.7C155.9 184.3 157.1 183.5 158.3 183.3C159.4 183.2 160.6 183.6 161.7 183.7C162.8 183.8 164.1 183.4 164.9 183.7C165.8 184.1 166.1 185.0 166.9 185.7C167.6 186.5 168.8 187.2 169.4 188.2C169.9 189.2 170.3 190.6 170.1 191.7C169.9 192.9 168.4 194.0 168.2 195.2C168.0 196.3 169.4 197.9 169.0 198.8C168.5 199.8 166.6 200.2 165.6 201.1C164.7 202.0 164.4 203.9 163.4 204.3C162.4 204.8 160.8 203.8 159.6 204.0C158.4 204.2 157.4 205.2 156.3 205.3C155.2 205.4 154.0 205.1 153.0 204.6C152.0 204.1 151.0 203.1 150.3 202.4C149.7 201.7 149.5 201.1 149.1 200.4C148.7 199.8 148.2 199.2 147.9 198.5C147.6 197.9 147.5 197.1 147.3 196.3C147.1 195.6 146.4 194.9 146.5 194.0Z"/></clipPath><path d="M146.5 194.0C146.7 193.1 147.6 191.9 148.0 190.9C148.5 189.9 148.6 188.6 149.2 187.7C149.8 186.8 150.6 186.1 151.5 185.5C152.5 185.0 153.6 185.0 154.8 184.7C155.9 184.3 157.1 183.5 158.3 183.3C159.4 183.2 160.6 183.6 161.7 183.7C162.8 183.8 164.1 183.4 164.9 183.7C165.8 184.1 166.1 185.0 166.9 185.7C167.6 186.5 168.8 187.2 169.4 188.2C169.9 189.2 170.3 190.6 170.1 191.7C169.9 192.9 168.4 194.0 168.2 195.2C168.0 196.3 169.4 197.9 169.0 198.8C168.5 199.8 166.6 200.2 165.6 201.1C164.7 202.0 164.4 203.9 163.4 204.3C162.4 204.8 160.8 203.8 159.6 204.0C158.4 204.2 157.4 205.2 156.3 205.3C155.2 205.4 154.0 205.1 153.0 204.6C152.0 204.1 151.0 203.1 150.3 202.4C149.7 201.7 149.5 201.1 149.1 200.4C148.7 199.8 148.2 199.2 147.9 198.5C147.6 197.9 147.5 197.1 147.3 196.3C147.1 195.6 146.4 194.9 146.5 194.0Z" fill="#e03420"/><g clip-path="url(#cF2)"><circle cx="164.6" cy="189.3" r="1.18" fill="#980a0a" opacity="0.17"/><circle cx="155.1" cy="185.7" r="0.99" fill="#980a0a" opacity="0.34"/><circle cx="165.6" cy="200.5" r="1.22" fill="#980a0a" opacity="0.32"/><circle cx="151.2" cy="194.5" r="1.24" fill="#980a0a" opacity="0.18"/><circle cx="154.0" cy="202.8" r="1.57" fill="#980a0a" opacity="0.38"/><circle cx="165.0" cy="200.2" r="1.51" fill="#980a0a" opacity="0.25"/><circle cx="151.6" cy="189.1" r="0.91" fill="#980a0a" opacity="0.21"/><circle cx="151.1" cy="189.8" r="0.74" fill="#980a0a" opacity="0.25"/><circle cx="156.8" cy="187.7" r="1.08" fill="#980a0a" opacity="0.35"/><circle cx="162.9" cy="194.8" r="1.05" fill="#980a0a" opacity="0.39"/><circle cx="159.6" cy="205.4" r="1.20" fill="#980a0a" opacity="0.26"/><circle cx="159.0" cy="194.6" r="1.06" fill="#980a0a" opacity="0.33"/><circle cx="163.1" cy="197.5" r="1.20" fill="#980a0a" opacity="0.17"/><circle cx="157.4" cy="193.2" r="1.29" fill="#980a0a" opacity="0.17"/><circle cx="151.5" cy="193.1" r="0.95" fill="#980a0a" opacity="0.22"/><circle cx="160.5" cy="198.0" r="1.28" fill="#980a0a" opacity="0.22"/><circle cx="155.4" cy="190.6" r="1.25" fill="#980a0a" opacity="0.23"/><circle cx="154.5" cy="193.0" r="0.78" fill="#980a0a" opacity="0.18"/><circle cx="149.2" cy="205.6" r="1.49" fill="#980a0a" opacity="0.16"/><circle cx="150.3" cy="201.9" r="1.24" fill="#980a0a" opacity="0.36"/><circle cx="165.6" cy="203.2" r="1.04" fill="#980a0a" opacity="0.41"/><circle cx="149.6" cy="185.3" r="0.82" fill="#980a0a" opacity="0.19"/><circle cx="148.2" cy="193.7" r="1.25" fill="#980a0a" opacity="0.35"/><circle cx="159.5" cy="191.8" r="0.87" fill="#980a0a" opacity="0.40"/><circle cx="149.3" cy="184.1" r="0.91" fill="#980a0a" opacity="0.38"/><circle cx="153.5" cy="184.1" r="1.12" fill="#ffd870" opacity="0.80"/><circle cx="150.8" cy="190.8" r="1.01" fill="#fff4d8" opacity="0.51"/><circle cx="151.1" cy="191.4" r="1.25" fill="#ffc860" opacity="0.41"/><circle cx="152.0" cy="183.9" r="0.66" fill="#ffc860" opacity="0.47"/><circle cx="165.7" cy="201.5" r="0.70" fill="#ffe8a0" opacity="0.40"/><circle cx="165.0" cy="183.8" r="0.81" fill="#fff4d8" opacity="0.63"/><circle cx="167.4" cy="187.1" r="1.20" fill="#ffe0c0" opacity="0.50"/><circle cx="152.1" cy="184.5" r="1.10" fill="#ffffff" opacity="0.80"/><circle cx="148.6" cy="204.7" r="1.14" fill="#ffc860" opacity="0.60"/><circle cx="167.2" cy="196.4" r="1.05" fill="#fff4d8" opacity="0.46"/><circle cx="160.5" cy="194.9" r="0.69" fill="#ffffff" opacity="0.43"/><circle cx="166.2" cy="186.7" r="1.27" fill="#ffd870" opacity="0.65"/><circle cx="164.1" cy="184.7" r="1.26" fill="#ffd870" opacity="0.77"/><circle cx="152.3" cy="197.8" r="1.27" fill="#ffffff" opacity="0.79"/><circle cx="162.1" cy="196.6" r="0.75" fill="#ffffff" opacity="0.62"/><circle cx="161.2" cy="188.6" r="1.10" fill="#ffe0c0" opacity="0.57"/><circle cx="164.2" cy="203.7" r="1.06" fill="#ffe0c0" opacity="0.71"/><circle cx="156.4" cy="188.7" r="1.10" fill="#ffffff" opacity="0.69"/><circle cx="166.5" cy="199.9" r="0.55" fill="#ffc860" opacity="0.61"/><circle cx="168.5" cy="199.5" r="0.78" fill="#ffc860" opacity="0.52"/><circle cx="147.5" cy="193.9" r="1.20" fill="#fff4d8" opacity="0.77"/><circle cx="166.7" cy="201.6" r="0.72" fill="#ffffff" opacity="0.77"/><circle cx="149.7" cy="191.2" r="0.82" fill="#ffe8a0" opacity="0.59"/><circle cx="152.7" cy="190.0" r="0.52" fill="#ffe8a0" opacity="0.48"/><circle cx="168.6" cy="184.8" r="0.88" fill="#ffc860" opacity="0.74"/><circle cx="151.2" cy="185.3" r="0.62" fill="#ffe8a0" opacity="0.48"/><circle cx="151.1" cy="194.6" r="0.88" fill="#ffc860" opacity="0.74"/><circle cx="168.1" cy="188.8" r="1.46" fill="#ffd878" opacity="0.65"/><circle cx="150.7" cy="202.0" r="1.07" fill="#ffd878" opacity="0.66"/><circle cx="155.2" cy="186.1" r="1.07" fill="#ffd878" opacity="0.60"/><circle cx="158.3" cy="183.6" r="1.16" fill="#ffd878" opacity="0.63"/><circle cx="167.7" cy="192.2" r="0.84" fill="#ffd878" opacity="0.46"/><circle cx="158.2" cy="184.8" r="0.97" fill="#ffd878" opacity="0.62"/><circle cx="166.3" cy="186.2" r="0.88" fill="#ffd878" opacity="0.50"/><ellipse cx="160" cy="187" rx="4" ry="3" fill="#ffe49a" opacity="0.5" filter="url(#bl2)"/><ellipse cx="153" cy="188.5" rx="4" ry="3" fill="#fff2ee" opacity="0.65" filter="url(#bl2)"/><ellipse cx="156.5" cy="198" rx="2.5" ry="2.5" fill="#1e0404" opacity="0.8925" filter="url(#bl2)"/></g><path d="M146.5 194.0C146.7 193.1 147.6 191.9 148.0 190.9C148.5 189.9 148.6 188.6 149.2 187.7C149.8 186.8 150.6 186.1 151.5 185.5C152.5 185.0 153.6 185.0 154.8 184.7C155.9 184.3 157.1 183.5 158.3 183.3C159.4 183.2 160.6 183.6 161.7 183.7C162.8 183.8 164.1 183.4 164.9 183.7C165.8 184.1 166.1 185.0 166.9 185.7C167.6 186.5 168.8 187.2 169.4 188.2C169.9 189.2 170.3 190.6 170.1 191.7C169.9 192.9 168.4 194.0 168.2 195.2C168.0 196.3 169.4 197.9 169.0 198.8C168.5 199.8 166.6 200.2 165.6 201.1C164.7 202.0 164.4 203.9 163.4 204.3C162.4 204.8 160.8 203.8 159.6 204.0C158.4 204.2 157.4 205.2 156.3 205.3C155.2 205.4 154.0 205.1 153.0 204.6C152.0 204.1 151.0 203.1 150.3 202.4C149.7 201.7 149.5 201.1 149.1 200.4C148.7 199.8 148.2 199.2 147.9 198.5C147.6 197.9 147.5 197.1 147.3 196.3C147.1 195.6 146.4 194.9 146.5 194.0Z" fill="none" stroke="#8e0c10" stroke-width="1.1" stroke-opacity="0.32"/><clipPath id="cF3"><path d="M187.2 191.8C187.3 191.1 188.5 190.4 188.8 189.6C189.1 188.9 188.6 187.8 189.1 187.2C189.6 186.5 190.7 186.1 191.8 185.7C192.8 185.3 194.3 185.2 195.4 184.8C196.6 184.5 197.7 184.1 198.7 183.5C199.7 182.9 200.5 181.6 201.5 181.2C202.5 180.8 203.6 181.1 204.6 181.1C205.6 181.2 206.5 181.0 207.5 181.4C208.5 181.7 209.8 182.3 210.5 183.2C211.3 184.0 211.5 185.4 212.0 186.5C212.5 187.7 212.9 188.8 213.6 190.0C214.3 191.1 215.9 192.2 216.4 193.3C216.9 194.5 216.6 195.7 216.5 196.8C216.4 198.0 216.6 199.4 216.0 200.1C215.3 200.7 213.7 200.2 212.9 200.5C212.0 200.8 211.9 201.8 210.9 202.0C210.0 202.1 208.7 202.0 207.4 201.5C206.1 201.1 204.3 199.8 203.0 199.3C201.6 198.9 200.5 199.1 199.3 198.9C198.1 198.8 196.9 198.6 195.7 198.4C194.5 198.2 193.1 198.0 192.1 197.7C191.1 197.3 190.1 196.9 189.5 196.3C188.9 195.7 188.9 194.8 188.5 194.0C188.1 193.3 187.2 192.5 187.2 191.8Z"/></clipPath><path d="M187.2 191.8C187.3 191.1 188.5 190.4 188.8 189.6C189.1 188.9 188.6 187.8 189.1 187.2C189.6 186.5 190.7 186.1 191.8 185.7C192.8 185.3 194.3 185.2 195.4 184.8C196.6 184.5 197.7 184.1 198.7 183.5C199.7 182.9 200.5 181.6 201.5 181.2C202.5 180.8 203.6 181.1 204.6 181.1C205.6 181.2 206.5 181.0 207.5 181.4C208.5 181.7 209.8 182.3 210.5 183.2C211.3 184.0 211.5 185.4 212.0 186.5C212.5 187.7 212.9 188.8 213.6 190.0C214.3 191.1 215.9 192.2 216.4 193.3C216.9 194.5 216.6 195.7 216.5 196.8C216.4 198.0 216.6 199.4 216.0 200.1C215.3 200.7 213.7 200.2 212.9 200.5C212.0 200.8 211.9 201.8 210.9 202.0C210.0 202.1 208.7 202.0 207.4 201.5C206.1 201.1 204.3 199.8 203.0 199.3C201.6 198.9 200.5 199.1 199.3 198.9C198.1 198.8 196.9 198.6 195.7 198.4C194.5 198.2 193.1 198.0 192.1 197.7C191.1 197.3 190.1 196.9 189.5 196.3C188.9 195.7 188.9 194.8 188.5 194.0C188.1 193.3 187.2 192.5 187.2 191.8Z" fill="#e0301e"/><g clip-path="url(#cF3)"><circle cx="192.2" cy="194.0" r="1.35" fill="#980a0a" opacity="0.17"/><circle cx="206.0" cy="186.1" r="0.98" fill="#980a0a" opacity="0.30"/><circle cx="202.4" cy="182.4" r="1.22" fill="#980a0a" opacity="0.29"/><circle cx="192.5" cy="185.2" r="0.91" fill="#980a0a" opacity="0.16"/><circle cx="195.4" cy="194.5" r="1.36" fill="#980a0a" opacity="0.18"/><circle cx="214.6" cy="194.2" r="1.15" fill="#980a0a" opacity="0.30"/><circle cx="208.4" cy="201.0" r="1.00" fill="#980a0a" opacity="0.25"/><circle cx="187.5" cy="189.0" r="1.17" fill="#980a0a" opacity="0.31"/><circle cx="207.0" cy="198.1" r="0.89" fill="#980a0a" opacity="0.29"/><circle cx="188.0" cy="191.5" r="1.38" fill="#980a0a" opacity="0.23"/><circle cx="196.8" cy="181.4" r="0.96" fill="#980a0a" opacity="0.41"/><circle cx="199.2" cy="193.5" r="1.09" fill="#980a0a" opacity="0.20"/><circle cx="195.9" cy="194.6" r="1.21" fill="#980a0a" opacity="0.33"/><circle cx="198.2" cy="196.0" r="0.94" fill="#980a0a" opacity="0.40"/><circle cx="208.1" cy="182.2" r="1.05" fill="#980a0a" opacity="0.35"/><circle cx="209.3" cy="181.9" r="1.26" fill="#980a0a" opacity="0.17"/><circle cx="200.4" cy="183.3" r="0.88" fill="#980a0a" opacity="0.37"/><circle cx="191.6" cy="198.0" r="1.32" fill="#980a0a" opacity="0.21"/><circle cx="198.2" cy="193.6" r="0.82" fill="#980a0a" opacity="0.20"/><circle cx="196.0" cy="188.8" r="0.85" fill="#980a0a" opacity="0.15"/><circle cx="213.2" cy="185.0" r="0.88" fill="#980a0a" opacity="0.33"/><circle cx="202.3" cy="200.9" r="1.42" fill="#980a0a" opacity="0.40"/><circle cx="215.1" cy="182.3" r="0.91" fill="#980a0a" opacity="0.41"/><circle cx="191.1" cy="186.4" r="0.74" fill="#980a0a" opacity="0.29"/><circle cx="195.9" cy="190.1" r="0.70" fill="#980a0a" opacity="0.28"/><circle cx="190.7" cy="190.6" r="1.46" fill="#980a0a" opacity="0.28"/><circle cx="210.4" cy="194.4" r="1.26" fill="#980a0a" opacity="0.33"/><circle cx="196.2" cy="196.8" r="1.43" fill="#980a0a" opacity="0.32"/><circle cx="203.6" cy="186.7" r="0.88" fill="#980a0a" opacity="0.35"/><circle cx="202.6" cy="189.2" r="1.59" fill="#980a0a" opacity="0.32"/><circle cx="205.9" cy="192.7" r="0.51" fill="#ffc860" opacity="0.48"/><circle cx="211.5" cy="195.6" r="0.55" fill="#ffc860" opacity="0.69"/><circle cx="192.8" cy="196.4" r="0.79" fill="#ffe0c0" opacity="0.44"/><circle cx="191.2" cy="183.5" r="0.54" fill="#fff4d8" opacity="0.41"/><circle cx="201.6" cy="187.6" r="0.58" fill="#fff4d8" opacity="0.43"/><circle cx="195.9" cy="193.1" r="0.96" fill="#ffffff" opacity="0.58"/><circle cx="211.8" cy="182.5" r="0.57" fill="#fff4d8" opacity="0.71"/><circle cx="194.2" cy="192.4" r="0.97" fill="#fff4d8" opacity="0.55"/><circle cx="198.4" cy="199.9" r="0.57" fill="#ffc860" opacity="0.42"/><circle cx="190.7" cy="195.6" r="0.75" fill="#fff4d8" opacity="0.55"/><circle cx="210.4" cy="195.8" r="1.07" fill="#fff4d8" opacity="0.71"/><circle cx="189.7" cy="191.2" r="0.92" fill="#ffffff" opacity="0.60"/><circle cx="194.0" cy="186.2" r="0.51" fill="#fff4d8" opacity="0.75"/><circle cx="214.9" cy="198.2" r="0.58" fill="#ffe8a0" opacity="0.71"/><circle cx="199.9" cy="199.3" r="0.98" fill="#ffd870" opacity="0.65"/><circle cx="199.7" cy="200.4" r="1.16" fill="#fff4d8" opacity="0.45"/><circle cx="203.7" cy="185.1" r="0.58" fill="#ffd870" opacity="0.56"/><circle cx="212.7" cy="193.1" r="0.61" fill="#ffc860" opacity="0.45"/><circle cx="195.4" cy="191.0" r="0.73" fill="#ffd870" opacity="0.64"/><circle cx="198.8" cy="200.0" r="1.20" fill="#fff4d8" opacity="0.59"/><circle cx="206.3" cy="200.9" r="0.91" fill="#ffd870" opacity="0.55"/><circle cx="191.6" cy="182.3" r="0.66" fill="#ffe0c0" opacity="0.69"/><circle cx="203.0" cy="196.8" r="1.17" fill="#ffe8a0" opacity="0.76"/><circle cx="206.9" cy="182.8" r="1.08" fill="#ffe8a0" opacity="0.48"/><circle cx="187.4" cy="196.1" r="1.30" fill="#ffe0c0" opacity="0.50"/><circle cx="192.3" cy="187.3" r="1.10" fill="#ffe0c0" opacity="0.53"/><circle cx="190.7" cy="195.6" r="1.01" fill="#ffe8a0" opacity="0.52"/><circle cx="199.8" cy="182.7" r="0.72" fill="#ffe8a0" opacity="0.53"/><circle cx="200.3" cy="191.6" r="0.54" fill="#ffc860" opacity="0.49"/><circle cx="207.8" cy="185.3" r="1.01" fill="#ffe8a0" opacity="0.76"/><circle cx="204.2" cy="182.7" r="0.95" fill="#ffd878" opacity="0.59"/><circle cx="189.2" cy="189.7" r="0.98" fill="#ffd878" opacity="0.62"/><circle cx="195.5" cy="184.9" r="1.28" fill="#ffd878" opacity="0.48"/><circle cx="192.1" cy="188.2" r="1.30" fill="#ffd878" opacity="0.67"/><circle cx="202.8" cy="197.6" r="1.43" fill="#ffd878" opacity="0.57"/><circle cx="192.5" cy="186.1" r="1.14" fill="#ffd878" opacity="0.49"/><circle cx="204.4" cy="182.0" r="1.21" fill="#ffd878" opacity="0.43"/><ellipse cx="193" cy="195" rx="3" ry="2.5" fill="#ffe49a" opacity="0.5" filter="url(#bl2)"/><ellipse cx="212" cy="197" rx="3" ry="3" fill="#ffe49a" opacity="0.4" filter="url(#bl2)"/><ellipse cx="192" cy="193" rx="3.5" ry="3" fill="#fff2ee" opacity="0.6" filter="url(#bl2)"/><ellipse cx="204.6" cy="184" rx="3" ry="2.5" fill="#1e0404" opacity="0.63" filter="url(#bl2)"/></g><path d="M187.2 191.8C187.3 191.1 188.5 190.4 188.8 189.6C189.1 188.9 188.6 187.8 189.1 187.2C189.6 186.5 190.7 186.1 191.8 185.7C192.8 185.3 194.3 185.2 195.4 184.8C196.6 184.5 197.7 184.1 198.7 183.5C199.7 182.9 200.5 181.6 201.5 181.2C202.5 180.8 203.6 181.1 204.6 181.1C205.6 181.2 206.5 181.0 207.5 181.4C208.5 181.7 209.8 182.3 210.5 183.2C211.3 184.0 211.5 185.4 212.0 186.5C212.5 187.7 212.9 188.8 213.6 190.0C214.3 191.1 215.9 192.2 216.4 193.3C216.9 194.5 216.6 195.7 216.5 196.8C216.4 198.0 216.6 199.4 216.0 200.1C215.3 200.7 213.7 200.2 212.9 200.5C212.0 200.8 211.9 201.8 210.9 202.0C210.0 202.1 208.7 202.0 207.4 201.5C206.1 201.1 204.3 199.8 203.0 199.3C201.6 198.9 200.5 199.1 199.3 198.9C198.1 198.8 196.9 198.6 195.7 198.4C194.5 198.2 193.1 198.0 192.1 197.7C191.1 197.3 190.1 196.9 189.5 196.3C188.9 195.7 188.9 194.8 188.5 194.0C188.1 193.3 187.2 192.5 187.2 191.8Z" fill="none" stroke="#8e0c10" stroke-width="1.1" stroke-opacity="0.32"/><clipPath id="cF4"><path d="M226.7 191.0C227.0 189.8 227.7 189.0 228.1 187.9C228.5 186.9 228.4 185.3 229.1 184.7C229.8 184.1 231.3 184.4 232.2 184.1C233.2 183.7 233.7 182.7 234.6 182.6C235.6 182.5 236.9 183.4 238.0 183.6C239.2 183.9 240.3 183.9 241.4 184.3C242.4 184.7 243.3 185.4 244.3 185.9C245.2 186.4 246.6 186.7 247.3 187.4C247.9 188.1 247.8 189.1 248.2 190.0C248.7 190.8 249.9 191.8 249.8 192.5C249.8 193.2 248.4 193.4 247.8 194.0C247.3 194.5 247.3 195.2 246.6 195.8C245.9 196.4 244.5 197.0 243.4 197.4C242.3 197.9 241.0 197.9 239.9 198.4C238.8 198.9 237.9 199.8 236.9 200.4C235.8 201.1 234.6 202.2 233.6 202.2C232.6 202.2 231.6 201.3 230.8 200.7C230.0 200.0 229.5 199.4 228.8 198.5C228.1 197.6 227.0 196.4 226.7 195.2C226.3 193.9 226.5 192.2 226.7 191.0Z"/></clipPath><path d="M226.7 191.0C227.0 189.8 227.7 189.0 228.1 187.9C228.5 186.9 228.4 185.3 229.1 184.7C229.8 184.1 231.3 184.4 232.2 184.1C233.2 183.7 233.7 182.7 234.6 182.6C235.6 182.5 236.9 183.4 238.0 183.6C239.2 183.9 240.3 183.9 241.4 184.3C242.4 184.7 243.3 185.4 244.3 185.9C245.2 186.4 246.6 186.7 247.3 187.4C247.9 188.1 247.8 189.1 248.2 190.0C248.7 190.8 249.9 191.8 249.8 192.5C249.8 193.2 248.4 193.4 247.8 194.0C247.3 194.5 247.3 195.2 246.6 195.8C245.9 196.4 244.5 197.0 243.4 197.4C242.3 197.9 241.0 197.9 239.9 198.4C238.8 198.9 237.9 199.8 236.9 200.4C235.8 201.1 234.6 202.2 233.6 202.2C232.6 202.2 231.6 201.3 230.8 200.7C230.0 200.0 229.5 199.4 228.8 198.5C228.1 197.6 227.0 196.4 226.7 195.2C226.3 193.9 226.5 192.2 226.7 191.0Z" fill="#e4482e"/><g clip-path="url(#cF4)"><circle cx="244.8" cy="194.4" r="1.43" fill="#980a0a" opacity="0.26"/><circle cx="234.8" cy="186.0" r="0.89" fill="#980a0a" opacity="0.19"/><circle cx="236.8" cy="187.3" r="1.16" fill="#980a0a" opacity="0.36"/><circle cx="242.3" cy="184.3" r="1.21" fill="#980a0a" opacity="0.41"/><circle cx="239.6" cy="199.1" r="1.26" fill="#980a0a" opacity="0.33"/><circle cx="228.5" cy="197.2" r="1.34" fill="#980a0a" opacity="0.36"/><circle cx="233.5" cy="199.2" r="1.21" fill="#980a0a" opacity="0.34"/><circle cx="239.7" cy="185.3" r="0.73" fill="#980a0a" opacity="0.25"/><circle cx="227.1" cy="190.3" r="0.88" fill="#980a0a" opacity="0.16"/><circle cx="235.7" cy="201.5" r="1.56" fill="#980a0a" opacity="0.31"/><circle cx="229.1" cy="187.1" r="0.92" fill="#980a0a" opacity="0.37"/><circle cx="243.0" cy="198.0" r="1.41" fill="#980a0a" opacity="0.40"/><circle cx="236.9" cy="190.0" r="1.29" fill="#980a0a" opacity="0.15"/><circle cx="245.3" cy="200.5" r="0.73" fill="#980a0a" opacity="0.29"/><circle cx="233.5" cy="200.4" r="1.56" fill="#980a0a" opacity="0.29"/><circle cx="246.6" cy="185.5" r="0.88" fill="#980a0a" opacity="0.21"/><circle cx="232.6" cy="191.1" r="0.79" fill="#980a0a" opacity="0.32"/><circle cx="231.8" cy="184.9" r="1.27" fill="#980a0a" opacity="0.35"/><circle cx="248.8" cy="183.5" r="0.92" fill="#980a0a" opacity="0.21"/><circle cx="231.8" cy="198.0" r="0.82" fill="#980a0a" opacity="0.34"/><circle cx="228.6" cy="199.5" r="1.22" fill="#980a0a" opacity="0.28"/><circle cx="227.9" cy="193.1" r="1.26" fill="#980a0a" opacity="0.40"/><circle cx="232.9" cy="199.9" r="0.83" fill="#ffe8a0" opacity="0.62"/><circle cx="226.9" cy="194.4" r="0.78" fill="#ffffff" opacity="0.76"/><circle cx="240.0" cy="191.1" r="0.56" fill="#ffffff" opacity="0.47"/><circle cx="232.5" cy="190.9" r="1.17" fill="#ffffff" opacity="0.67"/><circle cx="241.8" cy="197.8" r="1.06" fill="#ffe8a0" opacity="0.75"/><circle cx="240.3" cy="188.4" r="0.78" fill="#ffc860" opacity="0.70"/><circle cx="237.5" cy="197.7" r="0.87" fill="#ffe0c0" opacity="0.60"/><circle cx="229.2" cy="200.2" r="1.28" fill="#ffe8a0" opacity="0.78"/><circle cx="232.2" cy="184.4" r="0.78" fill="#fff4d8" opacity="0.52"/><circle cx="239.4" cy="185.3" r="1.30" fill="#ffd870" opacity="0.64"/><circle cx="234.4" cy="193.2" r="1.02" fill="#ffe0c0" opacity="0.52"/><circle cx="233.0" cy="184.2" r="1.00" fill="#ffe0c0" opacity="0.56"/><circle cx="245.2" cy="196.0" r="1.05" fill="#ffe0c0" opacity="0.68"/><circle cx="239.9" cy="200.7" r="1.07" fill="#fff4d8" opacity="0.47"/><circle cx="249.8" cy="191.2" r="1.04" fill="#ffd870" opacity="0.69"/><circle cx="237.7" cy="201.6" r="0.64" fill="#ffe8a0" opacity="0.70"/><circle cx="245.1" cy="196.0" r="1.03" fill="#fff4d8" opacity="0.47"/><circle cx="234.8" cy="191.5" r="1.17" fill="#fff4d8" opacity="0.67"/><circle cx="237.7" cy="198.4" r="0.54" fill="#ffc860" opacity="0.65"/><circle cx="246.1" cy="200.5" r="0.73" fill="#ffc860" opacity="0.80"/><circle cx="238.4" cy="197.6" r="0.61" fill="#ffe8a0" opacity="0.71"/><circle cx="229.9" cy="189.6" r="1.21" fill="#fff4d8" opacity="0.71"/><circle cx="238.8" cy="183.1" r="0.93" fill="#ffe0c0" opacity="0.51"/><circle cx="245.2" cy="184.4" r="0.88" fill="#ffe8a0" opacity="0.62"/><circle cx="243.5" cy="196.5" r="0.83" fill="#ffe8a0" opacity="0.67"/><circle cx="243.8" cy="198.0" r="1.03" fill="#ffe8a0" opacity="0.53"/><circle cx="234.2" cy="200.7" r="1.02" fill="#ffd878" opacity="0.67"/><circle cx="230.1" cy="185.5" r="1.09" fill="#ffd878" opacity="0.48"/><circle cx="245.7" cy="190.4" r="1.48" fill="#ffd878" opacity="0.57"/><circle cx="234.9" cy="183.4" r="1.15" fill="#ffd878" opacity="0.41"/><circle cx="232.3" cy="198.7" r="1.29" fill="#ffd878" opacity="0.69"/><circle cx="232.5" cy="198.6" r="1.41" fill="#ffd878" opacity="0.43"/><circle cx="244.7" cy="194.9" r="0.83" fill="#ffd878" opacity="0.51"/><ellipse cx="244" cy="190" rx="3" ry="3" fill="#ffe49a" opacity="0.6" filter="url(#bl2)"/><ellipse cx="230" cy="196" rx="2.5" ry="2.5" fill="#ffe49a" opacity="0.6" filter="url(#bl2)"/><ellipse cx="236" cy="194" rx="5" ry="4" fill="#fff2ee" opacity="0.75" filter="url(#bl2)"/></g><path d="M226.7 191.0C227.0 189.8 227.7 189.0 228.1 187.9C228.5 186.9 228.4 185.3 229.1 184.7C229.8 184.1 231.3 184.4 232.2 184.1C233.2 183.7 233.7 182.7 234.6 182.6C235.6 182.5 236.9 183.4 238.0 183.6C239.2 183.9 240.3 183.9 241.4 184.3C242.4 184.7 243.3 185.4 244.3 185.9C245.2 186.4 246.6 186.7 247.3 187.4C247.9 188.1 247.8 189.1 248.2 190.0C248.7 190.8 249.9 191.8 249.8 192.5C249.8 193.2 248.4 193.4 247.8 194.0C247.3 194.5 247.3 195.2 246.6 195.8C245.9 196.4 244.5 197.0 243.4 197.4C242.3 197.9 241.0 197.9 239.9 198.4C238.8 198.9 237.9 199.8 236.9 200.4C235.8 201.1 234.6 202.2 233.6 202.2C232.6 202.2 231.6 201.3 230.8 200.7C230.0 200.0 229.5 199.4 228.8 198.5C228.1 197.6 227.0 196.4 226.7 195.2C226.3 193.9 226.5 192.2 226.7 191.0Z" fill="none" stroke="#8e0c10" stroke-width="1.1" stroke-opacity="0.32"/><clipPath id="cG1"><path d="M114.5 221.9C114.9 221.3 115.8 220.5 116.1 219.7C116.4 219.0 115.6 217.7 116.2 217.2C116.7 216.7 118.5 217.3 119.4 216.9C120.3 216.6 120.7 215.5 121.6 215.2C122.5 214.9 123.8 215.2 124.9 215.3C125.9 215.4 126.9 215.4 127.8 215.8C128.7 216.1 129.6 216.8 130.2 217.5C130.8 218.1 130.9 219.0 131.3 219.7C131.7 220.4 132.7 221.0 132.7 221.6C132.7 222.2 132.1 223.0 131.3 223.4C130.6 223.9 129.1 223.8 128.4 224.3C127.7 224.8 128.1 226.1 127.2 226.4C126.3 226.7 124.5 226.1 123.2 226.1C121.9 226.1 120.2 226.6 119.2 226.5C118.2 226.4 117.7 225.9 117.1 225.5C116.4 225.1 115.9 224.6 115.3 224.3C114.8 223.9 114.0 223.7 113.9 223.3C113.7 222.9 114.1 222.5 114.5 221.9Z"/></clipPath><path d="M114.5 221.9C114.9 221.3 115.8 220.5 116.1 219.7C116.4 219.0 115.6 217.7 116.2 217.2C116.7 216.7 118.5 217.3 119.4 216.9C120.3 216.6 120.7 215.5 121.6 215.2C122.5 214.9 123.8 215.2 124.9 215.3C125.9 215.4 126.9 215.4 127.8 215.8C128.7 216.1 129.6 216.8 130.2 217.5C130.8 218.1 130.9 219.0 131.3 219.7C131.7 220.4 132.7 221.0 132.7 221.6C132.7 222.2 132.1 223.0 131.3 223.4C130.6 223.9 129.1 223.8 128.4 224.3C127.7 224.8 128.1 226.1 127.2 226.4C126.3 226.7 124.5 226.1 123.2 226.1C121.9 226.1 120.2 226.6 119.2 226.5C118.2 226.4 117.7 225.9 117.1 225.5C116.4 225.1 115.9 224.6 115.3 224.3C114.8 223.9 114.0 223.7 113.9 223.3C113.7 222.9 114.1 222.5 114.5 221.9Z" fill="#dc2818"/><g clip-path="url(#cG1)"><circle cx="116.6" cy="221.1" r="1.00" fill="#980a0a" opacity="0.30"/><circle cx="130.5" cy="217.6" r="1.24" fill="#980a0a" opacity="0.34"/><circle cx="117.8" cy="218.3" r="1.15" fill="#980a0a" opacity="0.32"/><circle cx="128.5" cy="218.7" r="1.03" fill="#980a0a" opacity="0.20"/><circle cx="124.6" cy="217.7" r="0.74" fill="#980a0a" opacity="0.29"/><circle cx="122.5" cy="219.4" r="0.94" fill="#980a0a" opacity="0.39"/><circle cx="124.5" cy="226.1" r="0.77" fill="#980a0a" opacity="0.29"/><circle cx="126.9" cy="226.1" r="1.02" fill="#980a0a" opacity="0.25"/><circle cx="126.4" cy="217.7" r="0.71" fill="#980a0a" opacity="0.18"/><circle cx="120.8" cy="225.1" r="1.28" fill="#ffc8c0" opacity="0.63"/><circle cx="129.9" cy="221.1" r="1.22" fill="#ffe8e0" opacity="0.52"/><circle cx="119.0" cy="219.9" r="1.04" fill="#ffe8e0" opacity="0.45"/><circle cx="119.1" cy="215.6" r="1.20" fill="#ffe8e0" opacity="0.61"/><circle cx="129.1" cy="220.6" r="1.13" fill="#ffffff" opacity="0.62"/><ellipse cx="123" cy="221" rx="2.5" ry="1.5" fill="#ffe49a" opacity="0.7" filter="url(#bl2)"/><ellipse cx="122" cy="221" rx="3" ry="2" fill="#fff2ee" opacity="0.8" filter="url(#bl2)"/></g><path d="M114.5 221.9C114.9 221.3 115.8 220.5 116.1 219.7C116.4 219.0 115.6 217.7 116.2 217.2C116.7 216.7 118.5 217.3 119.4 216.9C120.3 216.6 120.7 215.5 121.6 215.2C122.5 214.9 123.8 215.2 124.9 215.3C125.9 215.4 126.9 215.4 127.8 215.8C128.7 216.1 129.6 216.8 130.2 217.5C130.8 218.1 130.9 219.0 131.3 219.7C131.7 220.4 132.7 221.0 132.7 221.6C132.7 222.2 132.1 223.0 131.3 223.4C130.6 223.9 129.1 223.8 128.4 224.3C127.7 224.8 128.1 226.1 127.2 226.4C126.3 226.7 124.5 226.1 123.2 226.1C121.9 226.1 120.2 226.6 119.2 226.5C118.2 226.4 117.7 225.9 117.1 225.5C116.4 225.1 115.9 224.6 115.3 224.3C114.8 223.9 114.0 223.7 113.9 223.3C113.7 222.9 114.1 222.5 114.5 221.9Z" fill="none" stroke="#8e0c10" stroke-width="1.1" stroke-opacity="0.32"/><clipPath id="cG2"><path d="M150.1 220.4C149.7 219.8 149.5 219.2 149.8 218.7C150.0 218.1 150.9 217.7 151.6 217.2C152.3 216.8 153.0 216.2 153.9 216.0C154.9 215.7 156.0 215.7 157.1 215.6C158.2 215.5 159.6 215.3 160.7 215.4C161.8 215.6 163.2 215.8 163.6 216.3C164.0 216.7 163.0 217.7 163.3 218.3C163.5 218.8 164.9 219.1 165.2 219.6C165.5 220.1 165.3 220.8 164.8 221.3C164.3 221.8 163.1 222.3 162.1 222.5C161.2 222.8 160.1 222.7 159.1 223.0C158.1 223.3 157.0 224.2 156.3 224.3C155.5 224.4 155.3 223.5 154.5 223.6C153.7 223.6 151.9 224.6 151.5 224.4C151.0 224.1 152.1 222.6 151.8 221.9C151.6 221.3 150.4 220.9 150.1 220.4Z"/></clipPath><path d="M150.1 220.4C149.7 219.8 149.5 219.2 149.8 218.7C150.0 218.1 150.9 217.7 151.6 217.2C152.3 216.8 153.0 216.2 153.9 216.0C154.9 215.7 156.0 215.7 157.1 215.6C158.2 215.5 159.6 215.3 160.7 215.4C161.8 215.6 163.2 215.8 163.6 216.3C164.0 216.7 163.0 217.7 163.3 218.3C163.5 218.8 164.9 219.1 165.2 219.6C165.5 220.1 165.3 220.8 164.8 221.3C164.3 221.8 163.1 222.3 162.1 222.5C161.2 222.8 160.1 222.7 159.1 223.0C158.1 223.3 157.0 224.2 156.3 224.3C155.5 224.4 155.3 223.5 154.5 223.6C153.7 223.6 151.9 224.6 151.5 224.4C151.0 224.1 152.1 222.6 151.8 221.9C151.6 221.3 150.4 220.9 150.1 220.4Z" fill="#f6c8a0"/><g clip-path="url(#cG2)"><circle cx="154.9" cy="223.3" r="0.93" fill="#980a0a" opacity="0.16"/><circle cx="156.0" cy="221.4" r="1.55" fill="#980a0a" opacity="0.37"/><circle cx="153.8" cy="216.2" r="0.76" fill="#980a0a" opacity="0.28"/><circle cx="151.0" cy="217.7" r="1.41" fill="#980a0a" opacity="0.39"/><circle cx="154.6" cy="221.2" r="0.76" fill="#980a0a" opacity="0.23"/><circle cx="157.0" cy="216.4" r="1.56" fill="#980a0a" opacity="0.15"/><circle cx="158.4" cy="221.7" r="1.08" fill="#ffe0c0" opacity="0.72"/><circle cx="154.7" cy="216.8" r="0.52" fill="#ffd870" opacity="0.76"/><circle cx="162.9" cy="221.4" r="0.74" fill="#fff4d8" opacity="0.76"/><circle cx="158.7" cy="223.9" r="1.12" fill="#ffe0c0" opacity="0.58"/><circle cx="160.8" cy="223.4" r="1.29" fill="#ffe0c0" opacity="0.66"/><circle cx="159.9" cy="218.9" r="0.97" fill="#ffffff" opacity="0.42"/><circle cx="164.4" cy="218.1" r="1.29" fill="#ffe8a0" opacity="0.44"/><circle cx="161.7" cy="222.3" r="1.29" fill="#ffd878" opacity="0.49"/><circle cx="163.7" cy="219.6" r="1.09" fill="#ffd878" opacity="0.50"/><circle cx="163.1" cy="221.0" r="1.05" fill="#ffd878" opacity="0.63"/><circle cx="152.6" cy="221.6" r="1.22" fill="#ffd878" opacity="0.58"/><circle cx="152.9" cy="217.9" r="1.36" fill="#ffd878" opacity="0.40"/><ellipse cx="153" cy="221" rx="2.5" ry="2" fill="#ffe49a" opacity="0.6" filter="url(#bl2)"/><ellipse cx="156" cy="220" rx="4" ry="2.5" fill="#fff2ee" opacity="0.6" filter="url(#bl2)"/><ellipse cx="158" cy="220" rx="2" ry="2" fill="#1e0404" opacity="0.21000000000000002" filter="url(#bl2)"/></g><path d="M150.1 220.4C149.7 219.8 149.5 219.2 149.8 218.7C150.0 218.1 150.9 217.7 151.6 217.2C152.3 216.8 153.0 216.2 153.9 216.0C154.9 215.7 156.0 215.7 157.1 215.6C158.2 215.5 159.6 215.3 160.7 215.4C161.8 215.6 163.2 215.8 163.6 216.3C164.0 216.7 163.0 217.7 163.3 218.3C163.5 218.8 164.9 219.1 165.2 219.6C165.5 220.1 165.3 220.8 164.8 221.3C164.3 221.8 163.1 222.3 162.1 222.5C161.2 222.8 160.1 222.7 159.1 223.0C158.1 223.3 157.0 224.2 156.3 224.3C155.5 224.4 155.3 223.5 154.5 223.6C153.7 223.6 151.9 224.6 151.5 224.4C151.0 224.1 152.1 222.6 151.8 221.9C151.6 221.3 150.4 220.9 150.1 220.4Z" fill="none" stroke="#d83a3a" stroke-width="1.0" stroke-opacity="0.35"/><clipPath id="cG3"><path d="M187.2 220.4C187.3 219.6 187.2 218.6 187.5 217.9C187.9 217.2 188.5 216.5 189.3 216.2C190.0 215.9 191.1 216.2 192.0 216.0C192.9 215.8 193.8 215.1 194.6 215.2C195.4 215.2 196.0 215.9 196.8 216.3C197.6 216.6 198.9 216.6 199.4 217.2C199.9 217.8 199.9 218.9 199.9 219.9C199.8 220.8 199.4 221.9 199.0 222.7C198.5 223.4 197.6 223.6 197.2 224.2C196.7 224.8 196.6 225.6 196.1 226.3C195.6 227.0 194.7 228.1 194.0 228.3C193.3 228.4 192.3 227.8 191.6 227.4C190.9 227.1 190.4 226.5 189.8 226.1C189.2 225.7 188.3 225.5 187.8 225.0C187.2 224.4 186.7 223.6 186.6 222.9C186.5 222.1 187.0 221.3 187.2 220.4Z"/></clipPath><path d="M187.2 220.4C187.3 219.6 187.2 218.6 187.5 217.9C187.9 217.2 188.5 216.5 189.3 216.2C190.0 215.9 191.1 216.2 192.0 216.0C192.9 215.8 193.8 215.1 194.6 215.2C195.4 215.2 196.0 215.9 196.8 216.3C197.6 216.6 198.9 216.6 199.4 217.2C199.9 217.8 199.9 218.9 199.9 219.9C199.8 220.8 199.4 221.9 199.0 222.7C198.5 223.4 197.6 223.6 197.2 224.2C196.7 224.8 196.6 225.6 196.1 226.3C195.6 227.0 194.7 228.1 194.0 228.3C193.3 228.4 192.3 227.8 191.6 227.4C190.9 227.1 190.4 226.5 189.8 226.1C189.2 225.7 188.3 225.5 187.8 225.0C187.2 224.4 186.7 223.6 186.6 222.9C186.5 222.1 187.0 221.3 187.2 220.4Z" fill="#e03630"/><g clip-path="url(#cG3)"><circle cx="193.6" cy="227.2" r="1.08" fill="#980a0a" opacity="0.32"/><circle cx="192.7" cy="217.8" r="1.57" fill="#980a0a" opacity="0.33"/><circle cx="196.6" cy="219.2" r="0.71" fill="#980a0a" opacity="0.22"/><circle cx="190.3" cy="224.1" r="1.29" fill="#980a0a" opacity="0.30"/><circle cx="194.0" cy="217.9" r="0.96" fill="#980a0a" opacity="0.16"/><circle cx="196.1" cy="227.4" r="1.52" fill="#980a0a" opacity="0.32"/><circle cx="195.2" cy="219.9" r="1.58" fill="#980a0a" opacity="0.16"/><circle cx="196.2" cy="223.7" r="1.27" fill="#ffe8e0" opacity="0.62"/><circle cx="199.0" cy="221.2" r="0.53" fill="#ffc8c0" opacity="0.62"/><circle cx="195.0" cy="216.6" r="1.03" fill="#ffffff" opacity="0.51"/><circle cx="196.9" cy="224.0" r="1.16" fill="#ffe8e0" opacity="0.76"/><circle cx="191.3" cy="220.6" r="0.91" fill="#ffe8b0" opacity="0.48"/><ellipse cx="191" cy="219" rx="2.5" ry="2" fill="#ffe49a" opacity="0.5" filter="url(#bl2)"/><ellipse cx="197" cy="218" rx="2" ry="2" fill="#fff2ee" opacity="0.6" filter="url(#bl2)"/></g><path d="M187.2 220.4C187.3 219.6 187.2 218.6 187.5 217.9C187.9 217.2 188.5 216.5 189.3 216.2C190.0 215.9 191.1 216.2 192.0 216.0C192.9 215.8 193.8 215.1 194.6 215.2C195.4 215.2 196.0 215.9 196.8 216.3C197.6 216.6 198.9 216.6 199.4 217.2C199.9 217.8 199.9 218.9 199.9 219.9C199.8 220.8 199.4 221.9 199.0 222.7C198.5 223.4 197.6 223.6 197.2 224.2C196.7 224.8 196.6 225.6 196.1 226.3C195.6 227.0 194.7 228.1 194.0 228.3C193.3 228.4 192.3 227.8 191.6 227.4C190.9 227.1 190.4 226.5 189.8 226.1C189.2 225.7 188.3 225.5 187.8 225.0C187.2 224.4 186.7 223.6 186.6 222.9C186.5 222.1 187.0 221.3 187.2 220.4Z" fill="none" stroke="#8e0c10" stroke-width="1.1" stroke-opacity="0.32"/><clipPath id="cG4"><path d="M228.4 216.5C228.8 216.0 230.8 215.5 231.3 214.9C231.8 214.2 230.7 213.0 231.2 212.5C231.7 212.1 233.3 212.4 234.3 212.1C235.2 211.8 236.0 210.8 236.9 210.9C237.8 210.9 238.5 212.2 239.6 212.5C240.6 212.7 242.4 212.3 243.1 212.6C243.9 213.0 243.9 213.9 244.3 214.6C244.6 215.2 245.5 216.0 245.3 216.5C245.1 217.0 243.6 217.4 243.1 217.8C242.5 218.3 242.7 219.1 242.0 219.4C241.3 219.7 239.8 219.7 238.7 219.8C237.7 219.9 236.5 219.9 235.5 220.0C234.5 220.1 233.5 220.5 232.7 220.4C232.0 220.3 231.7 219.8 231.1 219.4C230.5 219.1 229.8 218.7 229.4 218.2C228.9 217.7 228.1 217.1 228.4 216.5Z"/></clipPath><path d="M228.4 216.5C228.8 216.0 230.8 215.5 231.3 214.9C231.8 214.2 230.7 213.0 231.2 212.5C231.7 212.1 233.3 212.4 234.3 212.1C235.2 211.8 236.0 210.8 236.9 210.9C237.8 210.9 238.5 212.2 239.6 212.5C240.6 212.7 242.4 212.3 243.1 212.6C243.9 213.0 243.9 213.9 244.3 214.6C244.6 215.2 245.5 216.0 245.3 216.5C245.1 217.0 243.6 217.4 243.1 217.8C242.5 218.3 242.7 219.1 242.0 219.4C241.3 219.7 239.8 219.7 238.7 219.8C237.7 219.9 236.5 219.9 235.5 220.0C234.5 220.1 233.5 220.5 232.7 220.4C232.0 220.3 231.7 219.8 231.1 219.4C230.5 219.1 229.8 218.7 229.4 218.2C228.9 217.7 228.1 217.1 228.4 216.5Z" fill="#c81c18"/><g clip-path="url(#cG4)"><circle cx="234.8" cy="219.4" r="0.83" fill="#980a0a" opacity="0.37"/><circle cx="234.9" cy="214.1" r="1.13" fill="#980a0a" opacity="0.22"/><circle cx="237.9" cy="220.2" r="1.22" fill="#980a0a" opacity="0.17"/><circle cx="245.4" cy="215.1" r="1.14" fill="#980a0a" opacity="0.30"/><circle cx="241.4" cy="218.3" r="1.38" fill="#980a0a" opacity="0.26"/><circle cx="241.1" cy="213.0" r="0.70" fill="#980a0a" opacity="0.28"/><circle cx="242.0" cy="216.3" r="1.25" fill="#980a0a" opacity="0.19"/><circle cx="244.5" cy="214.9" r="0.85" fill="#ffe8e0" opacity="0.48"/><circle cx="236.3" cy="211.5" r="0.54" fill="#ffe8e0" opacity="0.77"/><circle cx="237.4" cy="213.7" r="0.52" fill="#ffe8e0" opacity="0.77"/><ellipse cx="237" cy="214.5" rx="2" ry="1.8" fill="#1e0404" opacity="0.8400000000000001" filter="url(#bl2)"/><ellipse cx="233" cy="218" rx="1.8" ry="1.5" fill="#1e0404" opacity="0.63" filter="url(#bl2)"/><ellipse cx="241" cy="217" rx="1.5" ry="1.5" fill="#1e0404" opacity="0.525" filter="url(#bl2)"/></g><path d="M228.4 216.5C228.8 216.0 230.8 215.5 231.3 214.9C231.8 214.2 230.7 213.0 231.2 212.5C231.7 212.1 233.3 212.4 234.3 212.1C235.2 211.8 236.0 210.8 236.9 210.9C237.8 210.9 238.5 212.2 239.6 212.5C240.6 212.7 242.4 212.3 243.1 212.6C243.9 213.0 243.9 213.9 244.3 214.6C244.6 215.2 245.5 216.0 245.3 216.5C245.1 217.0 243.6 217.4 243.1 217.8C242.5 218.3 242.7 219.1 242.0 219.4C241.3 219.7 239.8 219.7 238.7 219.8C237.7 219.9 236.5 219.9 235.5 220.0C234.5 220.1 233.5 220.5 232.7 220.4C232.0 220.3 231.7 219.8 231.1 219.4C230.5 219.1 229.8 218.7 229.4 218.2C228.9 217.7 228.1 217.1 228.4 216.5Z" fill="none" stroke="#8e0c10" stroke-width="1.1" stroke-opacity="0.32"/><clipPath id="cH1"><path d="M113.5 245.8C113.6 245.1 114.6 244.5 115.0 243.8C115.4 243.1 115.5 242.4 116.1 241.8C116.6 241.2 117.4 240.6 118.3 240.3C119.3 240.0 120.5 240.1 121.7 240.0C122.8 239.8 124.2 239.3 125.4 239.4C126.5 239.5 127.5 240.1 128.5 240.5C129.5 240.8 130.8 240.9 131.5 241.4C132.1 241.9 132.0 242.8 132.3 243.5C132.7 244.3 133.5 245.0 133.6 245.8C133.7 246.6 133.4 247.6 132.8 248.2C132.1 248.7 130.3 248.6 129.6 249.2C129.0 249.7 129.6 251.1 128.9 251.5C128.1 251.8 126.3 251.1 125.1 251.2C123.8 251.3 122.5 252.4 121.6 252.3C120.7 252.2 120.4 250.9 119.5 250.5C118.7 250.2 117.4 250.6 116.5 250.3C115.7 249.9 115.0 249.0 114.5 248.3C114.0 247.5 113.5 246.5 113.5 245.8Z"/></clipPath><path d="M113.5 245.8C113.6 245.1 114.6 244.5 115.0 243.8C115.4 243.1 115.5 242.4 116.1 241.8C116.6 241.2 117.4 240.6 118.3 240.3C119.3 240.0 120.5 240.1 121.7 240.0C122.8 239.8 124.2 239.3 125.4 239.4C126.5 239.5 127.5 240.1 128.5 240.5C129.5 240.8 130.8 240.9 131.5 241.4C132.1 241.9 132.0 242.8 132.3 243.5C132.7 244.3 133.5 245.0 133.6 245.8C133.7 246.6 133.4 247.6 132.8 248.2C132.1 248.7 130.3 248.6 129.6 249.2C129.0 249.7 129.6 251.1 128.9 251.5C128.1 251.8 126.3 251.1 125.1 251.2C123.8 251.3 122.5 252.4 121.6 252.3C120.7 252.2 120.4 250.9 119.5 250.5C118.7 250.2 117.4 250.6 116.5 250.3C115.7 249.9 115.0 249.0 114.5 248.3C114.0 247.5 113.5 246.5 113.5 245.8Z" fill="#dc2818"/><g clip-path="url(#cH1)"><circle cx="119.8" cy="244.5" r="0.75" fill="#980a0a" opacity="0.28"/><circle cx="128.3" cy="243.1" r="1.18" fill="#980a0a" opacity="0.17"/><circle cx="120.6" cy="241.2" r="0.99" fill="#980a0a" opacity="0.34"/><circle cx="129.1" cy="249.2" r="1.22" fill="#980a0a" opacity="0.32"/><circle cx="117.4" cy="246.0" r="1.24" fill="#980a0a" opacity="0.18"/><circle cx="119.7" cy="250.4" r="1.57" fill="#980a0a" opacity="0.38"/><circle cx="128.6" cy="249.0" r="1.51" fill="#980a0a" opacity="0.25"/><circle cx="117.8" cy="243.0" r="0.91" fill="#980a0a" opacity="0.21"/><circle cx="117.3" cy="243.5" r="0.74" fill="#980a0a" opacity="0.25"/><circle cx="121.9" cy="242.3" r="1.08" fill="#980a0a" opacity="0.35"/><circle cx="126.9" cy="246.1" r="0.81" fill="#ffe8b0" opacity="0.64"/><circle cx="125.7" cy="245.6" r="0.68" fill="#ffc8c0" opacity="0.47"/><circle cx="130.1" cy="240.8" r="1.12" fill="#ffd8d0" opacity="0.62"/><circle cx="115.2" cy="245.5" r="0.85" fill="#ffffff" opacity="0.43"/><circle cx="117.7" cy="245.2" r="0.72" fill="#ffffff" opacity="0.51"/><circle cx="131.4" cy="245.2" r="1.08" fill="#ffffff" opacity="0.55"/><ellipse cx="121" cy="247" rx="2.5" ry="1.5" fill="#ffe49a" opacity="0.8" filter="url(#bl2)"/><ellipse cx="121" cy="246.5" rx="3.5" ry="2.2" fill="#fff2ee" opacity="0.85" filter="url(#bl2)"/></g><path d="M113.5 245.8C113.6 245.1 114.6 244.5 115.0 243.8C115.4 243.1 115.5 242.4 116.1 241.8C116.6 241.2 117.4 240.6 118.3 240.3C119.3 240.0 120.5 240.1 121.7 240.0C122.8 239.8 124.2 239.3 125.4 239.4C126.5 239.5 127.5 240.1 128.5 240.5C129.5 240.8 130.8 240.9 131.5 241.4C132.1 241.9 132.0 242.8 132.3 243.5C132.7 244.3 133.5 245.0 133.6 245.8C133.7 246.6 133.4 247.6 132.8 248.2C132.1 248.7 130.3 248.6 129.6 249.2C129.0 249.7 129.6 251.1 128.9 251.5C128.1 251.8 126.3 251.1 125.1 251.2C123.8 251.3 122.5 252.4 121.6 252.3C120.7 252.2 120.4 250.9 119.5 250.5C118.7 250.2 117.4 250.6 116.5 250.3C115.7 249.9 115.0 249.0 114.5 248.3C114.0 247.5 113.5 246.5 113.5 245.8Z" fill="none" stroke="#8e0c10" stroke-width="1.1" stroke-opacity="0.32"/><clipPath id="cH2"><path d="M150.5 241.9C150.6 241.3 151.9 241.1 152.4 240.4C152.8 239.8 152.7 238.6 153.2 238.0C153.7 237.5 154.6 237.2 155.4 237.1C156.2 237.0 157.1 237.0 157.8 237.3C158.5 237.6 158.7 238.6 159.3 239.0C160.0 239.4 161.1 239.3 161.6 239.7C162.0 240.1 161.8 241.0 161.8 241.6C161.9 242.2 161.8 242.8 161.8 243.5C161.7 244.2 161.9 245.2 161.5 245.8C161.0 246.4 159.9 246.8 159.2 247.1C158.5 247.3 158.0 247.1 157.3 247.4C156.7 247.7 156.1 248.9 155.5 249.0C154.8 249.1 154.0 248.3 153.4 247.9C152.9 247.5 152.2 247.0 151.9 246.3C151.6 245.7 152.0 244.7 151.7 244.0C151.5 243.3 150.4 242.6 150.5 241.9Z"/></clipPath><path d="M150.5 241.9C150.6 241.3 151.9 241.1 152.4 240.4C152.8 239.8 152.7 238.6 153.2 238.0C153.7 237.5 154.6 237.2 155.4 237.1C156.2 237.0 157.1 237.0 157.8 237.3C158.5 237.6 158.7 238.6 159.3 239.0C160.0 239.4 161.1 239.3 161.6 239.7C162.0 240.1 161.8 241.0 161.8 241.6C161.9 242.2 161.8 242.8 161.8 243.5C161.7 244.2 161.9 245.2 161.5 245.8C161.0 246.4 159.9 246.8 159.2 247.1C158.5 247.3 158.0 247.1 157.3 247.4C156.7 247.7 156.1 248.9 155.5 249.0C154.8 249.1 154.0 248.3 153.4 247.9C152.9 247.5 152.2 247.0 151.9 246.3C151.6 245.7 152.0 244.7 151.7 244.0C151.5 243.3 150.4 242.6 150.5 241.9Z" fill="#e03848"/><g clip-path="url(#cH2)"><circle cx="158.8" cy="247.8" r="1.00" fill="#980a0a" opacity="0.27"/><circle cx="150.7" cy="244.1" r="0.84" fill="#980a0a" opacity="0.23"/><circle cx="152.4" cy="244.5" r="1.35" fill="#980a0a" opacity="0.17"/><circle cx="158.0" cy="240.1" r="0.98" fill="#980a0a" opacity="0.30"/><circle cx="156.5" cy="238.1" r="1.22" fill="#980a0a" opacity="0.29"/><circle cx="152.5" cy="239.6" r="0.91" fill="#980a0a" opacity="0.16"/><circle cx="153.7" cy="244.8" r="1.08" fill="#ffd8d0" opacity="0.66"/><circle cx="160.2" cy="247.0" r="1.14" fill="#ffc8c0" opacity="0.69"/><circle cx="161.8" cy="241.1" r="0.81" fill="#ffd8d0" opacity="0.70"/><circle cx="151.1" cy="245.6" r="1.19" fill="#ffffff" opacity="0.73"/><circle cx="152.7" cy="243.1" r="0.53" fill="#ffe8b0" opacity="0.61"/><ellipse cx="155" cy="239.5" rx="3" ry="1.5" fill="#ffe49a" opacity="0.5" filter="url(#bl2)"/></g><path d="M150.5 241.9C150.6 241.3 151.9 241.1 152.4 240.4C152.8 239.8 152.7 238.6 153.2 238.0C153.7 237.5 154.6 237.2 155.4 237.1C156.2 237.0 157.1 237.0 157.8 237.3C158.5 237.6 158.7 238.6 159.3 239.0C160.0 239.4 161.1 239.3 161.6 239.7C162.0 240.1 161.8 241.0 161.8 241.6C161.9 242.2 161.8 242.8 161.8 243.5C161.7 244.2 161.9 245.2 161.5 245.8C161.0 246.4 159.9 246.8 159.2 247.1C158.5 247.3 158.0 247.1 157.3 247.4C156.7 247.7 156.1 248.9 155.5 249.0C154.8 249.1 154.0 248.3 153.4 247.9C152.9 247.5 152.2 247.0 151.9 246.3C151.6 245.7 152.0 244.7 151.7 244.0C151.5 243.3 150.4 242.6 150.5 241.9Z" fill="none" stroke="#8e0c10" stroke-width="1.1" stroke-opacity="0.32"/><clipPath id="cH3"><path d="M184.8 240.4C185.0 239.6 185.8 239.1 186.3 238.5C186.8 237.8 186.8 236.7 187.6 236.4C188.4 236.1 189.9 236.7 190.9 236.7C191.9 236.6 192.9 235.8 193.8 235.9C194.6 236.0 195.2 236.9 195.9 237.3C196.7 237.7 197.7 237.8 198.3 238.3C198.9 238.8 199.1 239.5 199.6 240.1C200.0 240.8 201.1 241.3 201.0 241.9C201.0 242.5 199.8 243.1 199.4 243.7C198.9 244.4 198.9 245.2 198.4 245.7C197.8 246.3 196.7 246.5 196.0 247.1C195.2 247.7 194.6 248.9 193.9 249.2C193.1 249.6 192.2 249.3 191.4 249.2C190.7 249.1 190.0 248.8 189.4 248.5C188.7 248.2 188.0 247.8 187.4 247.4C186.7 247.0 185.8 246.7 185.4 246.0C185.0 245.3 184.9 244.1 184.8 243.1C184.7 242.2 184.5 241.1 184.8 240.4Z"/></clipPath><path d="M184.8 240.4C185.0 239.6 185.8 239.1 186.3 238.5C186.8 237.8 186.8 236.7 187.6 236.4C188.4 236.1 189.9 236.7 190.9 236.7C191.9 236.6 192.9 235.8 193.8 235.9C194.6 236.0 195.2 236.9 195.9 237.3C196.7 237.7 197.7 237.8 198.3 238.3C198.9 238.8 199.1 239.5 199.6 240.1C200.0 240.8 201.1 241.3 201.0 241.9C201.0 242.5 199.8 243.1 199.4 243.7C198.9 244.4 198.9 245.2 198.4 245.7C197.8 246.3 196.7 246.5 196.0 247.1C195.2 247.7 194.6 248.9 193.9 249.2C193.1 249.6 192.2 249.3 191.4 249.2C190.7 249.1 190.0 248.8 189.4 248.5C188.7 248.2 188.0 247.8 187.4 247.4C186.7 247.0 185.8 246.7 185.4 246.0C185.0 245.3 184.9 244.1 184.8 243.1C184.7 242.2 184.5 241.1 184.8 240.4Z" fill="#dc3020"/><g clip-path="url(#cH3)"><circle cx="186.5" cy="248.3" r="1.40" fill="#980a0a" opacity="0.32"/><circle cx="198.3" cy="240.9" r="1.01" fill="#980a0a" opacity="0.20"/><circle cx="188.4" cy="237.6" r="1.08" fill="#980a0a" opacity="0.22"/><circle cx="193.4" cy="246.0" r="1.30" fill="#980a0a" opacity="0.18"/><circle cx="194.4" cy="248.3" r="1.19" fill="#980a0a" opacity="0.38"/><circle cx="195.3" cy="244.3" r="0.76" fill="#980a0a" opacity="0.36"/><circle cx="196.7" cy="245.7" r="0.96" fill="#980a0a" opacity="0.38"/><circle cx="194.3" cy="245.1" r="1.20" fill="#980a0a" opacity="0.19"/><circle cx="185.5" cy="240.6" r="0.71" fill="#980a0a" opacity="0.26"/><circle cx="188.2" cy="236.5" r="1.04" fill="#980a0a" opacity="0.42"/><circle cx="200.8" cy="243.4" r="0.58" fill="#ffe8e0" opacity="0.57"/><circle cx="198.2" cy="244.4" r="0.78" fill="#ffe8b0" opacity="0.72"/><circle cx="200.1" cy="241.4" r="0.81" fill="#ffe8b0" opacity="0.40"/><circle cx="198.2" cy="247.9" r="0.53" fill="#ffe8b0" opacity="0.67"/><circle cx="191.2" cy="237.6" r="0.80" fill="#ffe8b0" opacity="0.74"/><circle cx="187.5" cy="238.4" r="0.68" fill="#ffe8e0" opacity="0.62"/><circle cx="194.6" cy="248.2" r="0.79" fill="#ffe8e0" opacity="0.46"/><ellipse cx="198" cy="243" rx="3" ry="2" fill="#ffe49a" opacity="0.6" filter="url(#bl2)"/><ellipse cx="188" cy="241" rx="2" ry="2" fill="#ffe49a" opacity="0.5" filter="url(#bl2)"/><ellipse cx="198" cy="243" rx="3" ry="2" fill="#fff2ee" opacity="0.7" filter="url(#bl2)"/></g><path d="M184.8 240.4C185.0 239.6 185.8 239.1 186.3 238.5C186.8 237.8 186.8 236.7 187.6 236.4C188.4 236.1 189.9 236.7 190.9 236.7C191.9 236.6 192.9 235.8 193.8 235.9C194.6 236.0 195.2 236.9 195.9 237.3C196.7 237.7 197.7 237.8 198.3 238.3C198.9 238.8 199.1 239.5 199.6 240.1C200.0 240.8 201.1 241.3 201.0 241.9C201.0 242.5 199.8 243.1 199.4 243.7C198.9 244.4 198.9 245.2 198.4 245.7C197.8 246.3 196.7 246.5 196.0 247.1C195.2 247.7 194.6 248.9 193.9 249.2C193.1 249.6 192.2 249.3 191.4 249.2C190.7 249.1 190.0 248.8 189.4 248.5C188.7 248.2 188.0 247.8 187.4 247.4C186.7 247.0 185.8 246.7 185.4 246.0C185.0 245.3 184.9 244.1 184.8 243.1C184.7 242.2 184.5 241.1 184.8 240.4Z" fill="none" stroke="#8e0c10" stroke-width="1.1" stroke-opacity="0.32"/><clipPath id="cH4"><path d="M228.8 241.9C228.8 241.1 230.2 240.5 230.7 239.8C231.2 239.1 231.2 238.3 231.8 237.6C232.3 236.9 233.0 235.8 233.8 235.5C234.7 235.2 236.1 235.3 236.9 235.7C237.7 236.1 238.1 237.4 238.8 238.0C239.6 238.5 240.8 238.3 241.5 238.8C242.2 239.3 242.8 240.2 243.1 240.9C243.4 241.7 243.5 242.9 243.2 243.5C242.9 244.2 241.5 244.4 241.0 245.0C240.6 245.5 241.0 246.3 240.5 247.0C240.1 247.7 239.2 248.7 238.3 249.2C237.5 249.7 236.0 250.3 235.4 249.9C234.7 249.5 234.8 247.7 234.3 247.1C233.8 246.5 233.0 246.9 232.4 246.4C231.8 245.9 231.2 245.0 230.6 244.2C230.0 243.5 228.8 242.6 228.8 241.9Z"/></clipPath><path d="M228.8 241.9C228.8 241.1 230.2 240.5 230.7 239.8C231.2 239.1 231.2 238.3 231.8 237.6C232.3 236.9 233.0 235.8 233.8 235.5C234.7 235.2 236.1 235.3 236.9 235.7C237.7 236.1 238.1 237.4 238.8 238.0C239.6 238.5 240.8 238.3 241.5 238.8C242.2 239.3 242.8 240.2 243.1 240.9C243.4 241.7 243.5 242.9 243.2 243.5C242.9 244.2 241.5 244.4 241.0 245.0C240.6 245.5 241.0 246.3 240.5 247.0C240.1 247.7 239.2 248.7 238.3 249.2C237.5 249.7 236.0 250.3 235.4 249.9C234.7 249.5 234.8 247.7 234.3 247.1C233.8 246.5 233.0 246.9 232.4 246.4C231.8 245.9 231.2 245.0 230.6 244.2C230.0 243.5 228.8 242.6 228.8 241.9Z" fill="#e03a20"/><g clip-path="url(#cH4)"><circle cx="238.5" cy="242.5" r="1.38" fill="#980a0a" opacity="0.38"/><circle cx="238.6" cy="243.7" r="1.37" fill="#980a0a" opacity="0.28"/><circle cx="238.2" cy="243.1" r="0.77" fill="#980a0a" opacity="0.38"/><circle cx="242.2" cy="247.4" r="0.82" fill="#980a0a" opacity="0.36"/><circle cx="229.7" cy="237.2" r="0.90" fill="#980a0a" opacity="0.33"/><circle cx="230.6" cy="245.9" r="1.34" fill="#980a0a" opacity="0.37"/><circle cx="242.5" cy="245.3" r="0.98" fill="#980a0a" opacity="0.15"/><circle cx="232.5" cy="242.3" r="0.88" fill="#980a0a" opacity="0.40"/><circle cx="236.5" cy="247.3" r="1.52" fill="#980a0a" opacity="0.35"/><circle cx="241.4" cy="239.1" r="1.02" fill="#fff4d8" opacity="0.79"/><circle cx="229.5" cy="246.6" r="0.98" fill="#ffe8a0" opacity="0.74"/><circle cx="234.2" cy="247.6" r="0.92" fill="#ffe0c0" opacity="0.69"/><circle cx="240.0" cy="247.2" r="0.52" fill="#fff4d8" opacity="0.80"/><circle cx="240.7" cy="247.2" r="1.17" fill="#ffffff" opacity="0.75"/><circle cx="236.2" cy="240.0" r="0.64" fill="#ffd870" opacity="0.48"/><circle cx="231.9" cy="238.2" r="1.27" fill="#ffffff" opacity="0.65"/><circle cx="234.0" cy="242.7" r="1.02" fill="#ffe8a0" opacity="0.40"/><circle cx="230.0" cy="238.0" r="1.05" fill="#ffd870" opacity="0.63"/><circle cx="231.9" cy="243.9" r="1.36" fill="#ffd878" opacity="0.60"/><circle cx="237.9" cy="247.9" r="0.94" fill="#ffd878" opacity="0.52"/><circle cx="236.8" cy="237.1" r="1.14" fill="#ffd878" opacity="0.68"/><circle cx="231.0" cy="239.9" r="1.18" fill="#ffd878" opacity="0.59"/><ellipse cx="232" cy="240" rx="2.5" ry="2.5" fill="#ffe49a" opacity="0.7" filter="url(#bl2)"/></g><path d="M228.8 241.9C228.8 241.1 230.2 240.5 230.7 239.8C231.2 239.1 231.2 238.3 231.8 237.6C232.3 236.9 233.0 235.8 233.8 235.5C234.7 235.2 236.1 235.3 236.9 235.7C237.7 236.1 238.1 237.4 238.8 238.0C239.6 238.5 240.8 238.3 241.5 238.8C242.2 239.3 242.8 240.2 243.1 240.9C243.4 241.7 243.5 242.9 243.2 243.5C242.9 244.2 241.5 244.4 241.0 245.0C240.6 245.5 241.0 246.3 240.5 247.0C240.1 247.7 239.2 248.7 238.3 249.2C237.5 249.7 236.0 250.3 235.4 249.9C234.7 249.5 234.8 247.7 234.3 247.1C233.8 246.5 233.0 246.9 232.4 246.4C231.8 245.9 231.2 245.0 230.6 244.2C230.0 243.5 228.8 242.6 228.8 241.9Z" fill="none" stroke="#8e0c10" stroke-width="1.1" stroke-opacity="0.32"/><clipPath id="cI1"><path d="M106.6 270.8C106.3 270.2 106.1 269.3 106.5 268.7C106.8 268.0 107.7 267.3 108.5 266.8C109.3 266.3 110.1 265.9 111.1 265.7C112.2 265.4 113.6 265.4 114.7 265.2C115.9 265.0 116.9 264.5 118.0 264.5C119.1 264.5 120.3 264.6 121.2 265.0C122.0 265.4 122.0 266.5 122.9 267.0C123.9 267.4 125.8 267.1 126.7 267.6C127.6 268.1 128.1 269.1 128.2 269.9C128.3 270.7 127.8 271.7 127.4 272.2C127.1 272.8 126.4 273.0 126.1 273.4C125.8 273.9 126.3 274.8 125.6 275.0C124.9 275.2 122.8 274.5 121.8 274.6C120.8 274.8 120.5 275.8 119.5 275.6C118.6 275.5 117.4 274.1 116.2 273.9C115.1 273.7 113.8 274.4 112.6 274.5C111.5 274.6 110.1 274.8 109.3 274.6C108.6 274.5 108.2 274.1 108.0 273.7C107.8 273.3 108.4 272.6 108.2 272.1C107.9 271.6 106.9 271.4 106.6 270.8Z"/></clipPath><path d="M106.6 270.8C106.3 270.2 106.1 269.3 106.5 268.7C106.8 268.0 107.7 267.3 108.5 266.8C109.3 266.3 110.1 265.9 111.1 265.7C112.2 265.4 113.6 265.4 114.7 265.2C115.9 265.0 116.9 264.5 118.0 264.5C119.1 264.5 120.3 264.6 121.2 265.0C122.0 265.4 122.0 266.5 122.9 267.0C123.9 267.4 125.8 267.1 126.7 267.6C127.6 268.1 128.1 269.1 128.2 269.9C128.3 270.7 127.8 271.7 127.4 272.2C127.1 272.8 126.4 273.0 126.1 273.4C125.8 273.9 126.3 274.8 125.6 275.0C124.9 275.2 122.8 274.5 121.8 274.6C120.8 274.8 120.5 275.8 119.5 275.6C118.6 275.5 117.4 274.1 116.2 273.9C115.1 273.7 113.8 274.4 112.6 274.5C111.5 274.6 110.1 274.8 109.3 274.6C108.6 274.5 108.2 274.1 108.0 273.7C107.8 273.3 108.4 272.6 108.2 272.1C107.9 271.6 106.9 271.4 106.6 270.8Z" fill="#dc2a18"/><g clip-path="url(#cI1)"><circle cx="115.2" cy="272.0" r="1.55" fill="#980a0a" opacity="0.37"/><circle cx="112.0" cy="265.9" r="0.76" fill="#980a0a" opacity="0.28"/><circle cx="108.1" cy="267.7" r="1.41" fill="#980a0a" opacity="0.39"/><circle cx="113.2" cy="271.8" r="0.76" fill="#980a0a" opacity="0.23"/><circle cx="116.7" cy="266.1" r="1.56" fill="#980a0a" opacity="0.15"/><circle cx="118.7" cy="272.4" r="1.35" fill="#980a0a" opacity="0.40"/><circle cx="123.7" cy="268.7" r="0.81" fill="#980a0a" opacity="0.16"/><circle cx="111.2" cy="268.2" r="1.60" fill="#980a0a" opacity="0.34"/><circle cx="118.4" cy="274.3" r="1.23" fill="#980a0a" opacity="0.41"/><circle cx="122.9" cy="270.2" r="0.77" fill="#980a0a" opacity="0.40"/><circle cx="126.6" cy="268.3" r="1.02" fill="#ffffff" opacity="0.55"/><circle cx="119.0" cy="271.0" r="1.11" fill="#ffc8c0" opacity="0.51"/><circle cx="127.6" cy="266.6" r="1.04" fill="#ffffff" opacity="0.55"/><circle cx="121.4" cy="268.5" r="0.71" fill="#ffc8c0" opacity="0.56"/><circle cx="113.5" cy="274.2" r="1.22" fill="#ffffff" opacity="0.42"/><circle cx="124.4" cy="271.1" r="0.98" fill="#ffe8b0" opacity="0.49"/><ellipse cx="116" cy="270" rx="3" ry="1.5" fill="#ffe49a" opacity="0.6" filter="url(#bl2)"/><ellipse cx="125" cy="273" rx="2" ry="1.5" fill="#ffe49a" opacity="0.6" filter="url(#bl2)"/><ellipse cx="115" cy="270" rx="3" ry="2" fill="#fff2ee" opacity="0.6" filter="url(#bl2)"/><ellipse cx="124" cy="273" rx="2" ry="1.5" fill="#fff2ee" opacity="0.6" filter="url(#bl2)"/></g><path d="M106.6 270.8C106.3 270.2 106.1 269.3 106.5 268.7C106.8 268.0 107.7 267.3 108.5 266.8C109.3 266.3 110.1 265.9 111.1 265.7C112.2 265.4 113.6 265.4 114.7 265.2C115.9 265.0 116.9 264.5 118.0 264.5C119.1 264.5 120.3 264.6 121.2 265.0C122.0 265.4 122.0 266.5 122.9 267.0C123.9 267.4 125.8 267.1 126.7 267.6C127.6 268.1 128.1 269.1 128.2 269.9C128.3 270.7 127.8 271.7 127.4 272.2C127.1 272.8 126.4 273.0 126.1 273.4C125.8 273.9 126.3 274.8 125.6 275.0C124.9 275.2 122.8 274.5 121.8 274.6C120.8 274.8 120.5 275.8 119.5 275.6C118.6 275.5 117.4 274.1 116.2 273.9C115.1 273.7 113.8 274.4 112.6 274.5C111.5 274.6 110.1 274.8 109.3 274.6C108.6 274.5 108.2 274.1 108.0 273.7C107.8 273.3 108.4 272.6 108.2 272.1C107.9 271.6 106.9 271.4 106.6 270.8Z" fill="none" stroke="#8e0c10" stroke-width="1.1" stroke-opacity="0.32"/><clipPath id="cI2"><path d="M144.0 270.8C144.0 270.3 143.8 269.6 144.0 269.1C144.3 268.6 144.8 268.0 145.6 267.8C146.4 267.5 147.9 267.7 148.9 267.6C150.0 267.5 150.8 267.5 151.7 267.1C152.7 266.7 153.7 266.0 154.7 265.3C155.7 264.7 157.0 263.4 157.9 263.3C158.9 263.1 159.7 263.9 160.3 264.4C160.9 264.9 161.3 265.5 161.5 266.3C161.7 267.1 161.3 268.1 161.5 269.0C161.6 269.9 162.2 270.6 162.3 271.5C162.4 272.4 162.5 273.5 162.0 274.2C161.5 275.0 160.1 275.6 159.1 276.0C158.1 276.3 157.1 276.3 156.1 276.5C155.1 276.7 154.2 277.2 153.2 277.3C152.1 277.5 150.8 277.7 149.8 277.5C148.8 277.3 147.8 276.6 147.0 276.2C146.1 275.9 145.1 275.9 144.7 275.5C144.3 275.1 144.5 274.3 144.4 273.8C144.2 273.2 143.8 272.8 143.7 272.3C143.6 271.8 143.9 271.3 144.0 270.8Z"/></clipPath><path d="M144.0 270.8C144.0 270.3 143.8 269.6 144.0 269.1C144.3 268.6 144.8 268.0 145.6 267.8C146.4 267.5 147.9 267.7 148.9 267.6C150.0 267.5 150.8 267.5 151.7 267.1C152.7 266.7 153.7 266.0 154.7 265.3C155.7 264.7 157.0 263.4 157.9 263.3C158.9 263.1 159.7 263.9 160.3 264.4C160.9 264.9 161.3 265.5 161.5 266.3C161.7 267.1 161.3 268.1 161.5 269.0C161.6 269.9 162.2 270.6 162.3 271.5C162.4 272.4 162.5 273.5 162.0 274.2C161.5 275.0 160.1 275.6 159.1 276.0C158.1 276.3 157.1 276.3 156.1 276.5C155.1 276.7 154.2 277.2 153.2 277.3C152.1 277.5 150.8 277.7 149.8 277.5C148.8 277.3 147.8 276.6 147.0 276.2C146.1 275.9 145.1 275.9 144.7 275.5C144.3 275.1 144.5 274.3 144.4 273.8C144.2 273.2 143.8 272.8 143.7 272.3C143.6 271.8 143.9 271.3 144.0 270.8Z" fill="#da2a18"/><g clip-path="url(#cI2)"><circle cx="152.6" cy="266.5" r="1.57" fill="#980a0a" opacity="0.33"/><circle cx="158.6" cy="268.0" r="0.71" fill="#980a0a" opacity="0.22"/><circle cx="148.8" cy="273.4" r="1.29" fill="#980a0a" opacity="0.30"/><circle cx="154.5" cy="266.7" r="0.96" fill="#980a0a" opacity="0.16"/><circle cx="157.7" cy="276.9" r="1.52" fill="#980a0a" opacity="0.32"/><circle cx="156.4" cy="268.8" r="1.58" fill="#980a0a" opacity="0.16"/><circle cx="157.9" cy="273.0" r="1.56" fill="#980a0a" opacity="0.36"/><circle cx="146.7" cy="267.5" r="1.35" fill="#980a0a" opacity="0.25"/><circle cx="161.6" cy="271.2" r="1.30" fill="#980a0a" opacity="0.18"/><circle cx="156.2" cy="268.2" r="0.87" fill="#980a0a" opacity="0.25"/><circle cx="148.0" cy="274.5" r="1.52" fill="#980a0a" opacity="0.25"/><circle cx="151.9" cy="270.6" r="1.19" fill="#980a0a" opacity="0.18"/><circle cx="147.3" cy="270.5" r="1.06" fill="#980a0a" opacity="0.20"/><circle cx="147.4" cy="270.1" r="1.16" fill="#ffd8d0" opacity="0.40"/><circle cx="144.1" cy="274.9" r="1.23" fill="#ffc8c0" opacity="0.50"/><circle cx="150.4" cy="270.3" r="1.14" fill="#ffd8d0" opacity="0.43"/><circle cx="148.9" cy="275.9" r="1.07" fill="#ffc8c0" opacity="0.60"/><circle cx="150.6" cy="269.9" r="0.51" fill="#ffc8c0" opacity="0.62"/><circle cx="155.9" cy="274.6" r="0.57" fill="#ffe8b0" opacity="0.46"/><ellipse cx="156" cy="272" rx="2" ry="1.5" fill="#ffe49a" opacity="0.5" filter="url(#bl2)"/><ellipse cx="151.7" cy="269.5" rx="2" ry="1.8" fill="#1e0404" opacity="0.8925" filter="url(#bl2)"/></g><path d="M144.0 270.8C144.0 270.3 143.8 269.6 144.0 269.1C144.3 268.6 144.8 268.0 145.6 267.8C146.4 267.5 147.9 267.7 148.9 267.6C150.0 267.5 150.8 267.5 151.7 267.1C152.7 266.7 153.7 266.0 154.7 265.3C155.7 264.7 157.0 263.4 157.9 263.3C158.9 263.1 159.7 263.9 160.3 264.4C160.9 264.9 161.3 265.5 161.5 266.3C161.7 267.1 161.3 268.1 161.5 269.0C161.6 269.9 162.2 270.6 162.3 271.5C162.4 272.4 162.5 273.5 162.0 274.2C161.5 275.0 160.1 275.6 159.1 276.0C158.1 276.3 157.1 276.3 156.1 276.5C155.1 276.7 154.2 277.2 153.2 277.3C152.1 277.5 150.8 277.7 149.8 277.5C148.8 277.3 147.8 276.6 147.0 276.2C146.1 275.9 145.1 275.9 144.7 275.5C144.3 275.1 144.5 274.3 144.4 273.8C144.2 273.2 143.8 272.8 143.7 272.3C143.6 271.8 143.9 271.3 144.0 270.8Z" fill="none" stroke="#8e0c10" stroke-width="1.1" stroke-opacity="0.32"/><clipPath id="cI3"><path d="M188.0 270.1C188.4 269.3 190.4 268.8 190.8 268.2C191.2 267.5 190.0 266.6 190.5 266.1C191.0 265.6 192.9 265.6 194.0 265.1C195.0 264.7 195.9 263.6 196.9 263.5C197.8 263.3 198.6 264.2 199.6 264.2C200.7 264.2 202.4 263.4 203.1 263.4C203.9 263.4 203.9 264.1 204.2 264.4C204.6 264.8 205.5 265.0 205.3 265.4C205.2 265.9 203.9 266.6 203.4 267.1C203.0 267.6 203.0 268.0 202.7 268.5C202.3 269.0 201.8 269.5 201.3 269.9C200.8 270.4 200.3 270.6 199.7 271.2C199.1 271.8 198.5 272.9 197.8 273.4C197.1 273.9 196.3 273.7 195.5 274.0C194.7 274.2 193.6 274.8 192.8 274.8C192.1 274.9 191.6 274.9 190.9 274.5C190.2 274.1 189.3 273.4 188.8 272.7C188.3 272.0 187.7 270.8 188.0 270.1Z"/></clipPath><path d="M188.0 270.1C188.4 269.3 190.4 268.8 190.8 268.2C191.2 267.5 190.0 266.6 190.5 266.1C191.0 265.6 192.9 265.6 194.0 265.1C195.0 264.7 195.9 263.6 196.9 263.5C197.8 263.3 198.6 264.2 199.6 264.2C200.7 264.2 202.4 263.4 203.1 263.4C203.9 263.4 203.9 264.1 204.2 264.4C204.6 264.8 205.5 265.0 205.3 265.4C205.2 265.9 203.9 266.6 203.4 267.1C203.0 267.6 203.0 268.0 202.7 268.5C202.3 269.0 201.8 269.5 201.3 269.9C200.8 270.4 200.3 270.6 199.7 271.2C199.1 271.8 198.5 272.9 197.8 273.4C197.1 273.9 196.3 273.7 195.5 274.0C194.7 274.2 193.6 274.8 192.8 274.8C192.1 274.9 191.6 274.9 190.9 274.5C190.2 274.1 189.3 273.4 188.8 272.7C188.3 272.0 187.7 270.8 188.0 270.1Z" fill="#e65a5a"/><g clip-path="url(#cI3)"><circle cx="190.9" cy="272.6" r="1.03" fill="#980a0a" opacity="0.23"/><circle cx="196.6" cy="266.3" r="1.19" fill="#980a0a" opacity="0.41"/><circle cx="198.3" cy="264.2" r="1.60" fill="#980a0a" opacity="0.27"/><circle cx="196.8" cy="269.6" r="1.38" fill="#980a0a" opacity="0.36"/><circle cx="201.2" cy="267.9" r="1.36" fill="#980a0a" opacity="0.20"/><circle cx="188.6" cy="269.0" r="1.42" fill="#980a0a" opacity="0.30"/><circle cx="198.8" cy="265.3" r="1.55" fill="#980a0a" opacity="0.26"/><circle cx="195.9" cy="271.7" r="0.88" fill="#980a0a" opacity="0.27"/><circle cx="189.0" cy="264.1" r="1.44" fill="#980a0a" opacity="0.40"/><circle cx="197.2" cy="266.5" r="0.52" fill="#ffd870" opacity="0.77"/><circle cx="202.3" cy="272.1" r="0.72" fill="#ffd870" opacity="0.65"/><circle cx="194.5" cy="269.4" r="0.56" fill="#ffc860" opacity="0.61"/><circle cx="189.2" cy="264.7" r="0.74" fill="#ffffff" opacity="0.64"/><circle cx="204.6" cy="274.0" r="0.66" fill="#ffc860" opacity="0.61"/><circle cx="191.5" cy="268.4" r="1.19" fill="#ffc860" opacity="0.66"/><circle cx="198.9" cy="266.7" r="1.28" fill="#ffc860" opacity="0.60"/><circle cx="196.1" cy="266.0" r="0.81" fill="#ffffff" opacity="0.59"/><circle cx="202.7" cy="271.4" r="1.17" fill="#ffffff" opacity="0.42"/><circle cx="188.1" cy="270.1" r="0.98" fill="#ffd878" opacity="0.47"/><circle cx="194.0" cy="265.2" r="0.96" fill="#ffd878" opacity="0.60"/><circle cx="201.7" cy="264.6" r="1.46" fill="#ffd878" opacity="0.57"/><circle cx="192.8" cy="274.8" r="1.26" fill="#ffd878" opacity="0.61"/><circle cx="197.6" cy="272.6" r="1.32" fill="#ffd878" opacity="0.44"/><ellipse cx="191" cy="270" rx="2.5" ry="2" fill="#ffe49a" opacity="0.5" filter="url(#bl2)"/><ellipse cx="197" cy="268" rx="4" ry="2.5" fill="#fff2ee" opacity="0.6" filter="url(#bl2)"/></g><path d="M188.0 270.1C188.4 269.3 190.4 268.8 190.8 268.2C191.2 267.5 190.0 266.6 190.5 266.1C191.0 265.6 192.9 265.6 194.0 265.1C195.0 264.7 195.9 263.6 196.9 263.5C197.8 263.3 198.6 264.2 199.6 264.2C200.7 264.2 202.4 263.4 203.1 263.4C203.9 263.4 203.9 264.1 204.2 264.4C204.6 264.8 205.5 265.0 205.3 265.4C205.2 265.9 203.9 266.6 203.4 267.1C203.0 267.6 203.0 268.0 202.7 268.5C202.3 269.0 201.8 269.5 201.3 269.9C200.8 270.4 200.3 270.6 199.7 271.2C199.1 271.8 198.5 272.9 197.8 273.4C197.1 273.9 196.3 273.7 195.5 274.0C194.7 274.2 193.6 274.8 192.8 274.8C192.1 274.9 191.6 274.9 190.9 274.5C190.2 274.1 189.3 273.4 188.8 272.7C188.3 272.0 187.7 270.8 188.0 270.1Z" fill="none" stroke="#8e0c10" stroke-width="1.1" stroke-opacity="0.32"/><clipPath id="cI4"><path d="M230.4 267.7C230.5 267.1 231.3 266.4 231.7 265.8C232.2 265.2 232.4 264.1 233.0 264.0C233.6 263.8 234.6 264.9 235.4 264.8C236.2 264.7 237.0 263.4 237.7 263.4C238.5 263.4 239.3 264.1 239.6 264.7C240.0 265.3 240.0 266.2 240.1 266.9C240.2 267.6 240.4 268.3 240.2 268.9C240.0 269.5 239.3 270.1 238.8 270.5C238.3 271.0 237.8 271.5 237.1 271.7C236.4 271.9 235.4 271.7 234.6 271.7C233.9 271.8 233.1 272.1 232.6 272.0C232.0 271.9 231.6 271.4 231.3 270.9C231.1 270.5 231.3 269.8 231.2 269.2C231.0 268.7 230.3 268.2 230.4 267.7Z"/></clipPath><path d="M230.4 267.7C230.5 267.1 231.3 266.4 231.7 265.8C232.2 265.2 232.4 264.1 233.0 264.0C233.6 263.8 234.6 264.9 235.4 264.8C236.2 264.7 237.0 263.4 237.7 263.4C238.5 263.4 239.3 264.1 239.6 264.7C240.0 265.3 240.0 266.2 240.1 266.9C240.2 267.6 240.4 268.3 240.2 268.9C240.0 269.5 239.3 270.1 238.8 270.5C238.3 271.0 237.8 271.5 237.1 271.7C236.4 271.9 235.4 271.7 234.6 271.7C233.9 271.8 233.1 272.1 232.6 272.0C232.0 271.9 231.6 271.4 231.3 270.9C231.1 270.5 231.3 269.8 231.2 269.2C231.0 268.7 230.3 268.2 230.4 267.7Z" fill="#dc2618"/><g clip-path="url(#cI4)"><circle cx="231.9" cy="268.3" r="1.41" fill="#980a0a" opacity="0.29"/><circle cx="234.6" cy="267.1" r="1.13" fill="#980a0a" opacity="0.42"/><circle cx="232.9" cy="271.0" r="1.26" fill="#980a0a" opacity="0.41"/><circle cx="238.7" cy="265.2" r="0.91" fill="#ffffff" opacity="0.75"/></g><path d="M230.4 267.7C230.5 267.1 231.3 266.4 231.7 265.8C232.2 265.2 232.4 264.1 233.0 264.0C233.6 263.8 234.6 264.9 235.4 264.8C236.2 264.7 237.0 263.4 237.7 263.4C238.5 263.4 239.3 264.1 239.6 264.7C240.0 265.3 240.0 266.2 240.1 266.9C240.2 267.6 240.4 268.3 240.2 268.9C240.0 269.5 239.3 270.1 238.8 270.5C238.3 271.0 237.8 271.5 237.1 271.7C236.4 271.9 235.4 271.7 234.6 271.7C233.9 271.8 233.1 272.1 232.6 272.0C232.0 271.9 231.6 271.4 231.3 270.9C231.1 270.5 231.3 269.8 231.2 269.2C231.0 268.7 230.3 268.2 230.4 267.7Z" fill="none" stroke="#8e0c10" stroke-width="1.1" stroke-opacity="0.32"/><clipPath id="cJ1"><path d="M108.6 290.8C109.0 290.3 110.0 289.7 110.3 289.1C110.7 288.4 110.4 287.4 110.8 286.9C111.3 286.4 112.3 286.2 113.2 286.1C114.1 286.0 115.4 286.3 116.3 286.2C117.2 286.1 117.7 285.9 118.5 285.5C119.2 285.1 120.1 283.8 120.8 283.7C121.6 283.5 122.4 284.2 123.1 284.6C123.8 284.9 124.5 285.2 125.2 285.7C125.8 286.1 126.7 286.7 126.9 287.4C127.2 288.1 126.9 289.2 126.7 290.0C126.5 290.8 125.8 291.5 125.6 292.2C125.4 293.0 126.0 293.9 125.7 294.7C125.4 295.5 124.5 296.4 123.8 297.1C123.1 297.8 122.3 298.9 121.6 298.9C120.8 299.0 119.9 297.8 119.2 297.7C118.4 297.5 117.9 297.9 117.0 297.9C116.1 297.9 114.7 298.1 113.9 297.8C113.0 297.5 112.4 296.6 111.8 296.1C111.2 295.6 110.8 295.3 110.3 294.9C109.8 294.5 109.4 294.1 109.0 293.7C108.7 293.2 108.3 292.8 108.2 292.3C108.2 291.8 108.3 291.4 108.6 290.8Z"/></clipPath><path d="M108.6 290.8C109.0 290.3 110.0 289.7 110.3 289.1C110.7 288.4 110.4 287.4 110.8 286.9C111.3 286.4 112.3 286.2 113.2 286.1C114.1 286.0 115.4 286.3 116.3 286.2C117.2 286.1 117.7 285.9 118.5 285.5C119.2 285.1 120.1 283.8 120.8 283.7C121.6 283.5 122.4 284.2 123.1 284.6C123.8 284.9 124.5 285.2 125.2 285.7C125.8 286.1 126.7 286.7 126.9 287.4C127.2 288.1 126.9 289.2 126.7 290.0C126.5 290.8 125.8 291.5 125.6 292.2C125.4 293.0 126.0 293.9 125.7 294.7C125.4 295.5 124.5 296.4 123.8 297.1C123.1 297.8 122.3 298.9 121.6 298.9C120.8 299.0 119.9 297.8 119.2 297.7C118.4 297.5 117.9 297.9 117.0 297.9C116.1 297.9 114.7 298.1 113.9 297.8C113.0 297.5 112.4 296.6 111.8 296.1C111.2 295.6 110.8 295.3 110.3 294.9C109.8 294.5 109.4 294.1 109.0 293.7C108.7 293.2 108.3 292.8 108.2 292.3C108.2 291.8 108.3 291.4 108.6 290.8Z" fill="#dc2a18"/><g clip-path="url(#cJ1)"><circle cx="111.1" cy="288.3" r="0.86" fill="#980a0a" opacity="0.32"/><circle cx="121.8" cy="284.4" r="1.29" fill="#980a0a" opacity="0.22"/><circle cx="114.1" cy="292.3" r="1.18" fill="#980a0a" opacity="0.17"/><circle cx="119.1" cy="291.5" r="0.87" fill="#980a0a" opacity="0.20"/><circle cx="112.6" cy="284.1" r="0.96" fill="#980a0a" opacity="0.33"/><circle cx="122.0" cy="285.1" r="1.55" fill="#980a0a" opacity="0.32"/><circle cx="117.6" cy="292.4" r="1.36" fill="#980a0a" opacity="0.41"/><circle cx="114.5" cy="289.5" r="0.72" fill="#980a0a" opacity="0.25"/><circle cx="118.0" cy="293.1" r="1.32" fill="#980a0a" opacity="0.37"/><circle cx="112.2" cy="291.5" r="0.73" fill="#980a0a" opacity="0.29"/><circle cx="122.3" cy="288.0" r="1.00" fill="#980a0a" opacity="0.16"/><circle cx="113.7" cy="298.6" r="1.08" fill="#980a0a" opacity="0.31"/><circle cx="116.3" cy="286.6" r="0.98" fill="#980a0a" opacity="0.33"/><circle cx="118.9" cy="293.8" r="1.05" fill="#980a0a" opacity="0.35"/><circle cx="113.4" cy="297.8" r="1.08" fill="#ffd8d0" opacity="0.46"/><circle cx="113.6" cy="292.3" r="1.09" fill="#ffe8b0" opacity="0.59"/><circle cx="117.8" cy="289.8" r="1.29" fill="#ffe8e0" opacity="0.44"/><circle cx="110.8" cy="292.8" r="0.92" fill="#ffd8d0" opacity="0.64"/><circle cx="110.8" cy="286.3" r="0.75" fill="#ffffff" opacity="0.76"/><circle cx="113.2" cy="298.3" r="1.25" fill="#ffe8b0" opacity="0.48"/><circle cx="120.7" cy="291.7" r="1.27" fill="#ffe8b0" opacity="0.77"/><circle cx="126.3" cy="284.5" r="0.69" fill="#ffc8c0" opacity="0.46"/><ellipse cx="111" cy="292" rx="2" ry="2" fill="#ffe49a" opacity="0.5" filter="url(#bl2)"/><ellipse cx="121" cy="287" rx="2" ry="2" fill="#1e0404" opacity="0.42000000000000004" filter="url(#bl2)"/></g><path d="M108.6 290.8C109.0 290.3 110.0 289.7 110.3 289.1C110.7 288.4 110.4 287.4 110.8 286.9C111.3 286.4 112.3 286.2 113.2 286.1C114.1 286.0 115.4 286.3 116.3 286.2C117.2 286.1 117.7 285.9 118.5 285.5C119.2 285.1 120.1 283.8 120.8 283.7C121.6 283.5 122.4 284.2 123.1 284.6C123.8 284.9 124.5 285.2 125.2 285.7C125.8 286.1 126.7 286.7 126.9 287.4C127.2 288.1 126.9 289.2 126.7 290.0C126.5 290.8 125.8 291.5 125.6 292.2C125.4 293.0 126.0 293.9 125.7 294.7C125.4 295.5 124.5 296.4 123.8 297.1C123.1 297.8 122.3 298.9 121.6 298.9C120.8 299.0 119.9 297.8 119.2 297.7C118.4 297.5 117.9 297.9 117.0 297.9C116.1 297.9 114.7 298.1 113.9 297.8C113.0 297.5 112.4 296.6 111.8 296.1C111.2 295.6 110.8 295.3 110.3 294.9C109.8 294.5 109.4 294.1 109.0 293.7C108.7 293.2 108.3 292.8 108.2 292.3C108.2 291.8 108.3 291.4 108.6 290.8Z" fill="none" stroke="#8e0c10" stroke-width="1.1" stroke-opacity="0.32"/><clipPath id="cJ2"><path d="M144.1 288.5C144.6 287.9 145.8 288.0 146.5 287.7C147.2 287.4 147.6 287.0 148.4 286.8C149.2 286.7 150.5 287.0 151.3 286.9C152.1 286.8 152.6 286.7 153.2 286.3C153.8 286.0 154.4 285.3 155.0 284.8C155.7 284.2 156.3 283.1 157.0 282.9C157.6 282.7 158.4 283.3 159.1 283.5C159.8 283.7 160.8 283.6 161.3 284.1C161.8 284.5 161.7 285.6 162.1 286.4C162.5 287.1 163.5 287.8 163.5 288.5C163.5 289.2 162.4 289.7 162.0 290.4C161.7 291.0 162.0 291.9 161.3 292.5C160.6 293.0 159.2 293.4 158.1 293.7C157.0 294.0 155.8 294.0 154.7 294.2C153.7 294.5 152.7 294.9 151.6 295.2C150.6 295.4 149.2 295.8 148.3 295.7C147.5 295.6 146.9 295.0 146.5 294.6C146.0 294.1 146.0 293.5 145.6 292.9C145.1 292.3 143.9 291.7 143.7 291.0C143.4 290.3 143.7 289.0 144.1 288.5Z"/></clipPath><path d="M144.1 288.5C144.6 287.9 145.8 288.0 146.5 287.7C147.2 287.4 147.6 287.0 148.4 286.8C149.2 286.7 150.5 287.0 151.3 286.9C152.1 286.8 152.6 286.7 153.2 286.3C153.8 286.0 154.4 285.3 155.0 284.8C155.7 284.2 156.3 283.1 157.0 282.9C157.6 282.7 158.4 283.3 159.1 283.5C159.8 283.7 160.8 283.6 161.3 284.1C161.8 284.5 161.7 285.6 162.1 286.4C162.5 287.1 163.5 287.8 163.5 288.5C163.5 289.2 162.4 289.7 162.0 290.4C161.7 291.0 162.0 291.9 161.3 292.5C160.6 293.0 159.2 293.4 158.1 293.7C157.0 294.0 155.8 294.0 154.7 294.2C153.7 294.5 152.7 294.9 151.6 295.2C150.6 295.4 149.2 295.8 148.3 295.7C147.5 295.6 146.9 295.0 146.5 294.6C146.0 294.1 146.0 293.5 145.6 292.9C145.1 292.3 143.9 291.7 143.7 291.0C143.4 290.3 143.7 289.0 144.1 288.5Z" fill="#de2a18"/><g clip-path="url(#cJ2)"><circle cx="159.3" cy="290.5" r="1.43" fill="#980a0a" opacity="0.26"/><circle cx="150.9" cy="284.9" r="0.89" fill="#980a0a" opacity="0.19"/><circle cx="152.6" cy="285.8" r="1.16" fill="#980a0a" opacity="0.36"/><circle cx="157.2" cy="283.8" r="1.21" fill="#980a0a" opacity="0.41"/><circle cx="154.9" cy="293.6" r="1.26" fill="#980a0a" opacity="0.33"/><circle cx="145.7" cy="292.4" r="1.34" fill="#980a0a" opacity="0.36"/><circle cx="149.9" cy="293.7" r="1.21" fill="#980a0a" opacity="0.34"/><circle cx="155.0" cy="284.5" r="0.73" fill="#980a0a" opacity="0.25"/><circle cx="144.4" cy="287.7" r="0.88" fill="#980a0a" opacity="0.16"/><circle cx="151.7" cy="295.2" r="1.56" fill="#980a0a" opacity="0.31"/><circle cx="146.1" cy="285.6" r="0.92" fill="#980a0a" opacity="0.37"/><circle cx="157.8" cy="292.9" r="1.41" fill="#980a0a" opacity="0.40"/><circle cx="152.7" cy="287.6" r="1.03" fill="#ffd8d0" opacity="0.43"/><circle cx="152.7" cy="289.2" r="1.29" fill="#ffffff" opacity="0.55"/><circle cx="147.0" cy="287.5" r="0.98" fill="#ffc8c0" opacity="0.46"/><circle cx="148.2" cy="285.5" r="0.70" fill="#ffc8c0" opacity="0.63"/><circle cx="162.8" cy="287.2" r="1.06" fill="#ffe8e0" opacity="0.65"/><circle cx="158.4" cy="294.8" r="0.54" fill="#ffe8e0" opacity="0.44"/><circle cx="159.6" cy="291.3" r="0.60" fill="#ffe8e0" opacity="0.68"/><ellipse cx="155" cy="289" rx="2" ry="1.5" fill="#ffe49a" opacity="0.6" filter="url(#bl2)"/></g><path d="M144.1 288.5C144.6 287.9 145.8 288.0 146.5 287.7C147.2 287.4 147.6 287.0 148.4 286.8C149.2 286.7 150.5 287.0 151.3 286.9C152.1 286.8 152.6 286.7 153.2 286.3C153.8 286.0 154.4 285.3 155.0 284.8C155.7 284.2 156.3 283.1 157.0 282.9C157.6 282.7 158.4 283.3 159.1 283.5C159.8 283.7 160.8 283.6 161.3 284.1C161.8 284.5 161.7 285.6 162.1 286.4C162.5 287.1 163.5 287.8 163.5 288.5C163.5 289.2 162.4 289.7 162.0 290.4C161.7 291.0 162.0 291.9 161.3 292.5C160.6 293.0 159.2 293.4 158.1 293.7C157.0 294.0 155.8 294.0 154.7 294.2C153.7 294.5 152.7 294.9 151.6 295.2C150.6 295.4 149.2 295.8 148.3 295.7C147.5 295.6 146.9 295.0 146.5 294.6C146.0 294.1 146.0 293.5 145.6 292.9C145.1 292.3 143.9 291.7 143.7 291.0C143.4 290.3 143.7 289.0 144.1 288.5Z" fill="none" stroke="#8e0c10" stroke-width="1.1" stroke-opacity="0.32"/><clipPath id="cJ3"><path d="M188.1 289.2C188.1 288.4 189.5 288.0 190.0 287.4C190.5 286.8 190.6 286.2 191.1 285.6C191.7 285.0 192.3 284.0 193.3 283.7C194.2 283.4 195.8 283.4 196.9 283.7C197.9 284.0 198.6 285.0 199.6 285.2C200.6 285.5 202.1 285.1 203.0 285.4C203.9 285.7 204.6 286.4 205.1 287.0C205.5 287.7 205.9 288.5 205.6 289.2C205.3 289.8 203.7 290.3 203.2 290.9C202.7 291.5 203.1 292.2 202.7 292.9C202.2 293.6 201.3 294.5 200.4 294.9C199.4 295.4 197.8 295.8 196.9 295.7C195.9 295.6 195.6 294.2 194.7 294.0C193.8 293.8 192.4 294.8 191.6 294.5C190.8 294.1 190.4 292.8 189.9 292.0C189.3 291.1 188.1 289.9 188.1 289.2Z"/></clipPath><path d="M188.1 289.2C188.1 288.4 189.5 288.0 190.0 287.4C190.5 286.8 190.6 286.2 191.1 285.6C191.7 285.0 192.3 284.0 193.3 283.7C194.2 283.4 195.8 283.4 196.9 283.7C197.9 284.0 198.6 285.0 199.6 285.2C200.6 285.5 202.1 285.1 203.0 285.4C203.9 285.7 204.6 286.4 205.1 287.0C205.5 287.7 205.9 288.5 205.6 289.2C205.3 289.8 203.7 290.3 203.2 290.9C202.7 291.5 203.1 292.2 202.7 292.9C202.2 293.6 201.3 294.5 200.4 294.9C199.4 295.4 197.8 295.8 196.9 295.7C195.9 295.6 195.6 294.2 194.7 294.0C193.8 293.8 192.4 294.8 191.6 294.5C190.8 294.1 190.4 292.8 189.9 292.0C189.3 291.1 188.1 289.9 188.1 289.2Z" fill="#de2a18"/><g clip-path="url(#cJ3)"><circle cx="199.9" cy="289.4" r="1.38" fill="#980a0a" opacity="0.38"/><circle cx="200.1" cy="290.4" r="1.37" fill="#980a0a" opacity="0.28"/><circle cx="199.6" cy="289.9" r="0.77" fill="#980a0a" opacity="0.38"/><circle cx="204.4" cy="293.6" r="0.82" fill="#980a0a" opacity="0.36"/><circle cx="189.1" cy="284.9" r="0.90" fill="#980a0a" opacity="0.33"/><circle cx="190.2" cy="292.3" r="1.34" fill="#980a0a" opacity="0.37"/><circle cx="204.8" cy="291.7" r="0.98" fill="#980a0a" opacity="0.15"/><circle cx="192.5" cy="289.3" r="0.88" fill="#980a0a" opacity="0.40"/><circle cx="197.5" cy="293.5" r="1.52" fill="#980a0a" opacity="0.35"/><circle cx="203.4" cy="286.6" r="1.02" fill="#ffffff" opacity="0.79"/><circle cx="188.8" cy="292.8" r="0.98" fill="#ffd8d0" opacity="0.74"/><circle cx="194.6" cy="293.7" r="0.92" fill="#ffc8c0" opacity="0.69"/><circle cx="201.7" cy="293.4" r="0.52" fill="#ffffff" opacity="0.80"/><circle cx="202.5" cy="293.4" r="1.17" fill="#ffe8b0" opacity="0.75"/><ellipse cx="195" cy="290" rx="2" ry="1.5" fill="#ffe49a" opacity="0.6" filter="url(#bl2)"/></g><path d="M188.1 289.2C188.1 288.4 189.5 288.0 190.0 287.4C190.5 286.8 190.6 286.2 191.1 285.6C191.7 285.0 192.3 284.0 193.3 283.7C194.2 283.4 195.8 283.4 196.9 283.7C197.9 284.0 198.6 285.0 199.6 285.2C200.6 285.5 202.1 285.1 203.0 285.4C203.9 285.7 204.6 286.4 205.1 287.0C205.5 287.7 205.9 288.5 205.6 289.2C205.3 289.8 203.7 290.3 203.2 290.9C202.7 291.5 203.1 292.2 202.7 292.9C202.2 293.6 201.3 294.5 200.4 294.9C199.4 295.4 197.8 295.8 196.9 295.7C195.9 295.6 195.6 294.2 194.7 294.0C193.8 293.8 192.4 294.8 191.6 294.5C190.8 294.1 190.4 292.8 189.9 292.0C189.3 291.1 188.1 289.9 188.1 289.2Z" fill="none" stroke="#8e0c10" stroke-width="1.1" stroke-opacity="0.32"/><clipPath id="cJ4"><path d="M236.3 283.2C237.0 282.8 237.9 281.2 238.7 280.7C239.4 280.3 239.7 280.6 240.6 280.3C241.6 280.1 243.4 279.4 244.3 279.5C245.1 279.6 245.5 280.3 245.9 281.0C246.3 281.8 246.0 283.0 246.4 283.9C246.8 284.7 248.3 285.4 248.4 286.2C248.5 287.0 247.5 287.7 247.1 288.5C246.7 289.2 246.5 290.2 246.1 290.8C245.7 291.3 245.5 291.6 244.8 291.8C244.1 292.0 242.9 291.9 241.8 292.1C240.7 292.2 239.5 292.4 238.4 292.8C237.3 293.3 236.3 294.7 235.3 295.0C234.3 295.2 233.2 294.5 232.2 294.4C231.1 294.2 229.8 294.2 228.9 294.0C228.0 293.8 227.1 293.5 226.6 293.1C226.1 292.7 225.9 292.0 225.9 291.5C225.8 291.0 225.9 290.6 226.2 290.1C226.5 289.6 226.7 289.1 227.6 288.5C228.4 287.9 230.4 287.2 231.2 286.4C231.9 285.6 231.7 284.2 232.2 283.7C232.7 283.2 233.5 283.3 234.1 283.3C234.8 283.2 235.5 283.7 236.3 283.2Z"/></clipPath><path d="M236.3 283.2C237.0 282.8 237.9 281.2 238.7 280.7C239.4 280.3 239.7 280.6 240.6 280.3C241.6 280.1 243.4 279.4 244.3 279.5C245.1 279.6 245.5 280.3 245.9 281.0C246.3 281.8 246.0 283.0 246.4 283.9C246.8 284.7 248.3 285.4 248.4 286.2C248.5 287.0 247.5 287.7 247.1 288.5C246.7 289.2 246.5 290.2 246.1 290.8C245.7 291.3 245.5 291.6 244.8 291.8C244.1 292.0 242.9 291.9 241.8 292.1C240.7 292.2 239.5 292.4 238.4 292.8C237.3 293.3 236.3 294.7 235.3 295.0C234.3 295.2 233.2 294.5 232.2 294.4C231.1 294.2 229.8 294.2 228.9 294.0C228.0 293.8 227.1 293.5 226.6 293.1C226.1 292.7 225.9 292.0 225.9 291.5C225.8 291.0 225.9 290.6 226.2 290.1C226.5 289.6 226.7 289.1 227.6 288.5C228.4 287.9 230.4 287.2 231.2 286.4C231.9 285.6 231.7 284.2 232.2 283.7C232.7 283.2 233.5 283.3 234.1 283.3C234.8 283.2 235.5 283.7 236.3 283.2Z" fill="#e03020"/><g clip-path="url(#cJ4)"><circle cx="233.4" cy="282.4" r="0.88" fill="#980a0a" opacity="0.41"/><circle cx="241.7" cy="280.6" r="1.41" fill="#980a0a" opacity="0.35"/><circle cx="229.9" cy="294.6" r="1.06" fill="#980a0a" opacity="0.23"/><circle cx="243.2" cy="285.7" r="1.17" fill="#980a0a" opacity="0.21"/><circle cx="247.6" cy="292.0" r="1.55" fill="#980a0a" opacity="0.22"/><circle cx="238.8" cy="281.8" r="1.00" fill="#980a0a" opacity="0.28"/><circle cx="247.8" cy="291.9" r="1.59" fill="#980a0a" opacity="0.40"/><circle cx="230.9" cy="280.9" r="1.51" fill="#980a0a" opacity="0.41"/><circle cx="244.7" cy="282.8" r="1.09" fill="#980a0a" opacity="0.34"/><circle cx="244.8" cy="282.2" r="1.15" fill="#980a0a" opacity="0.24"/><circle cx="246.4" cy="287.5" r="1.43" fill="#980a0a" opacity="0.18"/><circle cx="234.9" cy="290.2" r="1.18" fill="#980a0a" opacity="0.25"/><circle cx="237.0" cy="283.7" r="1.50" fill="#980a0a" opacity="0.41"/><circle cx="233.4" cy="292.7" r="1.38" fill="#980a0a" opacity="0.36"/><circle cx="233.8" cy="294.6" r="1.47" fill="#980a0a" opacity="0.23"/><circle cx="246.7" cy="291.5" r="1.09" fill="#980a0a" opacity="0.20"/><circle cx="233.4" cy="291.4" r="0.61" fill="#ffc8c0" opacity="0.40"/><circle cx="242.3" cy="284.0" r="1.01" fill="#ffd8d0" opacity="0.61"/><circle cx="238.8" cy="282.8" r="0.53" fill="#ffc8c0" opacity="0.74"/><circle cx="246.9" cy="294.5" r="0.52" fill="#ffffff" opacity="0.48"/><circle cx="242.6" cy="284.2" r="0.70" fill="#ffe8e0" opacity="0.66"/><circle cx="240.8" cy="283.9" r="0.95" fill="#ffe8b0" opacity="0.42"/><circle cx="235.0" cy="292.3" r="0.97" fill="#ffc8c0" opacity="0.60"/><circle cx="227.1" cy="290.7" r="0.79" fill="#ffe8e0" opacity="0.52"/><circle cx="243.3" cy="290.5" r="0.81" fill="#ffd8d0" opacity="0.79"/><ellipse cx="230" cy="290" rx="4" ry="3" fill="#ffe49a" opacity="0.75" filter="url(#bl2)"/><ellipse cx="243" cy="285" rx="2" ry="1.5" fill="#ffe49a" opacity="0.4" filter="url(#bl2)"/><ellipse cx="230" cy="290" rx="4" ry="3" fill="#fff2ee" opacity="0.6" filter="url(#bl2)"/></g><path d="M236.3 283.2C237.0 282.8 237.9 281.2 238.7 280.7C239.4 280.3 239.7 280.6 240.6 280.3C241.6 280.1 243.4 279.4 244.3 279.5C245.1 279.6 245.5 280.3 245.9 281.0C246.3 281.8 246.0 283.0 246.4 283.9C246.8 284.7 248.3 285.4 248.4 286.2C248.5 287.0 247.5 287.7 247.1 288.5C246.7 289.2 246.5 290.2 246.1 290.8C245.7 291.3 245.5 291.6 244.8 291.8C244.1 292.0 242.9 291.9 241.8 292.1C240.7 292.2 239.5 292.4 238.4 292.8C237.3 293.3 236.3 294.7 235.3 295.0C234.3 295.2 233.2 294.5 232.2 294.4C231.1 294.2 229.8 294.2 228.9 294.0C228.0 293.8 227.1 293.5 226.6 293.1C226.1 292.7 225.9 292.0 225.9 291.5C225.8 291.0 225.9 290.6 226.2 290.1C226.5 289.6 226.7 289.1 227.6 288.5C228.4 287.9 230.4 287.2 231.2 286.4C231.9 285.6 231.7 284.2 232.2 283.7C232.7 283.2 233.5 283.3 234.1 283.3C234.8 283.2 235.5 283.7 236.3 283.2Z" fill="none" stroke="#8e0c10" stroke-width="1.1" stroke-opacity="0.32"/></g><rect x="208.9" y="296.8" width="15.3" height="2.2" fill="#000"/></g>
<rect x="104.5" y="31.5" width="153" height="270" fill="none" stroke="#8c8c8c" stroke-width="1"/>
<rect x="318.5" y="33.3" width="198.10000000000002" height="218.0" fill="none" stroke="#808080" stroke-width="1.1"/>
<text transform="translate(313.80 254.60) scale(0.93 1)" font-size="10.5" text-anchor="end" fill="#1a1a1a">0</text>
<line x1="318.50" y1="209.65" x2="322.50" y2="209.65" stroke="#bbb" stroke-width="1"/>
<text transform="translate(313.80 213.45) scale(0.93 1)" font-size="10.5" text-anchor="end" fill="#1a1a1a">100</text>
<line x1="318.50" y1="168.50" x2="322.50" y2="168.50" stroke="#bbb" stroke-width="1"/>
<text transform="translate(313.80 172.30) scale(0.93 1)" font-size="10.5" text-anchor="end" fill="#1a1a1a">200</text>
<line x1="318.50" y1="127.35" x2="322.50" y2="127.35" stroke="#bbb" stroke-width="1"/>
<text transform="translate(313.80 131.15) scale(0.93 1)" font-size="10.5" text-anchor="end" fill="#1a1a1a">300</text>
<line x1="318.50" y1="86.20" x2="322.50" y2="86.20" stroke="#bbb" stroke-width="1"/>
<text transform="translate(313.80 90.00) scale(0.93 1)" font-size="10.5" text-anchor="end" fill="#1a1a1a">400</text>
<line x1="318.50" y1="45.05" x2="322.50" y2="45.05" stroke="#bbb" stroke-width="1"/>
<text transform="translate(313.80 48.85) scale(0.93 1)" font-size="10.5" text-anchor="end" fill="#1a1a1a">500</text>
<line x1="340.30" y1="251.30" x2="340.30" y2="248.30" stroke="#bbb" stroke-width="1"/>
<line x1="380.00" y1="251.30" x2="380.00" y2="248.30" stroke="#bbb" stroke-width="1"/>
<line x1="419.30" y1="251.30" x2="419.30" y2="248.30" stroke="#bbb" stroke-width="1"/>
<line x1="458.80" y1="251.30" x2="458.80" y2="248.30" stroke="#bbb" stroke-width="1"/>
<line x1="498.40" y1="251.30" x2="498.40" y2="248.30" stroke="#bbb" stroke-width="1"/>
<text x="293.40" y="148.60" font-size="10.5" text-anchor="middle" font-weight="normal" fill="#1a1a1a" transform="rotate(-90 293.4 148.6)">Tumor volume (mm<tspan font-size="6.5" dy="-3">3</tspan><tspan dy="3">)</tspan></text>
<text x="344.20" y="255.00" font-size="10" text-anchor="end" font-weight="normal" fill="#1a1a1a" transform="rotate(-90 344.20000000000005 255.0)">PBS</text>
<text x="383.20" y="255.00" font-size="10" text-anchor="end" font-weight="normal" fill="#1a1a1a" transform="rotate(-90 383.20000000000005 255.0)">Ctrl-miR</text>
<text x="423.20" y="255.00" font-size="10" text-anchor="end" font-weight="normal" fill="#1a1a1a" transform="rotate(-90 423.20000000000005 255.0)">miR-27a*</text>
<text x="456.20" y="255.00" font-size="10" text-anchor="end" font-weight="normal" fill="#1a1a1a" transform="rotate(-90 456.20000000000005 255.0)">miR-27a*</text>
<text x="468.20" y="255.00" font-size="10" text-anchor="end" font-weight="normal" fill="#1a1a1a" transform="rotate(-90 468.20000000000005 255.0)">inhibitor</text>
<text x="501.60" y="255.00" font-size="10" text-anchor="end" font-weight="normal" fill="#1a1a1a" transform="rotate(-90 501.6 255.0)">Doxorubicin</text>
<g id="sigC"><circle cx="376.00" cy="45.00" r="1.3" fill="#111"/><circle cx="380.00" cy="45.00" r="1.3" fill="#111"/><circle cx="384.00" cy="45.00" r="1.3" fill="#111"/><circle cx="455.00" cy="45.00" r="1.3" fill="#111"/><circle cx="459.00" cy="45.00" r="1.3" fill="#111"/><circle cx="463.00" cy="45.00" r="1.3" fill="#111"/><circle cx="494.50" cy="45.00" r="1.3" fill="#111"/><circle cx="498.50" cy="45.00" r="1.3" fill="#111"/><circle cx="502.50" cy="45.00" r="1.3" fill="#111"/><circle cx="417.00" cy="109.60" r="1.3" fill="#111"/><circle cx="421.00" cy="109.60" r="1.3" fill="#111"/><circle cx="458.50" cy="109.60" r="1.3" fill="#111"/><circle cx="498.50" cy="109.60" r="1.3" fill="#111"/><text x="418" y="48.2" font-size="10" text-anchor="middle" fill="#1a1a1a">ns</text></g>
<path d="M339.6 52 V45.2 H361.3" fill="none" stroke="#333" stroke-width="1.3"/>
<path d="M379.5 135.7 V109.2 H400" fill="none" stroke="#333" stroke-width="1.3"/>
<line x1="324.10" y1="131.80" x2="355.80" y2="131.80" stroke="#22418e" stroke-width="2.2"/>
<line x1="364.50" y1="186.80" x2="395.70" y2="186.80" stroke="#22418e" stroke-width="2.2"/>
<line x1="403.50" y1="160.80" x2="434.60" y2="160.80" stroke="#22418e" stroke-width="2.2"/>
<line x1="442.40" y1="206.30" x2="474.20" y2="206.30" stroke="#22418e" stroke-width="2.2"/>
<line x1="482.40" y1="205.60" x2="513.80" y2="205.60" stroke="#22418e" stroke-width="2.2"/>
<circle cx="340.00" cy="60.60" r="3.3" fill="#fff" stroke="#333" stroke-width="1"/>
<circle cx="340.00" cy="104.50" r="3.3" fill="#fff" stroke="#333" stroke-width="1"/>
<circle cx="331.00" cy="108.20" r="3.3" fill="#fff" stroke="#333" stroke-width="1"/>
<circle cx="340.00" cy="125.70" r="3.3" fill="#fff" stroke="#333" stroke-width="1"/>
<circle cx="340.00" cy="147.60" r="3.3" fill="#fff" stroke="#333" stroke-width="1"/>
<circle cx="349.20" cy="155.20" r="3.3" fill="#fff" stroke="#333" stroke-width="1"/>
<circle cx="340.00" cy="160.00" r="3.3" fill="#fff" stroke="#333" stroke-width="1"/>
<circle cx="340.00" cy="168.10" r="3.3" fill="#fff" stroke="#333" stroke-width="1"/>
<circle cx="380.10" cy="163.80" r="3.6" fill="#000" stroke="none" stroke-width="1"/>
<circle cx="380.10" cy="173.30" r="3.6" fill="#000" stroke="none" stroke-width="1"/>
<circle cx="380.10" cy="183.70" r="3.6" fill="#000" stroke="none" stroke-width="1"/>
<circle cx="380.10" cy="195.50" r="3.6" fill="#000" stroke="none" stroke-width="1"/>
<circle cx="371.40" cy="199.80" r="3.6" fill="#000" stroke="none" stroke-width="1"/>
<circle cx="388.70" cy="196.90" r="3.6" fill="#000" stroke="none" stroke-width="1"/>
<circle cx="380.10" cy="202.90" r="3.6" fill="#000" stroke="none" stroke-width="1"/>
<circle cx="380.10" cy="210.20" r="3.6" fill="#000" stroke="none" stroke-width="1"/>
<path d="M419.00 121.00L422.90 128.20L415.10 128.20Z" fill="#000" stroke="none" stroke-width="1" stroke-linejoin="miter"/>
<path d="M419.00 129.90L422.90 137.10L415.10 137.10Z" fill="#000" stroke="none" stroke-width="1" stroke-linejoin="miter"/>
<path d="M419.00 149.40L422.90 156.60L415.10 156.60Z" fill="#000" stroke="none" stroke-width="1" stroke-linejoin="miter"/>
<path d="M410.00 161.00L413.90 168.20L406.10 168.20Z" fill="#000" stroke="none" stroke-width="1" stroke-linejoin="miter"/>
<path d="M419.00 158.20L422.90 165.40L415.10 165.40Z" fill="#000" stroke="none" stroke-width="1" stroke-linejoin="miter"/>
<path d="M427.70 157.20L431.60 164.40L423.80 164.40Z" fill="#000" stroke="none" stroke-width="1" stroke-linejoin="miter"/>
<path d="M419.00 188.40L422.90 195.60L415.10 195.60Z" fill="#000" stroke="none" stroke-width="1" stroke-linejoin="miter"/>
<path d="M427.70 190.40L431.60 197.60L423.80 197.60Z" fill="#000" stroke="none" stroke-width="1" stroke-linejoin="miter"/>
<rect x="445.80" y="190.10" width="7.2" height="7.2" fill="#000" stroke="none" stroke-width="1"/>
<rect x="445.80" y="198.80" width="7.2" height="7.2" fill="#000" stroke="none" stroke-width="1"/>
<rect x="454.60" y="192.20" width="7.2" height="7.2" fill="#000" stroke="none" stroke-width="1"/>
<rect x="454.60" y="201.10" width="7.2" height="7.2" fill="#000" stroke="none" stroke-width="1"/>
<rect x="454.60" y="210.00" width="7.2" height="7.2" fill="#000" stroke="none" stroke-width="1"/>
<rect x="454.60" y="219.00" width="7.2" height="7.2" fill="#000" stroke="none" stroke-width="1"/>
<rect x="463.80" y="193.40" width="7.2" height="7.2" fill="#000" stroke="none" stroke-width="1"/>
<rect x="463.80" y="207.60" width="7.2" height="7.2" fill="#000" stroke="none" stroke-width="1"/>
<path d="M498.40 182.00L502.20 189.00L494.60 189.00Z" fill="#fff" stroke="#333" stroke-width="0.9" stroke-linejoin="miter"/>
<path d="M498.40 195.90L502.20 202.90L494.60 202.90Z" fill="#fff" stroke="#333" stroke-width="0.9" stroke-linejoin="miter"/>
<path d="M489.30 200.00L493.10 207.00L485.50 207.00Z" fill="#fff" stroke="#333" stroke-width="0.9" stroke-linejoin="miter"/>
<path d="M507.20 201.60L511.00 208.60L503.40 208.60Z" fill="#fff" stroke="#333" stroke-width="0.9" stroke-linejoin="miter"/>
<path d="M489.30 207.70L493.10 214.70L485.50 214.70Z" fill="#fff" stroke="#333" stroke-width="0.9" stroke-linejoin="miter"/>
<path d="M498.40 207.70L502.20 214.70L494.60 214.70Z" fill="#fff" stroke="#333" stroke-width="0.9" stroke-linejoin="miter"/>
<path d="M507.20 209.80L511.00 216.80L503.40 216.80Z" fill="#fff" stroke="#333" stroke-width="0.9" stroke-linejoin="miter"/>
<path d="M498.40 223.70L502.20 230.70L494.60 230.70Z" fill="#fff" stroke="#333" stroke-width="0.9" stroke-linejoin="miter"/>
<rect x="36.2" y="341.4" width="229.60000000000002" height="173.70000000000005" fill="none" stroke="#808080" stroke-width="1.1"/>
<text transform="translate(32.00 519.90) scale(0.93 1)" font-size="10.5" text-anchor="end" fill="#1a1a1a">0</text>
<line x1="36.20" y1="493.33" x2="39.70" y2="493.33" stroke="#777" stroke-width="1"/>
<text transform="translate(32.00 498.13) scale(0.93 1)" font-size="10.5" text-anchor="end" fill="#1a1a1a">50</text>
<line x1="36.20" y1="471.55" x2="39.70" y2="471.55" stroke="#777" stroke-width="1"/>
<text transform="translate(32.00 476.35) scale(0.93 1)" font-size="10.5" text-anchor="end" fill="#1a1a1a">100</text>
<line x1="36.20" y1="449.78" x2="39.70" y2="449.78" stroke="#777" stroke-width="1"/>
<text transform="translate(32.00 454.58) scale(0.93 1)" font-size="10.5" text-anchor="end" fill="#1a1a1a">150</text>
<line x1="36.20" y1="428.00" x2="39.70" y2="428.00" stroke="#777" stroke-width="1"/>
<text transform="translate(32.00 432.80) scale(0.93 1)" font-size="10.5" text-anchor="end" fill="#1a1a1a">200</text>
<line x1="36.20" y1="406.23" x2="39.70" y2="406.23" stroke="#777" stroke-width="1"/>
<text transform="translate(32.00 411.03) scale(0.93 1)" font-size="10.5" text-anchor="end" fill="#1a1a1a">250</text>
<line x1="36.20" y1="384.45" x2="39.70" y2="384.45" stroke="#777" stroke-width="1"/>
<text transform="translate(32.00 389.25) scale(0.93 1)" font-size="10.5" text-anchor="end" fill="#1a1a1a">300</text>
<line x1="36.20" y1="362.68" x2="39.70" y2="362.68" stroke="#777" stroke-width="1"/>
<text transform="translate(32.00 367.48) scale(0.93 1)" font-size="10.5" text-anchor="end" fill="#1a1a1a">350</text>
<text transform="translate(32.00 345.70) scale(0.93 1)" font-size="10.5" text-anchor="end" fill="#1a1a1a">400</text>
<line x1="89.50" y1="515.10" x2="89.50" y2="513.10" stroke="#555" stroke-width="1.2"/>
<line x1="136.20" y1="515.10" x2="136.20" y2="513.10" stroke="#555" stroke-width="1.2"/>
<line x1="182.90" y1="515.10" x2="182.90" y2="513.10" stroke="#555" stroke-width="1.2"/>
<line x1="229.60" y1="515.10" x2="229.60" y2="513.10" stroke="#555" stroke-width="1.2"/>
<text transform="translate(41.10 531.20) scale(0.93 1)" font-size="10.5" text-anchor="middle" fill="#1a1a1a">0</text>
<text transform="translate(88.40 531.20) scale(0.93 1)" font-size="10.5" text-anchor="middle" fill="#1a1a1a">5</text>
<text transform="translate(135.00 531.20) scale(0.93 1)" font-size="10.5" text-anchor="middle" fill="#1a1a1a">10</text>
<text transform="translate(182.30 531.20) scale(0.93 1)" font-size="10.5" text-anchor="middle" fill="#1a1a1a">15</text>
<text transform="translate(229.20 531.20) scale(0.93 1)" font-size="10.5" text-anchor="middle" fill="#1a1a1a">20</text>
<text x="153.00" y="543.50" font-size="10.5" text-anchor="middle" font-weight="normal" fill="#1a1a1a">Days</text>
<text x="11.00" y="430.60" font-size="10.5" text-anchor="middle" font-weight="normal" fill="#1a1a1a" transform="rotate(-90 11.0 430.6)">Tumor volume (mm<tspan font-size="6.5" dy="-3">3</tspan><tspan dy="3">)</tspan></text>
<line x1="43.10" y1="484.40" x2="43.10" y2="498.20" stroke="#000" stroke-width="1.6"/>
<path d="M39.50 496.20L46.70 496.20L43.10 504.20Z" fill="#000"/>
<line x1="105.50" y1="469.80" x2="105.50" y2="485.00" stroke="#000" stroke-width="1.6"/>
<path d="M101.90 483.00L109.10 483.00L105.50 491.00Z" fill="#000"/>
<polyline points="42.80,515.10 117.52,498.68 145.54,492.02 173.56,476.34 192.24,459.79 210.92,434.10 229.60,387.06" fill="none" stroke="#000" stroke-width="1.2"/>
<polyline points="42.80,515.10 117.52,503.34 145.54,497.24 173.56,488.10 192.24,480.26 210.92,468.07 229.60,450.65" fill="none" stroke="#000" stroke-width="1.2"/>
<polyline points="42.80,515.10 117.52,501.60 145.54,494.20 173.56,483.74 192.24,473.07 210.92,451.95 229.60,419.73" fill="none" stroke="#000" stroke-width="1.2"/>
<polyline points="42.80,515.10 117.52,504.65 145.54,499.86 173.56,498.12 192.24,491.15 210.92,480.70 229.60,469.37" fill="none" stroke="#000" stroke-width="1.2"/>
<polyline points="42.80,515.10 117.52,507.00 145.54,502.69 173.56,491.58 192.24,488.53 210.92,476.78 229.60,469.37" fill="none" stroke="#000" stroke-width="1.2"/>
<line x1="145.54" y1="492.02" x2="145.54" y2="485.92" stroke="#000" stroke-width="1.1"/>
<line x1="142.74" y1="485.92" x2="148.34" y2="485.92" stroke="#000" stroke-width="1.1"/>
<line x1="173.56" y1="476.34" x2="173.56" y2="467.63" stroke="#000" stroke-width="1.1"/>
<line x1="170.76" y1="467.63" x2="176.36" y2="467.63" stroke="#000" stroke-width="1.1"/>
<line x1="192.24" y1="459.79" x2="192.24" y2="449.34" stroke="#000" stroke-width="1.1"/>
<line x1="189.44" y1="449.34" x2="195.04" y2="449.34" stroke="#000" stroke-width="1.1"/>
<line x1="210.92" y1="434.10" x2="210.92" y2="421.03" stroke="#000" stroke-width="1.1"/>
<line x1="208.12" y1="421.03" x2="213.72" y2="421.03" stroke="#000" stroke-width="1.1"/>
<line x1="229.60" y1="387.06" x2="229.60" y2="349.17" stroke="#000" stroke-width="1.1"/>
<line x1="226.80" y1="349.17" x2="232.40" y2="349.17" stroke="#000" stroke-width="1.1"/>
<line x1="192.24" y1="480.26" x2="192.24" y2="470.24" stroke="#000" stroke-width="1.1"/>
<line x1="189.44" y1="470.24" x2="195.04" y2="470.24" stroke="#000" stroke-width="1.1"/>
<line x1="210.92" y1="468.07" x2="210.92" y2="457.18" stroke="#000" stroke-width="1.1"/>
<line x1="208.12" y1="457.18" x2="213.72" y2="457.18" stroke="#000" stroke-width="1.1"/>
<line x1="229.60" y1="450.65" x2="229.60" y2="435.40" stroke="#000" stroke-width="1.1"/>
<line x1="226.80" y1="435.40" x2="232.40" y2="435.40" stroke="#000" stroke-width="1.1"/>
<line x1="192.24" y1="473.07" x2="192.24" y2="464.15" stroke="#000" stroke-width="1.1"/>
<line x1="189.44" y1="464.15" x2="195.04" y2="464.15" stroke="#000" stroke-width="1.1"/>
<line x1="210.92" y1="451.95" x2="210.92" y2="438.02" stroke="#000" stroke-width="1.1"/>
<line x1="208.12" y1="438.02" x2="213.72" y2="438.02" stroke="#000" stroke-width="1.1"/>
<line x1="229.60" y1="419.73" x2="229.60" y2="392.72" stroke="#000" stroke-width="1.1"/>
<line x1="226.80" y1="392.72" x2="232.40" y2="392.72" stroke="#000" stroke-width="1.1"/>
<line x1="229.60" y1="469.37" x2="229.60" y2="460.23" stroke="#000" stroke-width="1.1"/>
<line x1="226.80" y1="460.23" x2="232.40" y2="460.23" stroke="#000" stroke-width="1.1"/>
<line x1="229.60" y1="469.37" x2="229.60" y2="458.05" stroke="#000" stroke-width="1.1"/>
<line x1="226.80" y1="458.05" x2="232.40" y2="458.05" stroke="#000" stroke-width="1.1"/>
<circle cx="42.80" cy="515.10" r="3.7" fill="#fff" stroke="#000" stroke-width="1.1"/>
<circle cx="117.52" cy="498.68" r="3.7" fill="#fff" stroke="#000" stroke-width="1.1"/>
<circle cx="145.54" cy="492.02" r="3.7" fill="#fff" stroke="#000" stroke-width="1.1"/>
<circle cx="173.56" cy="476.34" r="3.7" fill="#fff" stroke="#000" stroke-width="1.1"/>
<circle cx="192.24" cy="459.79" r="3.7" fill="#fff" stroke="#000" stroke-width="1.1"/>
<circle cx="210.92" cy="434.10" r="3.7" fill="#fff" stroke="#000" stroke-width="1.1"/>
<circle cx="229.60" cy="387.06" r="3.7" fill="#fff" stroke="#000" stroke-width="1.1"/>
<circle cx="42.80" cy="515.10" r="4.0" fill="#000" stroke="none" stroke-width="1"/>
<circle cx="117.52" cy="503.34" r="4.0" fill="#000" stroke="none" stroke-width="1"/>
<circle cx="145.54" cy="497.24" r="4.0" fill="#000" stroke="none" stroke-width="1"/>
<circle cx="173.56" cy="488.10" r="4.0" fill="#000" stroke="none" stroke-width="1"/>
<circle cx="192.24" cy="480.26" r="4.0" fill="#000" stroke="none" stroke-width="1"/>
<circle cx="210.92" cy="468.07" r="4.0" fill="#000" stroke="none" stroke-width="1"/>
<circle cx="229.60" cy="450.65" r="4.0" fill="#000" stroke="none" stroke-width="1"/>
<path d="M42.80 511.10L47.20 519.10L38.40 519.10Z" fill="#000" stroke="none" stroke-width="1" stroke-linejoin="miter"/>
<path d="M117.52 497.60L121.92 505.60L113.12 505.60Z" fill="#000" stroke="none" stroke-width="1" stroke-linejoin="miter"/>
<path d="M145.54 490.20L149.94 498.20L141.14 498.20Z" fill="#000" stroke="none" stroke-width="1" stroke-linejoin="miter"/>
<path d="M173.56 479.74L177.96 487.74L169.16 487.74Z" fill="#000" stroke="none" stroke-width="1" stroke-linejoin="miter"/>
<path d="M192.24 469.07L196.64 477.07L187.84 477.07Z" fill="#000" stroke="none" stroke-width="1" stroke-linejoin="miter"/>
<path d="M210.92 447.95L215.32 455.95L206.52 455.95Z" fill="#000" stroke="none" stroke-width="1" stroke-linejoin="miter"/>
<path d="M229.60 415.73L234.00 423.73L225.20 423.73Z" fill="#000" stroke="none" stroke-width="1" stroke-linejoin="miter"/>
<rect x="39.20" y="511.50" width="7.2" height="7.2" fill="#000" stroke="none" stroke-width="1"/>
<rect x="113.92" y="501.05" width="7.2" height="7.2" fill="#000" stroke="none" stroke-width="1"/>
<rect x="141.94" y="496.26" width="7.2" height="7.2" fill="#000" stroke="none" stroke-width="1"/>
<rect x="169.96" y="494.52" width="7.2" height="7.2" fill="#000" stroke="none" stroke-width="1"/>
<rect x="188.64" y="487.55" width="7.2" height="7.2" fill="#000" stroke="none" stroke-width="1"/>
<rect x="207.32" y="477.10" width="7.2" height="7.2" fill="#000" stroke="none" stroke-width="1"/>
<rect x="226.00" y="465.77" width="7.2" height="7.2" fill="#000" stroke="none" stroke-width="1"/>
<path d="M42.80 510.80L46.90 518.40L38.70 518.40Z" fill="#fff" stroke="#000" stroke-width="1.1" stroke-linejoin="miter"/>
<path d="M117.52 502.70L121.62 510.30L113.42 510.30Z" fill="#fff" stroke="#000" stroke-width="1.1" stroke-linejoin="miter"/>
<path d="M145.54 498.39L149.64 505.99L141.44 505.99Z" fill="#fff" stroke="#000" stroke-width="1.1" stroke-linejoin="miter"/>
<path d="M173.56 487.28L177.66 494.88L169.46 494.88Z" fill="#fff" stroke="#000" stroke-width="1.1" stroke-linejoin="miter"/>
<path d="M192.24 484.23L196.34 491.83L188.14 491.83Z" fill="#fff" stroke="#000" stroke-width="1.1" stroke-linejoin="miter"/>
<path d="M210.92 472.48L215.02 480.08L206.82 480.08Z" fill="#fff" stroke="#000" stroke-width="1.1" stroke-linejoin="miter"/>
<path d="M229.60 465.07L233.70 472.67L225.50 472.67Z" fill="#fff" stroke="#000" stroke-width="1.1" stroke-linejoin="miter"/>
<path d="M235.9 386.8 H257.8 V405.9" fill="none" stroke="#000" stroke-width="1.1"/>
<path d="M241.4 427.8 V448.9 H233 M233 451.7 H241.4 V461.4" fill="none" stroke="#000" stroke-width="1.1"/>
<g id="sigB"><circle cx="239.30" cy="419.80" r="1.3" fill="#111"/><circle cx="243.30" cy="419.80" r="1.3" fill="#111"/><circle cx="253.20" cy="449.20" r="1.3" fill="#111"/><circle cx="257.20" cy="449.20" r="1.3" fill="#111"/><circle cx="261.20" cy="449.20" r="1.3" fill="#111"/><circle cx="240.90" cy="468.00" r="1.3" fill="#111"/><circle cx="240.90" cy="472.90" r="1.3" fill="#111"/><circle cx="253.20" cy="468.00" r="1.3" fill="#111"/><circle cx="257.20" cy="468.00" r="1.3" fill="#111"/><circle cx="261.20" cy="468.00" r="1.3" fill="#111"/><circle cx="253.20" cy="472.90" r="1.3" fill="#111"/><circle cx="257.20" cy="472.90" r="1.3" fill="#111"/><circle cx="261.20" cy="472.90" r="1.3" fill="#111"/><text x="252.3" y="423.4" font-size="10" fill="#1a1a1a">ns</text></g>
<rect x="320.8" y="342.5" width="195.40000000000003" height="173.0" fill="none" stroke="#808080" stroke-width="1.1"/>
<text transform="translate(316.20 518.85) scale(0.93 1)" font-size="10.4" text-anchor="end" fill="#1a1a1a">0</text>
<line x1="320.80" y1="490.70" x2="324.30" y2="490.70" stroke="#aaa" stroke-width="1"/>
<text transform="translate(316.20 494.42) scale(0.93 1)" font-size="10.4" text-anchor="end" fill="#1a1a1a">10</text>
<line x1="320.80" y1="465.90" x2="324.30" y2="465.90" stroke="#aaa" stroke-width="1"/>
<text transform="translate(316.20 469.99) scale(0.93 1)" font-size="10.4" text-anchor="end" fill="#1a1a1a">20</text>
<line x1="320.80" y1="441.10" x2="324.30" y2="441.10" stroke="#aaa" stroke-width="1"/>
<text transform="translate(316.20 445.56) scale(0.93 1)" font-size="10.4" text-anchor="end" fill="#1a1a1a">30</text>
<line x1="320.80" y1="416.30" x2="324.30" y2="416.30" stroke="#aaa" stroke-width="1"/>
<text transform="translate(316.20 421.13) scale(0.93 1)" font-size="10.4" text-anchor="end" fill="#1a1a1a">40</text>
<line x1="320.80" y1="391.50" x2="324.30" y2="391.50" stroke="#aaa" stroke-width="1"/>
<text transform="translate(316.20 396.70) scale(0.93 1)" font-size="10.4" text-anchor="end" fill="#1a1a1a">50</text>
<line x1="320.80" y1="366.70" x2="324.30" y2="366.70" stroke="#aaa" stroke-width="1"/>
<text transform="translate(316.20 372.27) scale(0.93 1)" font-size="10.4" text-anchor="end" fill="#1a1a1a">60</text>
<text transform="translate(316.20 347.84) scale(0.93 1)" font-size="10.4" text-anchor="end" fill="#1a1a1a">70</text>
<line x1="367.30" y1="515.50" x2="367.30" y2="513.50" stroke="#999" stroke-width="1.1"/>
<line x1="414.10" y1="515.50" x2="414.10" y2="513.50" stroke="#999" stroke-width="1.1"/>
<line x1="460.90" y1="515.50" x2="460.90" y2="513.50" stroke="#999" stroke-width="1.1"/>
<line x1="507.70" y1="515.50" x2="507.70" y2="513.50" stroke="#999" stroke-width="1.1"/>
<text transform="translate(320.00 529.80) scale(0.93 1)" font-size="10.2" text-anchor="middle" fill="#1a1a1a">0</text>
<text transform="translate(366.80 529.80) scale(0.93 1)" font-size="10.2" text-anchor="middle" fill="#1a1a1a">5</text>
<text transform="translate(413.60 529.80) scale(0.93 1)" font-size="10.2" text-anchor="middle" fill="#1a1a1a">10</text>
<text transform="translate(460.40 529.80) scale(0.93 1)" font-size="10.2" text-anchor="middle" fill="#1a1a1a">15</text>
<text transform="translate(507.20 529.80) scale(0.93 1)" font-size="10.2" text-anchor="middle" fill="#1a1a1a">20</text>
<text x="417.00" y="543.80" font-size="10.5" text-anchor="middle" font-weight="normal" fill="#1a1a1a">Days</text>
<text x="302.00" y="421.30" font-size="10" text-anchor="middle" font-weight="normal" fill="#1a1a1a" transform="rotate(-90 302.0 421.3)">Inhibition rate (%)</text>
<polyline points="320.50,515.50 395.38,386.79 423.46,381.58 451.54,378.85 470.26,378.85 488.98,371.91 507.70,356.28" fill="none" stroke="#000" stroke-width="1.3"/>
<polyline points="320.50,515.50 395.38,424.98 423.46,421.51 451.54,423.99 470.26,421.26 488.98,412.08 507.70,394.97" fill="none" stroke="#000" stroke-width="1.3"/>
<polyline points="320.50,515.50 395.38,466.89 423.46,479.04 451.54,470.86 470.26,463.67 488.98,460.94 507.70,453.50" fill="none" stroke="#000" stroke-width="1.3"/>
<rect x="316.90" y="511.90" width="7.2" height="7.2" fill="#000" stroke="none" stroke-width="1"/>
<rect x="391.78" y="383.19" width="7.2" height="7.2" fill="#000" stroke="none" stroke-width="1"/>
<rect x="419.86" y="377.98" width="7.2" height="7.2" fill="#000" stroke="none" stroke-width="1"/>
<rect x="447.94" y="375.25" width="7.2" height="7.2" fill="#000" stroke="none" stroke-width="1"/>
<rect x="466.66" y="375.25" width="7.2" height="7.2" fill="#000" stroke="none" stroke-width="1"/>
<rect x="485.38" y="368.31" width="7.2" height="7.2" fill="#000" stroke="none" stroke-width="1"/>
<rect x="504.10" y="352.68" width="7.2" height="7.2" fill="#000" stroke="none" stroke-width="1"/>
<circle cx="320.50" cy="515.50" r="3.9" fill="#000" stroke="none" stroke-width="1"/>
<circle cx="395.38" cy="424.98" r="3.9" fill="#000" stroke="none" stroke-width="1"/>
<circle cx="423.46" cy="421.51" r="3.9" fill="#000" stroke="none" stroke-width="1"/>
<circle cx="451.54" cy="423.99" r="3.9" fill="#000" stroke="none" stroke-width="1"/>
<circle cx="470.26" cy="421.26" r="3.9" fill="#000" stroke="none" stroke-width="1"/>
<circle cx="488.98" cy="412.08" r="3.9" fill="#000" stroke="none" stroke-width="1"/>
<circle cx="507.70" cy="394.97" r="3.9" fill="#000" stroke="none" stroke-width="1"/>
<path d="M320.50 511.70L324.70 519.30L316.30 519.30Z" fill="#000" stroke="none" stroke-width="1" stroke-linejoin="miter"/>
<path d="M395.38 463.09L399.58 470.69L391.18 470.69Z" fill="#000" stroke="none" stroke-width="1" stroke-linejoin="miter"/>
<path d="M423.46 475.24L427.66 482.84L419.26 482.84Z" fill="#000" stroke="none" stroke-width="1" stroke-linejoin="miter"/>
<path d="M451.54 467.06L455.74 474.66L447.34 474.66Z" fill="#000" stroke="none" stroke-width="1" stroke-linejoin="miter"/>
<path d="M470.26 459.87L474.46 467.47L466.06 467.47Z" fill="#000" stroke="none" stroke-width="1" stroke-linejoin="miter"/>
<path d="M488.98 457.14L493.18 464.74L484.78 464.74Z" fill="#000" stroke="none" stroke-width="1" stroke-linejoin="miter"/>
<path d="M507.70 449.70L511.90 457.30L503.50 457.30Z" fill="#000" stroke="none" stroke-width="1" stroke-linejoin="miter"/>
</svg>
</body></html>
